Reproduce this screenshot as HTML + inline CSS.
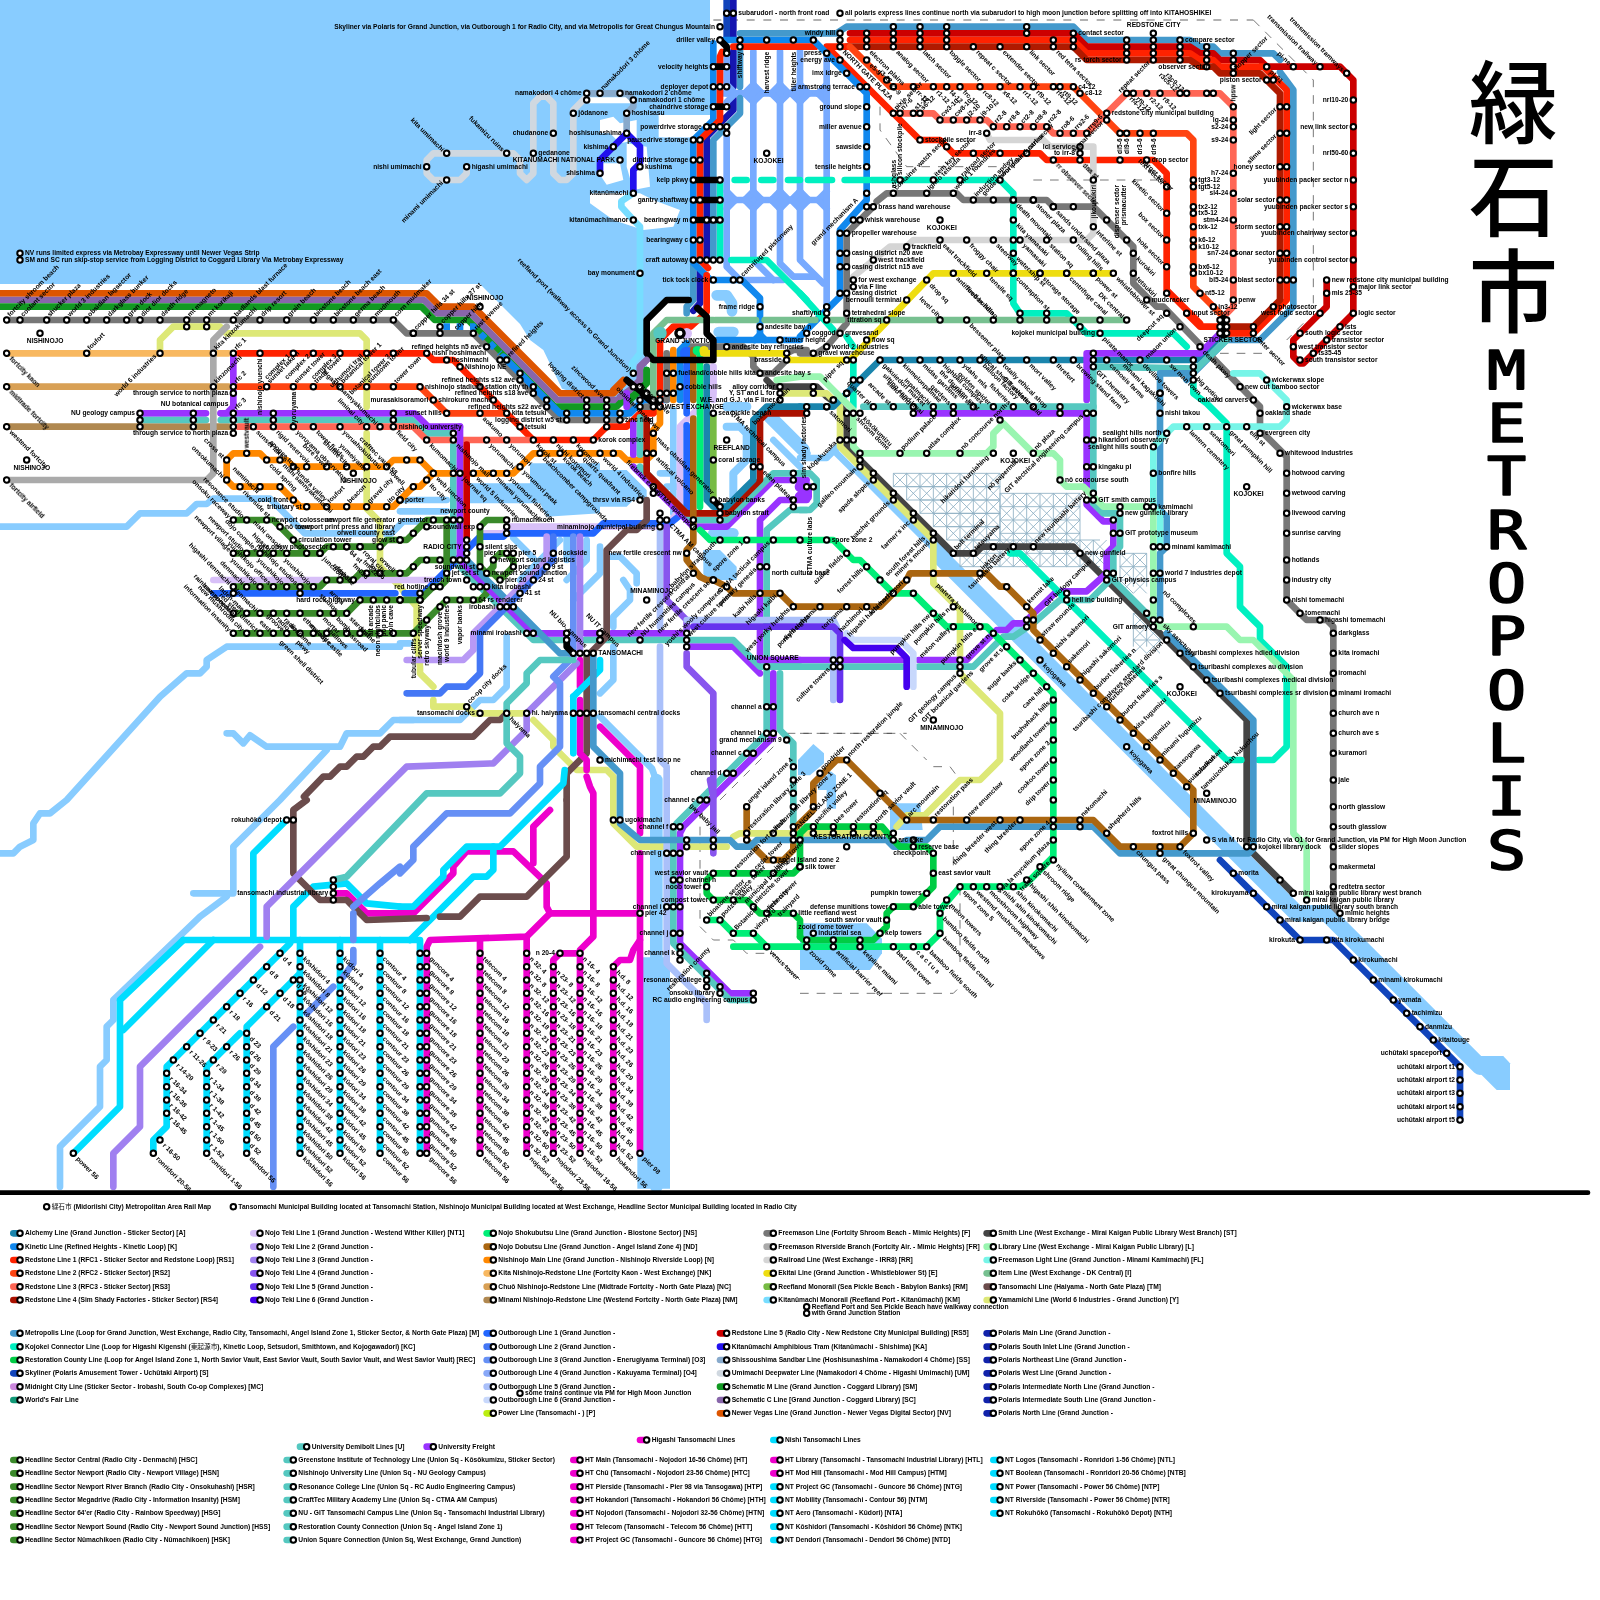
<!DOCTYPE html>
<html lang="ja"><head><meta charset="utf-8"><title>緑石市 Metropolis</title>
<style>
html,body{margin:0;padding:0;background:#fff}
svg{display:block}
.w polygon{fill:#88ccff}
.w polyline{fill:none;stroke:#88ccff;stroke-linejoin:round;stroke-linecap:round}
.l polyline{fill:none;stroke-linejoin:round;stroke-linecap:round}
.d polyline{fill:none;stroke:#999;stroke-width:.22;stroke-dasharray:1.2 1.3}
.th polyline{fill:none;stroke:#333;stroke-width:.1;stroke-dasharray:1.3 1.2}
.lat path{fill:none;stroke:#8fb0c4;stroke-width:.13}
.s circle{fill:#fff;stroke:#000;stroke-width:.3}
.t text{font-family:"Liberation Sans", "Noto Sans CJK JP", sans-serif;font-weight:bold;font-size:1px;fill:#000}
.big text{font-family:"Liberation Sans","Noto Sans CJK JP",sans-serif;font-weight:500;fill:#000}
.mono text{font-family:"DejaVu Sans Mono","Liberation Mono",monospace;font-weight:normal;fill:#000;stroke:#000;stroke-width:.25;stroke-linejoin:round}
</style></head><body>
<svg width="1600" height="1600" viewBox="0 0 240 240">
<rect x="-5" y="-5" width="250" height="250" fill="#fff"/>
<g id="all" style="filter:blur(.085px)">
<g class="w">
<polygon points="-3,-3 106.5,-3 106.5,17.25 98.8,17.25 98.8,20.6 104,20.6 104,45 100,45 97,48 97,60 93,61 84.3,58.3 81.5,52.5 79.5,51 78,48.6 72,42.6 -3,42.6"/>
<polyline stroke-width="1" points="0,79 19,79 21,77 28,77 29.5,75.6 31,75.6 32,74.8 40.5,74.8 45.7,80 58.7,80 60.5,78.2 64,78.2"/>
<polyline stroke-width="1" points="60,97 34,97 31,99 31,100 30,101 28,101 24,104.5 10,120 7.5,122 6,122 5,123.5 5,126 3,127 2,128 0,128"/>
<polyline stroke-width="1" points="34,110 35,110 36.5,111.5 37.5,110.3 40,112 51,112 52,110 57,110 59,108 62,108"/>
<polyline stroke-width="1" points="49,112.5 42,120 35,127 35,134 29,134"/>
<polyline stroke-width="1" points="34,134.5 30,137.5 17,150 17,153 16,154 16,159 15,160 15,166 9,172 9,178"/>
<polygon fill="#fff" style="fill:#fff" points="88,14.6 95.5,14.6 95.5,15.5 88,15.5"/>
<polygon fill="#fff" style="fill:#fff" points="90,18 92,17.5 93,18.5 95.5,18 95.5,21 93,21.5 91.5,20 90,20"/>
<polygon fill="#fff" style="fill:#fff" points="90.2,24.5 93,24.5 93.5,27 91,27.7 90.2,26.5"/>
<polygon fill="#fff" style="fill:#fff" points="94,21.5 97,22 97.5,28 95,28.5 94,25"/>
<polygon fill="#fff" style="fill:#fff" points="88.5,29 96,29 98,30 102,31.5 101,34 96.5,34.5 92,33 88.5,30.5"/>
<polygon fill="#fff" style="fill:#fff" points="98.8,17.25 106.5,17.25 104,20.6 99.5,20.6"/>
<polyline stroke-width="1.6" points="107.5,44.3 109,44.3 109.8,45.5 109.8,46.7"/>
<polyline stroke-width="1.6" points="107.8,49.8 110,49.8"/>
<polygon points="79.5,69.5 90,69.5 90,77 82,77.5 81,75.5 70.5,75.5 70.5,72.5 79.5,72.5"/>
<polyline stroke-width="1" points="60.5,75 67,75"/>
<polyline stroke-width="1" points="101,61.5 101,77"/>
<polyline stroke-width="1.2" points="109,64 111,64 112,65 112,69 110,71 110,75"/>
<polyline stroke-width="1.2" points="116,63 121,68"/>
<polyline stroke-width="1.6" points="107,80 110,80"/>
<polyline stroke-width="1.9" points="129,70.5 142,83.5"/>
<polyline stroke-width="2.5" points="141,83.5 194.5,137 199,137 222,160"/>
<polygon points="221,158.4 225.5,158.4 226.5,159.5 226.5,163.5 224.5,163.5 221,160"/>
<polyline stroke-width="1" points="120,68.7 124,68.7 126,66.7"/>
<polyline stroke-width="1" points="125.5,68 128,70.5"/>
<polygon points="119.7,114 122,111.6 123.6,113 123.6,114.5 121.5,116.3 119.7,116.3"/>
<polygon points="122.7,117.6 124.6,115.7 125.4,116.3 125.4,121.3 124,121.3 124,118.5 122.7,118.5"/>
<polyline stroke-width="1.9" points="98.45,117 98.45,178"/>
<polygon points="95.6,143.6 100.5,143.6 100.5,178.3 95.6,178.3"/>
<polyline stroke-width="1" points="90,107.5 97.8,115.3 98.4,117"/>
<polyline stroke-width="1" points="93.5,87 94.5,88.5 94.5,90 92,92.5 92,94"/>
<polyline stroke-width="1" points="92,97 92,102 90,104"/>
<polyline stroke-width="1" points="76,95.5 76,103 74,105 72,105 70.5,106.5 69,108 60,108"/>
<polyline stroke-width="1" points="60,96.5 61.5,96.5"/>
<polygon points="120,138.5 130,138.5 132.3,140.8 132.3,143 130.5,145.5 120,145.5"/>
<polygon points="133.5,120.5 138,120.5 138.4,124.5 133.5,124.5"/>
<polygon points="90,70.5 94,70.5 97,73.5 97,75 95,75 94,76 90,76"/>
<polyline stroke-width="1" points="99,71 101,71"/>
<polyline stroke-width="1" points="100,73 103,73"/>
<polyline stroke-width="1.4" points="109,61 112,61"/>
<polyline stroke-width="2" points="115.5,62.5 120.5,67.5"/>
<polyline stroke-width="1" points="116,66 120,70"/>
<polygon points="105.5,82.5 108,82.5 110.5,85 110.5,87 106,87 105.5,86"/>
<polyline stroke-width="1" points="91.5,83.5 93,83.5 95.5,86 95.5,87.5"/>
<polyline stroke-width="1" points="60,76.7 67,76.7"/>
<polyline stroke-width="1" points="85,80.5 85,84"/>
<polyline stroke-width="1" points="77,80.7 80,83.7"/>
<polyline stroke-width="1" points="84,81 78,87"/>
<polyline stroke-width="1" points="88,81 88,84 85,87"/>
<polyline stroke-width="1" points="90,82 90,86 86,90"/>
</g>
<g class="lat">
<path d="M134 71V73M136 71V73M138 71V73M140 71V73M142 71V73M144 71V73M146 71V73M148 71V73M150 71V73M134 71H150M134 73H150M134 71l2 2M136 71l-2 2M136 71l2 2M138 71l-2 2M138 71l2 2M140 71l-2 2M140 71l2 2M142 71l-2 2M142 71l2 2M144 71l-2 2M144 71l2 2M146 71l-2 2M146 71l2 2M148 71l-2 2M148 71l2 2M150 71l-2 2"/>
<path d="M136 73V75M138 73V75M140 73V75M142 73V75M144 73V75M146 73V75M148 73V75M150 73V75M136 73H150M136 75H150M136 73l2 2M138 73l-2 2M138 73l2 2M140 73l-2 2M140 73l2 2M142 73l-2 2M142 73l2 2M144 73l-2 2M144 73l2 2M146 73l-2 2M146 73l2 2M148 73l-2 2M148 73l2 2M150 73l-2 2"/>
<path d="M138 75V77M140 75V77M142 75V77M144 75V77M146 75V77M148 75V77M150 75V77M138 75H150M138 77H150M138 75l2 2M140 75l-2 2M140 75l2 2M142 75l-2 2M142 75l2 2M144 75l-2 2M144 75l2 2M146 75l-2 2M146 75l2 2M148 75l-2 2M148 75l2 2M150 75l-2 2"/>
<path d="M140 77V79M142 77V79M144 77V79M146 77V79M148 77V79M150 77V79M140 77H150M140 79H150M140 77l2 2M142 77l-2 2M142 77l2 2M144 77l-2 2M144 77l2 2M146 77l-2 2M146 77l2 2M148 77l-2 2M148 77l2 2M150 77l-2 2"/>
<path d="M142 79V81M144 79V81M146 79V81M148 79V81M150 79V81M142 79H150M142 81H150M142 79l2 2M144 79l-2 2M144 79l2 2M146 79l-2 2M146 79l2 2M148 79l-2 2M148 79l2 2M150 79l-2 2"/>
<path d="M150 74V81M152 74V81M154 74V81M156 74V81M158 74V81M160 74V81M162 74V81M150 74H162M150 76H162M150 78H162M150 80H162M150 74l2 2M152 74l-2 2M150 76l2 2M152 76l-2 2M150 78l2 2M152 78l-2 2M150 80l2 2M152 80l-2 2M152 74l2 2M154 74l-2 2M152 76l2 2M154 76l-2 2M152 78l2 2M154 78l-2 2M152 80l2 2M154 80l-2 2M154 74l2 2M156 74l-2 2M154 76l2 2M156 76l-2 2M154 78l2 2M156 78l-2 2M154 80l2 2M156 80l-2 2M156 74l2 2M158 74l-2 2M156 76l2 2M158 76l-2 2M156 78l2 2M158 78l-2 2M156 80l2 2M158 80l-2 2M158 74l2 2M160 74l-2 2M158 76l2 2M160 76l-2 2M158 78l2 2M160 78l-2 2M158 80l2 2M160 80l-2 2M160 74l2 2M162 74l-2 2M160 76l2 2M162 76l-2 2M160 78l2 2M162 78l-2 2M160 80l2 2M162 80l-2 2"/>
<path d="M144 81V85M146 81V85M148 81V85M150 81V85M152 81V85M154 81V85M156 81V85M158 81V85M160 81V85M162 81V85M164 81V85M144 81H165M144 83H165M144 85H165M144 81l2 2M146 81l-2 2M144 83l2 2M146 83l-2 2M146 81l2 2M148 81l-2 2M146 83l2 2M148 83l-2 2M148 81l2 2M150 81l-2 2M148 83l2 2M150 83l-2 2M150 81l2 2M152 81l-2 2M150 83l2 2M152 83l-2 2M152 81l2 2M154 81l-2 2M152 83l2 2M154 83l-2 2M154 81l2 2M156 81l-2 2M154 83l2 2M156 83l-2 2M156 81l2 2M158 81l-2 2M156 83l2 2M158 83l-2 2M158 81l2 2M160 81l-2 2M158 83l2 2M160 83l-2 2M160 81l2 2M162 81l-2 2M160 83l2 2M162 83l-2 2M162 81l2 2M164 81l-2 2M162 83l2 2M164 83l-2 2M164 81l2 2M166 81l-2 2M164 83l2 2M166 83l-2 2"/>
<path d="M168 83V88M170 83V88M172 83V88M168 83H172M168 85H172M168 87H172M168 83l2 2M170 83l-2 2M168 85l2 2M170 85l-2 2M168 87l2 2M170 87l-2 2M170 83l2 2M172 83l-2 2M170 85l2 2M172 85l-2 2M170 87l2 2M172 87l-2 2"/>
<path d="M170 92V97M172 92V97M174 92V97M170 92H174M170 94H174M170 96H174M170 92l2 2M172 92l-2 2M170 94l2 2M172 94l-2 2M170 96l2 2M172 96l-2 2M172 92l2 2M174 92l-2 2M172 94l2 2M174 94l-2 2M172 96l2 2M174 96l-2 2"/>
</g>
<g class="th">
<polyline points="188,3 197,12 197,45.5"/>
<polyline points="195.5,48.5 193,51"/>
<polyline points="183,53 191,53"/>
<polyline points="132,16 132,19.5 136,25 150,25"/>
<polyline points="155,27 175,27"/>
<polyline points="120,110 135,110 139,114"/>
<polyline points="140,115 142.5,115 144,117"/>
<polyline points="118,110 136,110"/>
<polyline points="116,112 108,120"/>
<polyline points="143,121 143,131"/>
<polyline points="144,133 144,145"/>
<polyline points="120,149 143,149 144,148"/>
<polyline points="105,121.5 105,139 107,141 110,141 112,143 116,143 120,147"/>
</g>
<g class="d">
<polyline points="107,3 188,3"/>
</g>
<g class="l">
<polyline stroke="#dd5500" stroke-width="1" points="0,44 64,44 66,46 71,46 84,59 92,59 93.5,57.5"/>
<polyline stroke="#8866aa" stroke-width="1" points="0,45 63.6,45 65.6,47 70.6,47 83.6,60 93,60 94.5,58.5 96,57 96,55 97,54"/>
<polyline stroke="#119922" stroke-width="1" points="0,46 63.2,46 65.2,48 70.2,48 83.2,61 92.5,61 94,59.5 97,57.5 97,55.5"/>
<polyline stroke="#777777" stroke-width="1" points="1,48 59,48 61,50 71,50 84,63 93,63 95,61 99,61"/>
<polyline stroke="#1188ee" stroke-width="1" stroke-dasharray="1,1" style="stroke-linecap:butt;stroke-linejoin:miter" points="66.5,49 71,49 75,53"/>
<polyline stroke="#1188ee" stroke-width="1" points="75.5,53.5 84,62 94.5,62 96.5,60 100,60 102,58"/>
<polyline stroke="#dde877" stroke-width="1" points="24,53 24,51 26,49 33,49 34,50 54,50 55,51 55,61"/>
<polyline stroke="#dde877" stroke-width="1" points="55,65 55,76.3 57,78.3 57,85 60,88 60.5,88.7 62.5,91 62.5,96 63,100 63,101 65,103"/>
<polyline stroke="#dde877" stroke-width="1" points="65,105 65,106 70,106 71,107 79,107"/>
<polyline stroke="#dde877" stroke-width="1" points="80,108 83,111 83,112 86.5,115.5 91,115.5 92,116.5 92,123.5 95.5,127 109,127"/>
<polyline stroke="#dde877" stroke-width="1" points="110,125.5 111,125 132,125"/>
<polyline stroke="#f8b860" stroke-width="1" points="1,53 34.3,53"/>
<polyline stroke="#d8a055" stroke-width="1" points="1,58 34.3,58"/>
<polyline stroke="#b08850" stroke-width="1" points="1,64 34.3,64"/>
<polyline stroke="#9933ff" stroke-width="1" points="21,62 30.9,62"/>
<polyline stroke="#9933ff" stroke-width="1" points="33.1,62 34,62 35,61 35,53"/>
<polyline stroke="#9933ff" stroke-width="1" points="33.1,62 62.2,62 64.2,64 69,64"/>
<polyline stroke="#55c8c0" stroke-width="1" points="21,63 30.9,63"/>
<polyline stroke="#55c8c0" stroke-width="1" points="33.1,63 61.8,63 63.8,65 68,65 68,84 80,96 84.5,96"/>
<polyline stroke="#aaaaaa" stroke-width="1" points="34,49 32,51 32,71 31,72 1,72"/>
<polyline stroke="#ff2200" stroke-width="1" points="35.8,53 64,53 65,54 68,54 80,66 89,66 91,64 94,64 96,62 98,62 99,61 99,59"/>
<polyline stroke="#ff4411" stroke-width="1" points="35.8,58 63,58 67,62 76,62"/>
<polyline stroke="#ff6655" stroke-width="1" points="35.8,64 62,64 64,66 79.5,66"/>
<polyline stroke="#ff8800" stroke-width="1" points="34,69 35,68 39,68 40,69 43,69 44,70 58,70 59,69 63,69 65,71 77,71 80,68 93,68 94,69 97,69 98,68 98,64.5 99,63.5 99,61"/>
<polyline stroke="#ff8800" stroke-width="1" points="34,69 34,72 35,73 42,73 45,76 59,76 62,73 63,73 65,71"/>
<polyline stroke="#d8c0f8" stroke-width="1" points="32,87 65.5,87 72.5,80 75.5,80 76.5,79 100,79 101.5,77 102,76.5 102,64 104,62 107,59 107,55"/>
<polyline stroke="#2266ff" stroke-width="1" points="32,89 59.3,89"/>
<polyline stroke="#2266ff" stroke-width="1" points="60.7,89 63.5,89 72,80.5 75.5,80.5 76,80 89,80 90.5,78.5 100.5,78.5 103,76.5 103,63.8"/>
<polyline stroke="#2266ff" stroke-width="1" points="103,62 103,55"/>
<polyline stroke="#3a8a2a" stroke-width="1" points="35,78 41,78 46,83"/>
<polyline stroke="#3a8a2a" stroke-width="1" points="35,83 48,83 49,82 57,82 58,81 61,81 64,78 69,78"/>
<polyline stroke="#3a8a2a" stroke-width="1" points="35,88 48,88 49,87 53,87 54,86 61,86 63,84 70,84"/>
<polyline stroke="#3a8a2a" stroke-width="1" points="35,92 52,92 54,90 63,90 65,88 66,88 67,87 67,78"/>
<polyline stroke="#3a8a2a" stroke-width="1" points="35,95 62,95 67,90 72,90 73,89 73,88 69,84"/>
<polyline stroke="#3a8a2a" stroke-width="1" points="76,78 73,78 72,79 72,85 73,86 74,86 75,87 77,85 77,84 76,83 75,83 74,84 74,85 73,86"/>
<polyline stroke="#d0d8e0" stroke-width="1" points="70,25 70,26 69,27 65,27 64,26 64,24 65,23 77,23 78,24 78,26 79,27 80,26 80,15.5 81,14.5 82,14.5 83,15.5 83,26 84,27 85,27 86,26 86,16.5 88,14.5"/>
<polyline stroke="#88aacc" stroke-width="1" points="88,14 94,14 95,15 95,16 94,17 94,20"/>
<polyline stroke="#2211ee" stroke-width="1" points="94,20 91,23 90,24 90,26"/>
<polyline stroke="#2211ee" stroke-width="1" points="94,20 96,22 96,24.5 95,25.5 95,29"/>
<polyline stroke="#77ddff" stroke-width="1" points="95,29 93.2,30.2 93.2,31 95,33 96,34 96,53 94.8,54.5 95,56"/>
<polyline stroke="#77aaff" stroke-width="1" points="109,8.5 109,14"/>
<polyline stroke="#77aaff" stroke-width="1" points="109,20.5 109,40 111,42 117.5,42"/>
<polyline stroke="#77aaff" stroke-width="1" points="108.5,14 124,14"/>
<polyline stroke="#77aaff" stroke-width="1" points="108.5,30 124,30"/>
<polyline stroke="#77aaff" stroke-width="1" points="113,7.7 113,39 116,42"/>
<polyline stroke="#77aaff" stroke-width="1" points="117,7.7 117,39.5 119,41.5 122,41.5"/>
<polyline stroke="#77aaff" stroke-width="1" points="120,7.7 120,39 123.5,42.5"/>
<polyline stroke="#00f0c0" stroke-width="1" stroke-dasharray="1.8,2.2" points="110.2,27 120,27"/>
<polyline stroke="#00f0c0" stroke-width="1" points="108,27.5 108,39"/>
<polyline stroke="#00f0c0" stroke-width="1" points="109.7,39 115,39 121,45"/>
<polyline stroke="#1144bb" stroke-width="1" points="109,0 109,5.5"/>
<polyline stroke="#1515b0" stroke-width="1" points="110,0 110,5.5"/>
<polyline stroke="#4499cc" stroke-width="1" points="111,13 111,7.5"/>
<polyline stroke="#4499cc" stroke-width="1" points="111,14.7 111,17 107,21 107,39"/>
<polyline stroke="#4499cc" stroke-width="1" points="104,39.7 104,45 103,46 103,47"/>
<polyline stroke="#1515b0" stroke-width="1" points="110,7.7 110,13"/>
<polyline stroke="#1515b0" stroke-width="1" points="110,14.8 110,16.5 106,20.5 106,39"/>
<polyline stroke="#1515b0" stroke-width="1" points="105,40.7 105,45.5 104,46.6"/>
<polyline stroke="#1188ee" stroke-width="1" points="108.6,6 122,6"/>
<polyline stroke="#1188ee" stroke-width="1" points="107,6.5 107,18 104,21 104,39.4 106.6,42 111.3,42 114,44.7 114,50.3"/>
<polyline stroke="#1188ee" stroke-width="1" points="107.6,51 120,51"/>
<polyline stroke="#1188ee" stroke-width="1" points="113.2,51 114,50.2 114.8,51"/>
<polyline stroke="#ff2200" stroke-width="1" points="110,7 122.3,7"/>
<polyline stroke="#ff2200" stroke-width="1" points="109,8 108.3,7.8 108,8.5 108,18 105,21 105,39 106.2,40.2"/>
<polyline stroke="#ff2200" stroke-width="1" points="106,41.3 106,46.8 103.6,49 101,49 99,51 99,60"/>
<polyline stroke="#000" stroke-width="1" points="108,6 109,7 109,8"/>
<polyline stroke="#000" stroke-width="1" points="107,10 109,10"/>
<polyline stroke="#000" stroke-width="1" points="107,16 109,16"/>
<polyline stroke="#000" stroke-width="1" points="104,27 108,27"/>
<polyline stroke="#000" stroke-width="1" points="104,30 108,30"/>
<polyline stroke="#000" stroke-width="1" points="104,33 108,33"/>
<polyline stroke="#77c090" stroke-width="1" points="98,60 98,50 100,48 107,48"/>
<polyline stroke="#77c090" stroke-width="1" points="107.3,48 113.4,48"/>
<polyline stroke="#77c090" stroke-width="1" points="114.7,48 120,48"/>
<polyline stroke="#777777" stroke-width="1" points="100,60 100,53"/>
<polyline stroke="#777777" stroke-width="1" points="103,52 111.5,52 113,53.5 113,55 114,56 116,56 118,54 118,53 119,52.5 121,52.5"/>
<polyline stroke="#ff8800" stroke-width="1" points="101,60 101,52.5"/>
<polyline stroke="#1188ee" stroke-width="1" points="102,60 102,52.5 103,51.5"/>
<polyline stroke="#2266ff" stroke-width="1" points="103,60 103,53"/>
<polyline stroke="#2266ff" stroke-width="2" points="103,53 103,53.01"/>
<polyline stroke="#55c8c0" stroke-width="2" points="99,50 99,50.01"/>
<polyline stroke="#d8c0f8" stroke-width="1.6" points="103,50 103,50.01"/>
<polyline stroke="#aa6611" stroke-width="1" points="104,60 104,52.5"/>
<polyline stroke="#00ee77" stroke-width="1" points="105,60 105,52.5"/>
<polyline stroke="#00ee77" stroke-width="1.4" points="104.6,52.6 104.6,52.61"/>
<polyline stroke="#eedd11" stroke-width="1.4" points="105.6,52.6 105.6,52.61"/>
<polyline stroke="#eedd11" stroke-width="1" points="105.5,53 117.5,53 118.5,54 126,54"/>
<polyline stroke="#1a85ad" stroke-width="1" points="106,60 106,55"/>
<polyline stroke="#d8c0f8" stroke-width="1" points="107,60 107,55"/>
<polyline stroke="#000" stroke-width="1" points="103.3,45 100,45 97,48 97,53 98,54 107,54 107,51 106,50 106,47.5 104.6,46.2"/>
<polyline stroke="#000" stroke-width="1" points="94,57 98,60.5"/>
<polyline stroke="#8866aa" stroke-width="1" points="93,59.5 94.5,58.5 96,57 96,55 97,54"/>
<polyline stroke="#119922" stroke-width="1" points="94,60.5 97,57.5 97,55.5"/>
<polyline stroke="#dd5500" stroke-width="1" points="92,58.5 93.5,57"/>
<polyline stroke="#444444" stroke-width="1" points="115,57 116,58 122.5,58 124,59.5 126,61 127,62 127,67 143,83 146.3,83 147.3,82 161,82 187,108 187,127 194,134"/>
<polyline stroke="#99f5b0" stroke-width="1" points="116.5,57 120,56.5"/>
<polyline stroke="#dde877" stroke-width="1" points="117.5,59 124,59 126,61 126,67 140,81 140,87.5 144,91.5 144,101 150,107 150,114 147,117 144,117 138.7,122.3 136,122.3 134.5,124"/>
<polyline stroke="#77aaff" stroke-width="1" points="111.7,14 113,12.7"/>
<polyline stroke="#77aaff" stroke-width="1" points="111.7,14 113,15.3"/>
<polyline stroke="#77aaff" stroke-width="1" points="114.3,14 113,12.7"/>
<polyline stroke="#77aaff" stroke-width="1" points="114.3,14 113,15.3"/>
<polyline stroke="#77aaff" stroke-width="1" points="111.7,30 113,28.7"/>
<polyline stroke="#77aaff" stroke-width="1" points="111.7,30 113,31.3"/>
<polyline stroke="#77aaff" stroke-width="1" points="114.3,30 113,28.7"/>
<polyline stroke="#77aaff" stroke-width="1" points="114.3,30 113,31.3"/>
<polyline stroke="#77aaff" stroke-width="1" points="115.7,14 117,12.7"/>
<polyline stroke="#77aaff" stroke-width="1" points="115.7,14 117,15.3"/>
<polyline stroke="#77aaff" stroke-width="1" points="118.3,14 117,12.7"/>
<polyline stroke="#77aaff" stroke-width="1" points="118.3,14 117,15.3"/>
<polyline stroke="#77aaff" stroke-width="1" points="115.7,30 117,28.7"/>
<polyline stroke="#77aaff" stroke-width="1" points="115.7,30 117,31.3"/>
<polyline stroke="#77aaff" stroke-width="1" points="118.3,30 117,28.7"/>
<polyline stroke="#77aaff" stroke-width="1" points="118.3,30 117,31.3"/>
<polyline stroke="#77aaff" stroke-width="1" points="118.7,14 120,12.7"/>
<polyline stroke="#77aaff" stroke-width="1" points="118.7,14 120,15.3"/>
<polyline stroke="#77aaff" stroke-width="1" points="121.3,14 120,12.7"/>
<polyline stroke="#77aaff" stroke-width="1" points="121.3,14 120,15.3"/>
<polyline stroke="#77aaff" stroke-width="1" points="118.7,30 120,28.7"/>
<polyline stroke="#77aaff" stroke-width="1" points="118.7,30 120,31.3"/>
<polyline stroke="#77aaff" stroke-width="1" points="121.3,30 120,28.7"/>
<polyline stroke="#77aaff" stroke-width="1" points="121.3,30 120,31.3"/>
<polyline stroke="#77aaff" stroke-width="1" points="110.3,14 109,12.7"/>
<polyline stroke="#77aaff" stroke-width="1" points="110.3,14 109,15.3"/>
<polyline stroke="#77aaff" stroke-width="1" points="122.7,14 124,12.7"/>
<polyline stroke="#77aaff" stroke-width="1" points="122.7,14 124,15.3"/>
<polyline stroke="#77aaff" stroke-width="1" points="110.3,30 109,28.7"/>
<polyline stroke="#77aaff" stroke-width="1" points="110.3,30 109,31.3"/>
<polyline stroke="#77aaff" stroke-width="1" points="122.7,30 124,28.7"/>
<polyline stroke="#77aaff" stroke-width="1" points="122.7,30 124,31.3"/>
<polyline stroke="#9933ff" stroke-width="1" points="69,64 69,84 80,95 84.5,95"/>
<polyline stroke="#9933ff" stroke-width="1" points="87.7,95 90,95"/>
<polyline stroke="#9933ff" stroke-width="1" points="91.7,95 102.5,95"/>
<polyline stroke="#9933ff" stroke-width="1" points="103,97 110,97 114,101"/>
<polyline stroke="#9933ff" stroke-width="1" points="115.5,99 120,99"/>
<polyline stroke="#9933ff" stroke-width="1" points="116,101 116,110.5 109.5,117 102.5,124 102,125 102,141.5 109.5,149 113,149"/>
<polyline stroke="#55c8c0" stroke-width="1" points="87.7,96 110,96 114,100 115,100"/>
<polyline stroke="#55c8c0" stroke-width="1" points="116,100 120,100"/>
<polyline stroke="#55c8c0" stroke-width="1" points="117,101 117,109.5 119,111.5 119,123.5"/>
<polyline stroke="#cc0000" stroke-width="1" points="70,66.7 70,80.5"/>
<polyline stroke="#4499cc" stroke-width="1" points="70,84 84,98 86,98"/>
<polyline stroke="#b899f5" stroke-width="1" points="82,80.5 82,84 71,95 71,97.5 70,98.5 69.5,99 61,99"/>
<polyline stroke="#4477f5" stroke-width="1" points="83,80.5 83,84 72,95 72,101 70,103 67,103 66,104 61,104"/>
<polyline stroke="#6690f5" stroke-width="1" points="86,80.5 86,97.5"/>
<polyline stroke="#a080f0" stroke-width="1" points="87,80.5 87,97.5"/>
<polyline stroke="#9933ff" stroke-width="1" points="94,59 94,61"/>
<polyline stroke="#9933ff" stroke-width="1" points="95,63.5 95,68.2"/>
<polyline stroke="#9933ff" stroke-width="1" points="95,70 103.5,78.5 104,79 109,79 116,72 121,72"/>
<polyline stroke="#55c8c0" stroke-width="1" points="96,62.6 96,68.2"/>
<polyline stroke="#55c8c0" stroke-width="1" points="96,70 104,78 109,78 116,71 120,71"/>
<polyline stroke="#9933ff" stroke-width="1" points="121,75 117,75 114,78 114,92.5"/>
<polyline stroke="#9933ff" stroke-width="1" points="114,94.6 114,99"/>
<polyline stroke="#55c8c0" stroke-width="1" points="121,76.5 118.5,76.5 115,79.5 115,110 108,117 101.5,123.5 101,124.5 101,141.5 109.5,150 113,150"/>
<polyline stroke="#aa1100" stroke-width="1" points="97,63 97,71 103,77 109,77 114,72 114,63 115,62 121,62"/>
<polyline stroke="#1a85ad" stroke-width="1" points="106,60 106,75 107,76 109,76 113,72 113,63 115,61 120,61"/>
<polyline stroke="#77bb44" stroke-width="1" points="107,62 107,75"/>
<polyline stroke="#000" stroke-width="1" points="107,75 108,76"/>
<polyline stroke="#aa6611" stroke-width="1" points="104,62.8 104,81.4 103,82.5 103,84 105,86.5"/>
<polyline stroke="#00ee77" stroke-width="1" points="105,60 105,76"/>
<polyline stroke="#00ee77" stroke-width="1" points="105,79.5 106.5,81 120,81"/>
<polyline stroke="#6b4c4c" stroke-width="1" points="97,75 97,78 95.5,79.5 94,79.5 91,82.5 91,95.5 89.5,97 88,98.5 88,113 85,116 85,120"/>
<polyline stroke="#aac0fa" stroke-width="1" points="99,79.5 99,94"/>
<polyline stroke="#aac0fa" stroke-width="1" points="99,97 99,114 100,115 100,144.5 106,150.5 106,153"/>
<polyline stroke="#8855ee" stroke-width="1" points="100,79 100,90 103,93 103,94.5"/>
<polyline stroke="#8855ee" stroke-width="1" points="103,98 103,100 107,104 107,128"/>
<polyline stroke="#000" stroke-width="1" points="94,57 99,61"/>
<polyline stroke="#77aaff" stroke-width="1" points="124,7.7 124,46"/>
<polyline stroke="#4499cc" stroke-width="1" points="111,5 125.5,5 127,4 161,4 163,6 178.5,6 180,7 182,7 183,8 191,8 192,9"/>
<polyline stroke="#4499cc" stroke-width="1" points="192,10.8 194,13.5 194,46 189,51 184,51 178,57"/>
<polyline stroke="#cc0000" stroke-width="1" points="127.5,5 161,5 163,7 178.5,7 180,8 182,8 183,9 189,9 190,10 201,10 203,12 203,47 195.5,54.5 195,54.5 194,53.5 194,51 199,46 199,42"/>
<polyline stroke="#ff2200" stroke-width="1" points="127.5,6 161,6 163,8 178.5,8 180,9 182,9 183,10 189.5,10 193,13.5 193,45 188,50 184,50"/>
<polyline stroke="#b01a00" stroke-width="1" points="127,7 161,7 163,9 178.5,9 180,10 182,10 183,11 189,11 192,14 192,45 188,49 184.5,49"/>
<polyline stroke="#ff2200" stroke-width="1" points="127,7 124,7 138,21 141,21 143,23 156,23 157,24 173,24 175,26 175,43.5 180,48.5"/>
<polyline stroke="#ff2200" stroke-width="1" points="178,47 180,49 183,49"/>
<polyline stroke="#ff4411" stroke-width="1" points="127.5,7 133.5,13 161,13 168,20 178,20 179,21 179,43 183,47"/>
<polyline stroke="#ff6655" stroke-width="1" points="134,17 140,17 141,18 148,18 149,19 157,19 158,20 163,20 169,14 183,14 185,16 185,46 184,47"/>
<polyline stroke="#d5d5d5" stroke-width="1" points="148,20 148.5,21 156.5,21 157.5,22 164,22 164,35 163,36 137,36 136,37 133.5,37 128,41.5 128,42"/>
<polyline stroke="#1188ee" stroke-width="1" points="122,6 129,13 130,14 130,30 126,34.5 126,44.5 120,50.5"/>
<polyline stroke="#00f0c0" stroke-width="1" stroke-dasharray="3.6,1.9" points="121.2,27 130.5,27"/>
<polyline stroke="#00f0c0" stroke-width="1" points="130.7,27 150,27 152,29 152,45.5 153,47 160,47 163,50 176,50 178,52"/>
<polyline stroke="#00f0c0" stroke-width="1" points="120,44 125,49.5"/>
<polyline stroke="#00f0c0" stroke-width="1" points="127,50.5 128,52"/>
<polyline stroke="#00f0c0" stroke-width="1" points="128,54.5 128,61"/>
<polyline stroke="#00f0c0" stroke-width="1" points="179,57.5 179,59 181,60.5 184,63.5 184,83 186,85 186,91 189,94 189,96 193,100 193,112 191,114 188.8,114"/>
<polyline stroke="#00f0c0" stroke-width="1" points="186.2,114 184,114 180,110"/>
<polyline stroke="#777777" stroke-width="1" points="131.5,30.2 133,29 143.5,29 144.5,30 157,30 158,31 164,31 170,37 170,42.5 172.5,45 173.5,46 174.5,46 188,60 189,61 189,64.5 193,68.5 193,90 195,92 196,93 199,93 200,94 200,136 201,137"/>
<polyline stroke="#777777" stroke-width="1" points="131,31 127,35 127,48.5 124,52 122.5,53 120,53"/>
<polyline stroke="#eedd11" stroke-width="1" points="126,54 127.5,54 140,41 167,41"/>
<polyline stroke="#77c090" stroke-width="1" points="120,48 122.3,48"/>
<polyline stroke="#77c090" stroke-width="1" points="124.6,48 126.3,48"/>
<polyline stroke="#77c090" stroke-width="1" points="127.8,48 169,48"/>
<polyline stroke="#1a85ad" stroke-width="1" points="120,61 123.3,61"/>
<polyline stroke="#1a85ad" stroke-width="1" points="124.2,61 125,61 132,54 162.4,54"/>
<polyline stroke="#1a85ad" stroke-width="1" points="163.6,54 179.5,54 183,50.5"/>
<polyline stroke="#9933ff" stroke-width="1" points="163,60 163,53 180,53 183,50"/>
<polyline stroke="#9933ff" stroke-width="1" points="137,62 162.5,62 163,62.5 163,73"/>
<polyline stroke="#9933ff" stroke-width="1" points="163,75 163,75.7 165.5,78.2 167,78.2 167,82 166,83 166,86 163,88.7 158.5,88.7 153.5,93.5 152,93.5 151,94.5 149.5,94.5 145,99 137.8,99"/>
<polyline stroke="#9933ff" stroke-width="1" points="135.3,99 114,99"/>
<polyline stroke="#55c8c0" stroke-width="1" points="164,75.5 164,55 179.5,55.3 184,51"/>
<polyline stroke="#55c8c0" stroke-width="1" points="129.5,61 164,61"/>
<polyline stroke="#55c8c0" stroke-width="1" points="164,75.5 165.5,77 168,77 168,82 167,83 167,86.5 163.5,90 159,90 155,93.5 153.5,94.5 152,95.5 150.5,95.5 146,100 137.8,100"/>
<polyline stroke="#55c8c0" stroke-width="1" points="135.3,100 115,100"/>
<polyline stroke="#55c8c0" stroke-width="1" points="167,87 173,93"/>
<polyline stroke="#4499cc" stroke-width="1" points="174,56.5 174,76.5 175,77.5 175,82 174,83 174,93"/>
<polyline stroke="#4499cc" stroke-width="1" points="175,95 188,108 188,127.3 187.3,128 168,128 164,124 141,124 139,126 136,126 135,127 134,127 133,126 120,126"/>
<polyline stroke="#4499cc" stroke-width="1" points="174,56 179,56"/>
<polyline stroke="#77f5e8" stroke-width="1" points="185,56 189,56 193,60 193,63 192,64 176,64 173,67 173,76 174,77 174,82"/>
<polyline stroke="#99f5b0" stroke-width="1" points="120,56.5 123,56.5 125,58.5 127,60.5 128,61.5 128,67 129,68 148,68 149,67 149,65 150.5,63.5 155,68 158,68 159,69 159,72 160,73 162.5,73 165.5,76 173,76 173,93.5 174,94 184,94 186,96 188,96 194,102 194,125 196,127 196,135"/>
<polyline stroke="#000" stroke-width="1.6" points="183.5,48 183.5,50"/>
<polyline stroke="#00ee77" stroke-width="1" points="120,81 125,81 128,84 129,84 132,87 134,89 137,89 142,94 148,94 158,104 158,128.5 154,132.5 153,133 144,133 141,136.5 141,140 139,142 110,142"/>
<polyline stroke="#aa6611" stroke-width="1" points="105,86.5 106,87 107,87 109,88 110,89 117,89 119,91 132,91 136,87 136.5,86 148,86 150,88 151,88 155,92 155,94.5 179,118.5 179,125 177,127 168,127 164,123 136,123 127,114 125.5,114 122,117.5 122,121.5 119.5,124 119,124.5 119,127.5 117.5,129 115,129 112.5,126.5 112,126 112,121"/>
<polyline stroke="#00f0c0" stroke-width="1" points="151.5,83 153,83 180,110"/>
<polyline stroke="#aac0fa" stroke-width="1" points="103,93 125,93 125.5,94 125,94.5 125,105"/>
<polyline stroke="#6633ee" stroke-width="1" points="104,94 125,94 126,95 126,105"/>
<polyline stroke="#c8d8fc" stroke-width="1" points="127,95 128,96 135,96 137,98 137,103"/>
<polyline stroke="#4400ee" stroke-width="1" points="126.7,96 128,97.2 134.5,97.2 136,98.7 136,103"/>
<polyline stroke="#55c8c0" stroke-width="1" points="120,71 121.5,71 122.5,72 122.5,75.5 121.5,76.5 120,76.5"/>
<polyline stroke="#9933ff" stroke-width="1.6" points="120,73 121,73 121,74.5 120,74.5"/>
<polyline stroke="#1144bb" stroke-width="1" points="183,129 195,141 200,141 219,160 219,168"/>
<polyline stroke="#ee00cc" stroke-width="1" points="87,99 87,103"/>
<polyline stroke="#ee00cc" stroke-width="1" points="87,105 87,113 88,114 88,115.5"/>
<polyline stroke="#ee00cc" stroke-width="1" points="90,109 96,115 96,125"/>
<polyline stroke="#ee00cc" stroke-width="1" points="96,128 96,141 95,142.5 94.5,144 93,144 92,145 92,173"/>
<polyline stroke="#ee00cc" stroke-width="1" points="96,141 96,173"/>
<polyline stroke="#ee00cc" stroke-width="1" points="82.5,137 96,137"/>
<polyline stroke="#ee00cc" stroke-width="1" points="88,116.5 88.5,118 89,119 89,140.5 87,142.5 87,173"/>
<polyline stroke="#ee00cc" stroke-width="1" points="87,143 84,143 83,144 83,173"/>
<polyline stroke="#ee00cc" stroke-width="1" points="82.5,121.5 80,124 80,129.5"/>
<polyline stroke="#ee00cc" stroke-width="1" points="60,137 62,137 68,131 68,130 70,127.7 77,127.7 82,132.5 82,136 82.5,137 79,140.5 64.5,141 64,142 64,173"/>
<polyline stroke="#ee00cc" stroke-width="1" points="72,141 72,173"/>
<polyline stroke="#ee00cc" stroke-width="1" points="79,140.5 79,173"/>
<polyline stroke="#ee00cc" stroke-width="1" points="50,134 52,134 55,137 60,137"/>
<polyline stroke="#00ddff" stroke-width="1" points="27.5,141 63,141 63,173"/>
<polyline stroke="#00ddff" stroke-width="1" points="11,173 18,166 18,150 27.5,141"/>
<polyline stroke="#00ddff" stroke-width="1" points="18.5,154.5 32,141"/>
<polyline stroke="#00ddff" stroke-width="1" points="38,141 38,128 43,123"/>
<polyline stroke="#00ddff" stroke-width="1" points="44,141 44,136 47,133 52,132.5 55,135.5 60,136"/>
<polyline stroke="#00ddff" stroke-width="1" points="57,141 57,173"/>
<polyline stroke="#00ddff" stroke-width="1" points="51,141 51,173"/>
<polyline stroke="#00ddff" stroke-width="1" points="45,141 45,173"/>
<polyline stroke="#00ddff" stroke-width="1" points="43.5,141.5 42,143 26,159 25,160 25,169 23,171 23,173"/>
<polyline stroke="#00ddff" stroke-width="1" points="45,146 44,147 38,153 37,154 37,173"/>
<polyline stroke="#00ddff" stroke-width="1" points="36,155 32,159 31,160 31,173"/>
<polyline stroke="#00ddff" stroke-width="1" points="86,104.5 86,113"/>
<polyline stroke="#00ddff" stroke-width="1" points="86,104.5 90,100.5 90,99"/>
<polyline stroke="#00ddff" stroke-width="1" points="84.7,115.5 84.5,117.5 75.5,126.5 75,127 70,127 66.5,130.5 66.5,131.5 62,136 60,136"/>
<polyline stroke="#00ddff" stroke-width="1" points="74,127 74,130.5 73,131.5 71,131.5 61.5,141"/>
<polyline stroke="#6b4c4c" stroke-width="1" points="46,120 44,121.5 44,131 48,135 52,135 55,138 64,137.7"/>
<polyline stroke="#6b4c4c" stroke-width="1" points="66,137.5 69,137.5 72,134.5 79,134.5 85,128.5 85,120"/>
<polyline stroke="#6b4c4c" stroke-width="1" points="76,107 75,108 73.5,108 71,110.5 58.5,110.5 57,112 56,112 54.5,113.5 53.5,113.5 52,115 51,115 49.5,116.5 48.5,116.5 45.6,119.5"/>
<polyline stroke="#a080f0" stroke-width="1" points="86.5,99.5 79,107 79,109.5 74,114.5 61,115 56,120 40,136 40,140.5"/>
<polyline stroke="#a080f0" stroke-width="1" points="39,142 21,160 21,169 17,173 17,178"/>
<polyline stroke="#6690f5" stroke-width="1" points="86,98.5 83,101.5 84,102.5 84,112 81,115 81,117.5 76.5,122 67,122 62,127 62,129 60,131"/>
<polyline stroke="#6690f5" stroke-width="1" points="53,137 53,141"/>
<polyline stroke="#6690f5" stroke-width="1" points="53,142.5 53,144.5 51.5,146.5"/>
<polyline stroke="#6690f5" stroke-width="1" points="50,148 46,152"/>
<polyline stroke="#6690f5" stroke-width="1" points="44,154 41,157 41,178"/>
<polyline stroke="#6690f5" stroke-width="1" points="53,136 57,132.5 60,130"/>
<polyline stroke="#55c8c0" stroke-width="1" points="86,99 81,99 79,101 79,102.5 76,105.5 76,111.5 78,113.5 78,116 75,119 64,119 52,131.5 50,132"/>
<polyline stroke="#4499cc" stroke-width="1" points="89,98.5 89,112 93,116 93,123.5 96,126 109.5,126 110.5,127 112.5,127 113.5,126 120,126"/>
<polyline stroke="#00cc44" stroke-width="1" points="120,140.5 120.5,141 131,141 133,139 133,137 134,136 137,136 140,133 140,128 139,127 135,127 134,126 132.3,124 121,124 120,125 120,130 119,131 107,131 106,132 106,134 107,135 112,135 114,137 119,137 120,138 120,140.5"/>
<polyline stroke="#00ee77" stroke-width="1" points="106,138 108,138 110,140 113,140 115,142"/>
<polyline stroke="#8855ee" stroke-width="1" points="106.5,117 107,119.5"/>
<polyline stroke="#000" stroke-width="1" points="85,96 85,97 86,98"/>
<polyline stroke="#000" stroke-width=".7" points="0,178.9 238.2,178.9"/>
<polyline stroke="#1a85ad" stroke-width="1" points="2,185 3,185"/>
<polyline stroke="#1188ee" stroke-width="1" points="2,187 3,187"/>
<polyline stroke="#ff2200" stroke-width="1" points="2,189 3,189"/>
<polyline stroke="#ff4411" stroke-width="1" points="2,191 3,191"/>
<polyline stroke="#ff6655" stroke-width="1" points="2,193 3,193"/>
<polyline stroke="#aa1100" stroke-width="1" points="2,195 3,195"/>
<polyline stroke="#d8c0f8" stroke-width="1" points="38,185 39,185"/>
<polyline stroke="#b899f5" stroke-width="1" points="38,187 39,187"/>
<polyline stroke="#a080f0" stroke-width="1" points="38,189 39,189"/>
<polyline stroke="#8855ee" stroke-width="1" points="38,191 39,191"/>
<polyline stroke="#6633ee" stroke-width="1" points="38,193 39,193"/>
<polyline stroke="#4400ee" stroke-width="1" points="38,195 39,195"/>
<polyline stroke="#00ee77" stroke-width="1" points="73,185 74,185"/>
<polyline stroke="#aa6611" stroke-width="1" points="73,187 74,187"/>
<polyline stroke="#ff8800" stroke-width="1" points="73,189 74,189"/>
<polyline stroke="#f8b860" stroke-width="1" points="73,191 74,191"/>
<polyline stroke="#d8a055" stroke-width="1" points="73,193 74,193"/>
<polyline stroke="#b08850" stroke-width="1" points="73,195 74,195"/>
<polyline stroke="#777777" stroke-width="1" points="115,185 116,185"/>
<polyline stroke="#aaaaaa" stroke-width="1" points="115,187 116,187"/>
<polyline stroke="#d5d5d5" stroke-width="1" points="115,189 116,189"/>
<polyline stroke="#eedd11" stroke-width="1" points="115,191 116,191"/>
<polyline stroke="#77bb44" stroke-width="1" points="115,193 116,193"/>
<polyline stroke="#77ddff" stroke-width="1" points="115,195 116,195"/>
<polyline stroke="#444444" stroke-width="1" points="148,185 149,185"/>
<polyline stroke="#99f5b0" stroke-width="1" points="148,187 149,187"/>
<polyline stroke="#77f5e8" stroke-width="1" points="148,189 149,189"/>
<polyline stroke="#77c090" stroke-width="1" points="148,191 149,191"/>
<polyline stroke="#6b4c4c" stroke-width="1" points="148,193 149,193"/>
<polyline stroke="#dde877" stroke-width="1" points="148,195 149,195"/>
<polyline stroke="#4499cc" stroke-width="1" points="2,200 3,200"/>
<polyline stroke="#00f0c0" stroke-width="1" points="2,202 3,202"/>
<polyline stroke="#00cc44" stroke-width="1" points="2,204 3,204"/>
<polyline stroke="#1144bb" stroke-width="1" points="2,206 3,206"/>
<polyline stroke="#cc88dd" stroke-width="1" points="2,208 3,208"/>
<polyline stroke="#119977" stroke-width="1" points="2,210 3,210"/>
<polyline stroke="#2266ff" stroke-width="1" points="73,200 74,200"/>
<polyline stroke="#4477f5" stroke-width="1" points="73,202 74,202"/>
<polyline stroke="#6690f5" stroke-width="1" points="73,204 74,204"/>
<polyline stroke="#88a8f8" stroke-width="1" points="73,206 74,206"/>
<polyline stroke="#aac0fa" stroke-width="1" points="73,208 74,208"/>
<polyline stroke="#c8d8fc" stroke-width="1" points="73,210 74,210"/>
<polyline stroke="#bbee11" stroke-width="1" points="73,212 74,212"/>
<polyline stroke="#cc0000" stroke-width="1" points="108,200 109,200"/>
<polyline stroke="#2211ee" stroke-width="1" points="108,202 109,202"/>
<polyline stroke="#88aacc" stroke-width="1" points="108,204 109,204"/>
<polyline stroke="#d0d8e0" stroke-width="1" points="108,206 109,206"/>
<polyline stroke="#119922" stroke-width="1" points="108,208 109,208"/>
<polyline stroke="#8866aa" stroke-width="1" points="108,210 109,210"/>
<polyline stroke="#dd5500" stroke-width="1" points="108,212 109,212"/>
<polyline stroke="#1122aa" stroke-width="1" points="148,200 149,200"/>
<polyline stroke="#1122aa" stroke-width="1" points="148,202 149,202"/>
<polyline stroke="#1122aa" stroke-width="1" points="148,204 149,204"/>
<polyline stroke="#1122aa" stroke-width="1" points="148,206 149,206"/>
<polyline stroke="#1122aa" stroke-width="1" points="148,208 149,208"/>
<polyline stroke="#1122aa" stroke-width="1" points="148,210 149,210"/>
<polyline stroke="#1122aa" stroke-width="1" points="148,212 149,212"/>
<polyline stroke="#55c8c0" stroke-width="1" points="45,217 46,217"/>
<polyline stroke="#9933ff" stroke-width="1" points="64,217 65,217"/>
<polyline stroke="#ee00cc" stroke-width="1" points="96,216 97,216"/>
<polyline stroke="#00ddff" stroke-width="1" points="116,216 117,216"/>
<polyline stroke="#3a8a2a" stroke-width="1" points="2,219 3,219"/>
<polyline stroke="#3a8a2a" stroke-width="1" points="2,221 3,221"/>
<polyline stroke="#3a8a2a" stroke-width="1" points="2,223 3,223"/>
<polyline stroke="#3a8a2a" stroke-width="1" points="2,225 3,225"/>
<polyline stroke="#3a8a2a" stroke-width="1" points="2,227 3,227"/>
<polyline stroke="#3a8a2a" stroke-width="1" points="2,229 3,229"/>
<polyline stroke="#3a8a2a" stroke-width="1" points="2,231 3,231"/>
<polyline stroke="#55c8c0" stroke-width="1" points="43,219 44,219"/>
<polyline stroke="#55c8c0" stroke-width="1" points="43,221 44,221"/>
<polyline stroke="#55c8c0" stroke-width="1" points="43,223 44,223"/>
<polyline stroke="#55c8c0" stroke-width="1" points="43,225 44,225"/>
<polyline stroke="#55c8c0" stroke-width="1" points="43,227 44,227"/>
<polyline stroke="#55c8c0" stroke-width="1" points="43,229 44,229"/>
<polyline stroke="#55c8c0" stroke-width="1" points="43,231 44,231"/>
<polyline stroke="#ee00cc" stroke-width="1" points="86,219 87,219"/>
<polyline stroke="#ee00cc" stroke-width="1" points="86,221 87,221"/>
<polyline stroke="#ee00cc" stroke-width="1" points="86,223 87,223"/>
<polyline stroke="#ee00cc" stroke-width="1" points="86,225 87,225"/>
<polyline stroke="#ee00cc" stroke-width="1" points="86,227 87,227"/>
<polyline stroke="#ee00cc" stroke-width="1" points="86,229 87,229"/>
<polyline stroke="#ee00cc" stroke-width="1" points="86,231 87,231"/>
<polyline stroke="#ee00cc" stroke-width="1" points="116,219 117,219"/>
<polyline stroke="#ee00cc" stroke-width="1" points="116,221 117,221"/>
<polyline stroke="#00ddff" stroke-width="1" points="116,223 117,223"/>
<polyline stroke="#00ddff" stroke-width="1" points="116,225 117,225"/>
<polyline stroke="#00ddff" stroke-width="1" points="116,227 117,227"/>
<polyline stroke="#00ddff" stroke-width="1" points="116,229 117,229"/>
<polyline stroke="#00ddff" stroke-width="1" points="116,231 117,231"/>
<polyline stroke="#00ddff" stroke-width="1" points="149,219 150,219"/>
<polyline stroke="#00ddff" stroke-width="1" points="149,221 150,221"/>
<polyline stroke="#00ddff" stroke-width="1" points="149,223 150,223"/>
<polyline stroke="#00ddff" stroke-width="1" points="149,225 150,225"/>
<polyline stroke="#00ddff" stroke-width="1" points="149,227 150,227"/>
</g>
<g class="s">
<circle cx="1" cy="48" r=".41"/>
<circle cx="3" cy="48" r=".41"/>
<circle cx="7" cy="48" r=".41"/>
<circle cx="10" cy="48" r=".41"/>
<circle cx="13" cy="48" r=".41"/>
<circle cx="16" cy="48" r=".41"/>
<circle cx="19" cy="48" r=".41"/>
<circle cx="21" cy="48" r=".41"/>
<circle cx="24" cy="48" r=".41"/>
<circle cx="28" cy="48" r=".41"/>
<circle cx="31" cy="48" r=".41"/>
<circle cx="35" cy="48" r=".41"/>
<circle cx="39" cy="48" r=".41"/>
<circle cx="43" cy="48" r=".41"/>
<circle cx="47" cy="48" r=".41"/>
<circle cx="50" cy="48" r=".41"/>
<circle cx="53" cy="48" r=".41"/>
<circle cx="56" cy="48" r=".41"/>
<circle cx="59" cy="48" r=".41"/>
<circle cx="28" cy="49" r=".41"/>
<circle cx="31" cy="49" r=".41"/>
<circle cx="3" cy="38" r=".41"/>
<circle cx="3" cy="39" r=".41"/>
<circle cx="6" cy="50" r=".41"/>
<circle cx="4" cy="69" r=".41"/>
<circle cx="53" cy="71" r=".41"/>
<circle cx="1" cy="53" r=".41"/>
<circle cx="13" cy="53" r=".41"/>
<circle cx="24" cy="53" r=".41"/>
<circle cx="32" cy="53" r=".41"/>
<circle cx="35" cy="53" r=".41"/>
<circle cx="1" cy="58" r=".41"/>
<circle cx="32" cy="58" r=".41"/>
<circle cx="35" cy="58" r=".41"/>
<circle cx="35" cy="59" r=".41"/>
<circle cx="1" cy="64" r=".41"/>
<circle cx="21" cy="62" r=".41"/>
<circle cx="21" cy="63" r=".41"/>
<circle cx="21" cy="64" r=".41"/>
<circle cx="29" cy="62" r=".41"/>
<circle cx="29" cy="63" r=".41"/>
<circle cx="29" cy="64" r=".41"/>
<circle cx="35" cy="62" r=".41"/>
<circle cx="35" cy="63" r=".41"/>
<circle cx="35" cy="64" r=".41"/>
<circle cx="35" cy="65" r=".41"/>
<circle cx="1" cy="72" r=".41"/>
<circle cx="39" cy="53" r=".41"/>
<circle cx="44" cy="53" r=".41"/>
<circle cx="47" cy="53" r=".41"/>
<circle cx="51" cy="53" r=".41"/>
<circle cx="55" cy="53" r=".41"/>
<circle cx="59" cy="53" r=".41"/>
<circle cx="40" cy="58" r=".41"/>
<circle cx="44" cy="58" r=".41"/>
<circle cx="47" cy="58" r=".41"/>
<circle cx="51" cy="58" r=".41"/>
<circle cx="55" cy="58" r=".41"/>
<circle cx="59" cy="58" r=".41"/>
<circle cx="41" cy="62" r=".41"/>
<circle cx="41" cy="63" r=".41"/>
<circle cx="59" cy="62" r=".41"/>
<circle cx="59" cy="63" r=".41"/>
<circle cx="38" cy="64" r=".41"/>
<circle cx="41" cy="64" r=".41"/>
<circle cx="44" cy="64" r=".41"/>
<circle cx="47" cy="64" r=".41"/>
<circle cx="51" cy="64" r=".41"/>
<circle cx="55" cy="64" r=".41"/>
<circle cx="57" cy="64" r=".41"/>
<circle cx="59" cy="64" r=".41"/>
<circle cx="37" cy="68" r=".41"/>
<circle cx="34" cy="69" r=".41"/>
<circle cx="40" cy="69" r=".41"/>
<circle cx="42" cy="69" r=".41"/>
<circle cx="44" cy="70" r=".41"/>
<circle cx="46" cy="70" r=".41"/>
<circle cx="49" cy="70" r=".41"/>
<circle cx="52" cy="70" r=".41"/>
<circle cx="55" cy="70" r=".41"/>
<circle cx="58" cy="70" r=".41"/>
<circle cx="34" cy="72" r=".41"/>
<circle cx="36" cy="73" r=".41"/>
<circle cx="39" cy="73" r=".41"/>
<circle cx="42" cy="73" r=".41"/>
<circle cx="44" cy="75" r=".41"/>
<circle cx="46" cy="76" r=".41"/>
<circle cx="49" cy="76" r=".41"/>
<circle cx="52" cy="76" r=".41"/>
<circle cx="55" cy="76" r=".41"/>
<circle cx="58" cy="76" r=".41"/>
<circle cx="60" cy="75" r=".41"/>
<circle cx="35" cy="78" r=".41"/>
<circle cx="37" cy="78" r=".41"/>
<circle cx="40" cy="78" r=".41"/>
<circle cx="42" cy="79" r=".41"/>
<circle cx="44" cy="81" r=".41"/>
<circle cx="35" cy="83" r=".41"/>
<circle cx="37" cy="83" r=".41"/>
<circle cx="39" cy="83" r=".41"/>
<circle cx="41" cy="83" r=".41"/>
<circle cx="43" cy="83" r=".41"/>
<circle cx="46" cy="83" r=".41"/>
<circle cx="48" cy="83" r=".41"/>
<circle cx="50" cy="82" r=".41"/>
<circle cx="52" cy="82" r=".41"/>
<circle cx="54" cy="82" r=".41"/>
<circle cx="57" cy="82" r=".41"/>
<circle cx="60" cy="81" r=".41"/>
<circle cx="48" cy="83" r=".41"/>
<circle cx="52" cy="82" r=".41"/>
<circle cx="54" cy="82" r=".41"/>
<circle cx="35" cy="88" r=".41"/>
<circle cx="37" cy="88" r=".41"/>
<circle cx="39" cy="88" r=".41"/>
<circle cx="41" cy="88" r=".41"/>
<circle cx="43" cy="88" r=".41"/>
<circle cx="45" cy="88" r=".41"/>
<circle cx="47" cy="88" r=".41"/>
<circle cx="49" cy="87" r=".41"/>
<circle cx="51" cy="87" r=".41"/>
<circle cx="53" cy="87" r=".41"/>
<circle cx="55" cy="86" r=".41"/>
<circle cx="57" cy="86" r=".41"/>
<circle cx="60" cy="86" r=".41"/>
<circle cx="35" cy="89" r=".41"/>
<circle cx="45" cy="89" r=".41"/>
<circle cx="54" cy="90" r=".41"/>
<circle cx="56" cy="90" r=".41"/>
<circle cx="58" cy="90" r=".41"/>
<circle cx="60" cy="90" r=".41"/>
<circle cx="35" cy="92" r=".41"/>
<circle cx="37" cy="92" r=".41"/>
<circle cx="39" cy="92" r=".41"/>
<circle cx="41" cy="92" r=".41"/>
<circle cx="43" cy="92" r=".41"/>
<circle cx="45" cy="92" r=".41"/>
<circle cx="48" cy="92" r=".41"/>
<circle cx="50" cy="92" r=".41"/>
<circle cx="52" cy="92" r=".41"/>
<circle cx="35" cy="95" r=".41"/>
<circle cx="37" cy="95" r=".41"/>
<circle cx="39" cy="95" r=".41"/>
<circle cx="41" cy="95" r=".41"/>
<circle cx="43" cy="95" r=".41"/>
<circle cx="45" cy="95" r=".41"/>
<circle cx="47" cy="95" r=".41"/>
<circle cx="49" cy="95" r=".41"/>
<circle cx="52" cy="95" r=".41"/>
<circle cx="54" cy="95" r=".41"/>
<circle cx="57" cy="95" r=".41"/>
<circle cx="59" cy="95" r=".41"/>
<circle cx="67" cy="23" r=".41"/>
<circle cx="64" cy="25" r=".41"/>
<circle cx="70" cy="25" r=".41"/>
<circle cx="67" cy="27" r=".41"/>
<circle cx="76" cy="23" r=".41"/>
<circle cx="80" cy="23" r=".41"/>
<circle cx="83" cy="20" r=".41"/>
<circle cx="86" cy="17" r=".41"/>
<circle cx="88" cy="14" r=".41"/>
<circle cx="88" cy="15" r=".41"/>
<circle cx="90" cy="14" r=".41"/>
<circle cx="93" cy="14" r=".41"/>
<circle cx="95" cy="15" r=".41"/>
<circle cx="94" cy="17" r=".41"/>
<circle cx="94" cy="20" r=".41"/>
<circle cx="92" cy="22" r=".41"/>
<circle cx="93" cy="24" r=".41"/>
<circle cx="90" cy="26" r=".41"/>
<circle cx="96" cy="25" r=".41"/>
<circle cx="95" cy="29" r=".41"/>
<circle cx="95" cy="33" r=".41"/>
<circle cx="96" cy="41" r=".41"/>
<circle cx="95" cy="56" r=".41"/>
<circle cx="108" cy="4" r=".41"/>
<circle cx="109" cy="2" r=".41"/>
<circle cx="110" cy="2" r=".41"/>
<circle cx="108" cy="6" r=".41"/>
<circle cx="111" cy="6" r=".41"/>
<circle cx="111" cy="7" r=".41"/>
<circle cx="115" cy="6" r=".41"/>
<circle cx="119" cy="6" r=".41"/>
<circle cx="109" cy="8" r=".41"/>
<circle cx="107" cy="10" r=".41"/>
<circle cx="109" cy="10" r=".41"/>
<circle cx="107" cy="13" r=".41"/>
<circle cx="108" cy="13" r=".41"/>
<circle cx="109" cy="13" r=".41"/>
<circle cx="107" cy="16" r=".41"/>
<circle cx="109" cy="16" r=".41"/>
<circle cx="106" cy="19" r=".41"/>
<circle cx="107" cy="19" r=".41"/>
<circle cx="108" cy="19" r=".41"/>
<circle cx="109" cy="19" r=".41"/>
<circle cx="109" cy="20" r=".41"/>
<circle cx="104" cy="21" r=".41"/>
<circle cx="105" cy="21" r=".41"/>
<circle cx="104" cy="24" r=".41"/>
<circle cx="105" cy="24" r=".41"/>
<circle cx="104" cy="27" r=".41"/>
<circle cx="108" cy="27" r=".41"/>
<circle cx="104" cy="30" r=".41"/>
<circle cx="105" cy="30" r=".41"/>
<circle cx="108" cy="30" r=".41"/>
<circle cx="104" cy="33" r=".41"/>
<circle cx="106" cy="33" r=".41"/>
<circle cx="107" cy="33" r=".41"/>
<circle cx="108" cy="33" r=".41"/>
<circle cx="104" cy="36" r=".41"/>
<circle cx="105" cy="36" r=".41"/>
<circle cx="104" cy="39" r=".41"/>
<circle cx="105" cy="39" r=".41"/>
<circle cx="106" cy="39" r=".41"/>
<circle cx="107" cy="39" r=".41"/>
<circle cx="108" cy="39" r=".41"/>
<circle cx="107" cy="42" r=".41"/>
<circle cx="110" cy="42" r=".41"/>
<circle cx="111" cy="42" r=".41"/>
<circle cx="115" cy="23" r=".41"/>
<circle cx="114" cy="46" r=".41"/>
<circle cx="114" cy="49" r=".41"/>
<circle cx="117" cy="51" r=".41"/>
<circle cx="109" cy="52" r=".41"/>
<circle cx="118" cy="53" r=".41"/>
<circle cx="118" cy="54" r=".41"/>
<circle cx="114" cy="56" r=".41"/>
<circle cx="100" cy="56" r=".41"/>
<circle cx="101" cy="56" r=".41"/>
<circle cx="102" cy="58" r=".41"/>
<circle cx="95" cy="58" r=".41"/>
<circle cx="96" cy="58" r=".41"/>
<circle cx="97" cy="59" r=".41"/>
<circle cx="99" cy="59" r=".41"/>
<circle cx="100" cy="59" r=".41"/>
<circle cx="101" cy="59" r=".41"/>
<circle cx="117" cy="58" r=".41"/>
<circle cx="117" cy="59" r=".41"/>
<circle cx="117" cy="60" r=".41"/>
<circle cx="91" cy="60" r=".41"/>
<circle cx="91" cy="61" r=".41"/>
<circle cx="91" cy="62" r=".41"/>
<circle cx="91" cy="63" r=".41"/>
<circle cx="91" cy="64" r=".41"/>
<circle cx="93" cy="62" r=".41"/>
<circle cx="96" cy="60" r=".41"/>
<circle cx="96" cy="61" r=".41"/>
<circle cx="98" cy="60" r=".41"/>
<circle cx="99" cy="60" r=".41"/>
<circle cx="98" cy="61" r=".41"/>
<circle cx="93" cy="63" r=".41"/>
<circle cx="99" cy="61" r=".41"/>
<circle cx="107" cy="62" r=".41"/>
<circle cx="107" cy="69" r=".41"/>
<circle cx="107" cy="75" r=".41"/>
<circle cx="109" cy="66" r=".41"/>
<circle cx="108" cy="76" r=".41"/>
<circle cx="108" cy="78" r=".41"/>
<circle cx="104" cy="78" r=".41"/>
<circle cx="104" cy="79" r=".41"/>
<circle cx="113" cy="70" r=".41"/>
<circle cx="114" cy="70" r=".41"/>
<circle cx="119" cy="71" r=".41"/>
<circle cx="119" cy="72" r=".41"/>
<circle cx="119" cy="75" r=".41"/>
<circle cx="119" cy="76" r=".41"/>
<circle cx="114" cy="85" r=".41"/>
<circle cx="115" cy="85" r=".41"/>
<circle cx="108" cy="77" r=".41"/>
<circle cx="97" cy="68" r=".41"/>
<circle cx="98" cy="68" r=".41"/>
<circle cx="98" cy="65" r=".41"/>
<circle cx="98" cy="73" r=".41"/>
<circle cx="98" cy="74" r=".41"/>
<circle cx="99" cy="77" r=".41"/>
<circle cx="99" cy="78" r=".41"/>
<circle cx="100" cy="78" r=".41"/>
<circle cx="96" cy="75" r=".41"/>
<circle cx="99" cy="79" r=".41"/>
<circle cx="103" cy="83" r=".41"/>
<circle cx="104" cy="86" r=".41"/>
<circle cx="107" cy="87" r=".41"/>
<circle cx="108" cy="81" r=".41"/>
<circle cx="112" cy="81" r=".41"/>
<circle cx="116" cy="81" r=".41"/>
<circle cx="120" cy="81" r=".41"/>
<circle cx="62" cy="50" r=".41"/>
<circle cx="66" cy="49" r=".41"/>
<circle cx="66" cy="50" r=".41"/>
<circle cx="62" cy="50" r=".41"/>
<circle cx="71" cy="50" r=".41"/>
<circle cx="72" cy="46" r=".41"/>
<circle cx="73" cy="52" r=".41"/>
<circle cx="75" cy="54" r=".41"/>
<circle cx="76" cy="54" r=".41"/>
<circle cx="78" cy="56" r=".41"/>
<circle cx="78" cy="57" r=".41"/>
<circle cx="80" cy="58" r=".41"/>
<circle cx="80" cy="59" r=".41"/>
<circle cx="82" cy="60" r=".41"/>
<circle cx="82" cy="61" r=".41"/>
<circle cx="85" cy="62" r=".41"/>
<circle cx="85" cy="63" r=".41"/>
<circle cx="88" cy="60" r=".41"/>
<circle cx="88" cy="61" r=".41"/>
<circle cx="88" cy="62" r=".41"/>
<circle cx="88" cy="63" r=".41"/>
<circle cx="64" cy="53" r=".41"/>
<circle cx="67" cy="54" r=".41"/>
<circle cx="69" cy="55" r=".41"/>
<circle cx="72" cy="58" r=".41"/>
<circle cx="63" cy="58" r=".41"/>
<circle cx="65" cy="60" r=".41"/>
<circle cx="74" cy="60" r=".41"/>
<circle cx="67" cy="62" r=".41"/>
<circle cx="72" cy="62" r=".41"/>
<circle cx="76" cy="62" r=".41"/>
<circle cx="78" cy="64" r=".41"/>
<circle cx="68" cy="65" r=".41"/>
<circle cx="68" cy="66" r=".41"/>
<circle cx="64" cy="66" r=".41"/>
<circle cx="73" cy="66" r=".41"/>
<circle cx="76" cy="66" r=".41"/>
<circle cx="80" cy="66" r=".41"/>
<circle cx="83" cy="66" r=".41"/>
<circle cx="86" cy="66" r=".41"/>
<circle cx="89" cy="66" r=".41"/>
<circle cx="81" cy="68" r=".41"/>
<circle cx="84" cy="68" r=".41"/>
<circle cx="87" cy="68" r=".41"/>
<circle cx="90" cy="68" r=".41"/>
<circle cx="92" cy="68" r=".41"/>
<circle cx="61" cy="69" r=".41"/>
<circle cx="63" cy="69" r=".41"/>
<circle cx="65" cy="71" r=".41"/>
<circle cx="68" cy="71" r=".41"/>
<circle cx="69" cy="71" r=".41"/>
<circle cx="71" cy="71" r=".41"/>
<circle cx="74" cy="71" r=".41"/>
<circle cx="76" cy="71" r=".41"/>
<circle cx="78" cy="70" r=".41"/>
<circle cx="64" cy="72" r=".41"/>
<circle cx="62" cy="73" r=".41"/>
<circle cx="60" cy="75" r=".41"/>
<circle cx="65" cy="78" r=".41"/>
<circle cx="67" cy="78" r=".41"/>
<circle cx="68" cy="78" r=".41"/>
<circle cx="69" cy="78" r=".41"/>
<circle cx="64" cy="79" r=".41"/>
<circle cx="62" cy="80" r=".41"/>
<circle cx="60" cy="81" r=".41"/>
<circle cx="72" cy="79" r=".41"/>
<circle cx="76" cy="78" r=".41"/>
<circle cx="76" cy="79" r=".41"/>
<circle cx="76" cy="80" r=".41"/>
<circle cx="70" cy="81" r=".41"/>
<circle cx="70" cy="83" r=".41"/>
<circle cx="70" cy="84" r=".41"/>
<circle cx="62" cy="85" r=".41"/>
<circle cx="64" cy="84" r=".41"/>
<circle cx="66" cy="84" r=".41"/>
<circle cx="68" cy="84" r=".41"/>
<circle cx="69" cy="84" r=".41"/>
<circle cx="70" cy="82" r=".41"/>
<circle cx="72" cy="82" r=".41"/>
<circle cx="76" cy="83" r=".41"/>
<circle cx="77" cy="83" r=".41"/>
<circle cx="74" cy="84" r=".41"/>
<circle cx="83" cy="83" r=".41"/>
<circle cx="72" cy="85" r=".41"/>
<circle cx="77" cy="85" r=".41"/>
<circle cx="82" cy="85" r=".41"/>
<circle cx="67" cy="86" r=".41"/>
<circle cx="73" cy="86" r=".41"/>
<circle cx="70" cy="87" r=".41"/>
<circle cx="75" cy="87" r=".41"/>
<circle cx="80" cy="87" r=".41"/>
<circle cx="65" cy="88" r=".41"/>
<circle cx="66" cy="88" r=".41"/>
<circle cx="71" cy="88" r=".41"/>
<circle cx="72" cy="88" r=".41"/>
<circle cx="73" cy="88" r=".41"/>
<circle cx="78" cy="89" r=".41"/>
<circle cx="63" cy="89" r=".41"/>
<circle cx="63" cy="90" r=".41"/>
<circle cx="60" cy="90" r=".41"/>
<circle cx="67" cy="90" r=".41"/>
<circle cx="69" cy="90" r=".41"/>
<circle cx="71" cy="90" r=".41"/>
<circle cx="75" cy="91" r=".41"/>
<circle cx="76" cy="91" r=".41"/>
<circle cx="77" cy="91" r=".41"/>
<circle cx="79" cy="95" r=".41"/>
<circle cx="80" cy="95" r=".41"/>
<circle cx="85" cy="95" r=".41"/>
<circle cx="85" cy="96" r=".41"/>
<circle cx="90" cy="95" r=".41"/>
<circle cx="90" cy="96" r=".41"/>
<circle cx="64" cy="93" r=".41"/>
<circle cx="62" cy="95" r=".41"/>
<circle cx="66" cy="91" r=".41"/>
<circle cx="63" cy="90" r=".41"/>
<circle cx="126" cy="2" r=".41"/>
<circle cx="126" cy="5" r=".41"/>
<circle cx="126" cy="6" r=".41"/>
<circle cx="130" cy="5" r=".41"/>
<circle cx="130" cy="6" r=".41"/>
<circle cx="134" cy="4" r=".41"/>
<circle cx="134" cy="5" r=".41"/>
<circle cx="134" cy="6" r=".41"/>
<circle cx="138" cy="4" r=".41"/>
<circle cx="138" cy="5" r=".41"/>
<circle cx="138" cy="6" r=".41"/>
<circle cx="142" cy="4" r=".41"/>
<circle cx="142" cy="5" r=".41"/>
<circle cx="142" cy="6" r=".41"/>
<circle cx="126" cy="7" r=".41"/>
<circle cx="130" cy="7" r=".41"/>
<circle cx="134" cy="7" r=".41"/>
<circle cx="138" cy="7" r=".41"/>
<circle cx="142" cy="7" r=".41"/>
<circle cx="146" cy="7" r=".41"/>
<circle cx="150" cy="7" r=".41"/>
<circle cx="154" cy="7" r=".41"/>
<circle cx="158" cy="7" r=".41"/>
<circle cx="154" cy="4" r=".41"/>
<circle cx="154" cy="5" r=".41"/>
<circle cx="158" cy="6" r=".41"/>
<circle cx="161" cy="6" r=".41"/>
<circle cx="161" cy="7" r=".41"/>
<circle cx="161" cy="5" r=".41"/>
<circle cx="169" cy="6" r=".41"/>
<circle cx="169" cy="7" r=".41"/>
<circle cx="169" cy="8" r=".41"/>
<circle cx="169" cy="9" r=".41"/>
<circle cx="173" cy="5" r=".41"/>
<circle cx="173" cy="6" r=".41"/>
<circle cx="173" cy="7" r=".41"/>
<circle cx="173" cy="8" r=".41"/>
<circle cx="173" cy="9" r=".41"/>
<circle cx="177" cy="6" r=".41"/>
<circle cx="177" cy="7" r=".41"/>
<circle cx="177" cy="8" r=".41"/>
<circle cx="177" cy="9" r=".41"/>
<circle cx="181" cy="7" r=".41"/>
<circle cx="181" cy="8" r=".41"/>
<circle cx="181" cy="9" r=".41"/>
<circle cx="181" cy="10" r=".41"/>
<circle cx="185" cy="8" r=".41"/>
<circle cx="185" cy="9" r=".41"/>
<circle cx="185" cy="10" r=".41"/>
<circle cx="185" cy="11" r=".41"/>
<circle cx="190" cy="10" r=".41"/>
<circle cx="190" cy="12" r=".41"/>
<circle cx="191" cy="12" r=".41"/>
<circle cx="194" cy="10" r=".41"/>
<circle cx="198" cy="10" r=".41"/>
<circle cx="202" cy="11" r=".41"/>
<circle cx="203" cy="15" r=".41"/>
<circle cx="203" cy="19" r=".41"/>
<circle cx="203" cy="23" r=".41"/>
<circle cx="203" cy="27" r=".41"/>
<circle cx="203" cy="31" r=".41"/>
<circle cx="203" cy="35" r=".41"/>
<circle cx="203" cy="39" r=".41"/>
<circle cx="203" cy="43" r=".41"/>
<circle cx="203" cy="47" r=".41"/>
<circle cx="201" cy="49" r=".41"/>
<circle cx="199" cy="51" r=".41"/>
<circle cx="197" cy="53" r=".41"/>
<circle cx="195" cy="54" r=".41"/>
<circle cx="194" cy="52" r=".41"/>
<circle cx="195" cy="50" r=".41"/>
<circle cx="198" cy="47" r=".41"/>
<circle cx="199" cy="44" r=".41"/>
<circle cx="199" cy="42" r=".41"/>
<circle cx="192" cy="16" r=".41"/>
<circle cx="193" cy="16" r=".41"/>
<circle cx="192" cy="20" r=".41"/>
<circle cx="193" cy="20" r=".41"/>
<circle cx="193" cy="25" r=".41"/>
<circle cx="193" cy="30" r=".41"/>
<circle cx="193" cy="34" r=".41"/>
<circle cx="193" cy="38" r=".41"/>
<circle cx="193" cy="42" r=".41"/>
<circle cx="194" cy="42" r=".41"/>
<circle cx="192" cy="25" r=".41"/>
<circle cx="192" cy="30" r=".41"/>
<circle cx="192" cy="34" r=".41"/>
<circle cx="192" cy="38" r=".41"/>
<circle cx="192" cy="42" r=".41"/>
<circle cx="191" cy="46" r=".41"/>
<circle cx="188" cy="49" r=".41"/>
<circle cx="188" cy="50" r=".41"/>
<circle cx="183" cy="48" r=".41"/>
<circle cx="184" cy="48" r=".41"/>
<circle cx="183" cy="49" r=".41"/>
<circle cx="184" cy="49" r=".41"/>
<circle cx="183" cy="50" r=".41"/>
<circle cx="184" cy="50" r=".41"/>
<circle cx="185" cy="16" r=".41"/>
<circle cx="185" cy="18" r=".41"/>
<circle cx="185" cy="19" r=".41"/>
<circle cx="185" cy="21" r=".41"/>
<circle cx="185" cy="26" r=".41"/>
<circle cx="185" cy="29" r=".41"/>
<circle cx="185" cy="33" r=".41"/>
<circle cx="185" cy="38" r=".41"/>
<circle cx="185" cy="42" r=".41"/>
<circle cx="185" cy="45" r=".41"/>
<circle cx="179" cy="27" r=".41"/>
<circle cx="179" cy="28" r=".41"/>
<circle cx="179" cy="31" r=".41"/>
<circle cx="179" cy="32" r=".41"/>
<circle cx="179" cy="34" r=".41"/>
<circle cx="179" cy="36" r=".41"/>
<circle cx="179" cy="37" r=".41"/>
<circle cx="179" cy="40" r=".41"/>
<circle cx="179" cy="41" r=".41"/>
<circle cx="180" cy="44" r=".41"/>
<circle cx="182" cy="46" r=".41"/>
<circle cx="178" cy="47" r=".41"/>
<circle cx="122" cy="6" r=".41"/>
<circle cx="124" cy="8" r=".41"/>
<circle cx="126" cy="9" r=".41"/>
<circle cx="127" cy="11" r=".41"/>
<circle cx="129" cy="13" r=".41"/>
<circle cx="130" cy="13" r=".41"/>
<circle cx="130" cy="16" r=".41"/>
<circle cx="130" cy="19" r=".41"/>
<circle cx="130" cy="22" r=".41"/>
<circle cx="130" cy="25" r=".41"/>
<circle cx="130" cy="29" r=".41"/>
<circle cx="130" cy="9" r=".41"/>
<circle cx="133" cy="12" r=".41"/>
<circle cx="134" cy="13" r=".41"/>
<circle cx="137" cy="13" r=".41"/>
<circle cx="140" cy="13" r=".41"/>
<circle cx="142" cy="13" r=".41"/>
<circle cx="144" cy="13" r=".41"/>
<circle cx="147" cy="13" r=".41"/>
<circle cx="150" cy="13" r=".41"/>
<circle cx="153" cy="13" r=".41"/>
<circle cx="155" cy="13" r=".41"/>
<circle cx="158" cy="13" r=".41"/>
<circle cx="159" cy="13" r=".41"/>
<circle cx="161" cy="13" r=".41"/>
<circle cx="162" cy="14" r=".41"/>
<circle cx="134" cy="17" r=".41"/>
<circle cx="135" cy="17" r=".41"/>
<circle cx="137" cy="17" r=".41"/>
<circle cx="138" cy="17" r=".41"/>
<circle cx="141" cy="18" r=".41"/>
<circle cx="143" cy="18" r=".41"/>
<circle cx="145" cy="18" r=".41"/>
<circle cx="147" cy="18" r=".41"/>
<circle cx="149" cy="19" r=".41"/>
<circle cx="151" cy="19" r=".41"/>
<circle cx="153" cy="19" r=".41"/>
<circle cx="155" cy="19" r=".41"/>
<circle cx="157" cy="19" r=".41"/>
<circle cx="159" cy="20" r=".41"/>
<circle cx="161" cy="20" r=".41"/>
<circle cx="163" cy="20" r=".41"/>
<circle cx="166" cy="17" r=".41"/>
<circle cx="166" cy="18" r=".41"/>
<circle cx="169" cy="14" r=".41"/>
<circle cx="170" cy="14" r=".41"/>
<circle cx="172" cy="14" r=".41"/>
<circle cx="174" cy="14" r=".41"/>
<circle cx="177" cy="14" r=".41"/>
<circle cx="178" cy="14" r=".41"/>
<circle cx="181" cy="14" r=".41"/>
<circle cx="182" cy="14" r=".41"/>
<circle cx="168" cy="20" r=".41"/>
<circle cx="169" cy="20" r=".41"/>
<circle cx="171" cy="20" r=".41"/>
<circle cx="173" cy="20" r=".41"/>
<circle cx="148" cy="20" r=".41"/>
<circle cx="138" cy="21" r=".41"/>
<circle cx="142" cy="22" r=".41"/>
<circle cx="146" cy="23" r=".41"/>
<circle cx="150" cy="23" r=".41"/>
<circle cx="154" cy="23" r=".41"/>
<circle cx="158" cy="24" r=".41"/>
<circle cx="162" cy="22" r=".41"/>
<circle cx="162" cy="23" r=".41"/>
<circle cx="162" cy="24" r=".41"/>
<circle cx="168" cy="24" r=".41"/>
<circle cx="172" cy="24" r=".41"/>
<circle cx="175" cy="28" r=".41"/>
<circle cx="175" cy="32" r=".41"/>
<circle cx="175" cy="36" r=".41"/>
<circle cx="175" cy="40" r=".41"/>
<circle cx="175" cy="44" r=".41"/>
<circle cx="164" cy="27" r=".41"/>
<circle cx="164" cy="34" r=".41"/>
<circle cx="135" cy="27" r=".41"/>
<circle cx="134" cy="29" r=".41"/>
<circle cx="140" cy="27" r=".41"/>
<circle cx="144" cy="27" r=".41"/>
<circle cx="150" cy="27" r=".41"/>
<circle cx="139" cy="29" r=".41"/>
<circle cx="143" cy="29" r=".41"/>
<circle cx="146" cy="30" r=".41"/>
<circle cx="149" cy="30" r=".41"/>
<circle cx="152" cy="30" r=".41"/>
<circle cx="155" cy="30" r=".41"/>
<circle cx="158" cy="31" r=".41"/>
<circle cx="161" cy="31" r=".41"/>
<circle cx="152" cy="30" r=".41"/>
<circle cx="155" cy="30" r=".41"/>
<circle cx="158" cy="31" r=".41"/>
<circle cx="152" cy="33" r=".41"/>
<circle cx="152" cy="36" r=".41"/>
<circle cx="152" cy="38" r=".41"/>
<circle cx="152" cy="41" r=".41"/>
<circle cx="153" cy="36" r=".41"/>
<circle cx="157" cy="36" r=".41"/>
<circle cx="161" cy="36" r=".41"/>
<circle cx="156" cy="41" r=".41"/>
<circle cx="160" cy="41" r=".41"/>
<circle cx="164" cy="41" r=".41"/>
<circle cx="167" cy="41" r=".41"/>
<circle cx="166" cy="33" r=".41"/>
<circle cx="169" cy="36" r=".41"/>
<circle cx="170" cy="38" r=".41"/>
<circle cx="170" cy="41" r=".41"/>
<circle cx="172" cy="45" r=".41"/>
<circle cx="175" cy="47" r=".41"/>
<circle cx="177" cy="49" r=".41"/>
<circle cx="180" cy="52" r=".41"/>
<circle cx="186" cy="58" r=".41"/>
<circle cx="188" cy="60" r=".41"/>
<circle cx="190" cy="57" r=".41"/>
<circle cx="153" cy="47" r=".41"/>
<circle cx="157" cy="47" r=".41"/>
<circle cx="162" cy="49" r=".41"/>
<circle cx="165" cy="50" r=".41"/>
<circle cx="153" cy="48" r=".41"/>
<circle cx="157" cy="48" r=".41"/>
<circle cx="161" cy="48" r=".41"/>
<circle cx="165" cy="48" r=".41"/>
<circle cx="169" cy="48" r=".41"/>
<circle cx="141" cy="33" r=".41"/>
<circle cx="130" cy="31" r=".41"/>
<circle cx="131" cy="31" r=".41"/>
<circle cx="128" cy="33" r=".41"/>
<circle cx="129" cy="33" r=".41"/>
<circle cx="126" cy="35" r=".41"/>
<circle cx="127" cy="35" r=".41"/>
<circle cx="126" cy="38" r=".41"/>
<circle cx="127" cy="38" r=".41"/>
<circle cx="126" cy="40" r=".41"/>
<circle cx="127" cy="40" r=".41"/>
<circle cx="126" cy="44" r=".41"/>
<circle cx="127" cy="44" r=".41"/>
<circle cx="128" cy="42" r=".41"/>
<circle cx="128" cy="43" r=".41"/>
<circle cx="136" cy="37" r=".41"/>
<circle cx="131" cy="39" r=".41"/>
<circle cx="136" cy="45" r=".41"/>
<circle cx="133" cy="48" r=".41"/>
<circle cx="127" cy="47" r=".41"/>
<circle cx="124" cy="46" r=".41"/>
<circle cx="124" cy="48" r=".41"/>
<circle cx="124" cy="47" r=".41"/>
<circle cx="121" cy="50" r=".41"/>
<circle cx="126" cy="50" r=".41"/>
<circle cx="130" cy="51" r=".41"/>
<circle cx="124" cy="52" r=".41"/>
<circle cx="122" cy="53" r=".41"/>
<circle cx="127" cy="54" r=".41"/>
<circle cx="128" cy="54" r=".41"/>
<circle cx="139" cy="42" r=".41"/>
<circle cx="143" cy="41" r=".41"/>
<circle cx="148" cy="41" r=".41"/>
<circle cx="152" cy="41" r=".41"/>
<circle cx="156" cy="41" r=".41"/>
<circle cx="160" cy="41" r=".41"/>
<circle cx="164" cy="41" r=".41"/>
<circle cx="141" cy="36" r=".41"/>
<circle cx="145" cy="36" r=".41"/>
<circle cx="149" cy="36" r=".41"/>
<circle cx="141" cy="48" r=".41"/>
<circle cx="149" cy="48" r=".41"/>
<circle cx="145" cy="48" r=".41"/>
<circle cx="132" cy="54" r=".41"/>
<circle cx="135" cy="54" r=".41"/>
<circle cx="138" cy="54" r=".41"/>
<circle cx="141" cy="54" r=".41"/>
<circle cx="144" cy="54" r=".41"/>
<circle cx="147" cy="54" r=".41"/>
<circle cx="150" cy="54" r=".41"/>
<circle cx="154" cy="54" r=".41"/>
<circle cx="158" cy="54" r=".41"/>
<circle cx="161" cy="54" r=".41"/>
<circle cx="164" cy="53" r=".41"/>
<circle cx="164" cy="54" r=".41"/>
<circle cx="164" cy="55" r=".41"/>
<circle cx="166" cy="54" r=".41"/>
<circle cx="171" cy="54" r=".41"/>
<circle cx="175" cy="54" r=".41"/>
<circle cx="179" cy="54" r=".41"/>
<circle cx="179" cy="55" r=".41"/>
<circle cx="179" cy="56" r=".41"/>
<circle cx="179" cy="57" r=".41"/>
<circle cx="174" cy="59" r=".41"/>
<circle cx="128" cy="57" r=".41"/>
<circle cx="129" cy="57" r=".41"/>
<circle cx="127" cy="59" r=".41"/>
<circle cx="125" cy="60" r=".41"/>
<circle cx="122" cy="58" r=".41"/>
<circle cx="122" cy="59" r=".41"/>
<circle cx="121" cy="61" r=".41"/>
<circle cx="121" cy="62" r=".41"/>
<circle cx="124" cy="61" r=".41"/>
<circle cx="125" cy="60" r=".41"/>
<circle cx="127" cy="59" r=".41"/>
<circle cx="124" cy="61" r=".41"/>
<circle cx="127" cy="62" r=".41"/>
<circle cx="128" cy="62" r=".41"/>
<circle cx="129" cy="62" r=".41"/>
<circle cx="131" cy="61" r=".41"/>
<circle cx="134" cy="61" r=".41"/>
<circle cx="137" cy="61" r=".41"/>
<circle cx="137" cy="62" r=".41"/>
<circle cx="140" cy="61" r=".41"/>
<circle cx="140" cy="62" r=".41"/>
<circle cx="143" cy="61" r=".41"/>
<circle cx="143" cy="62" r=".41"/>
<circle cx="146" cy="61" r=".41"/>
<circle cx="149" cy="61" r=".41"/>
<circle cx="152" cy="61" r=".41"/>
<circle cx="155" cy="61" r=".41"/>
<circle cx="159" cy="61" r=".41"/>
<circle cx="159" cy="62" r=".41"/>
<circle cx="163" cy="62" r=".41"/>
<circle cx="164" cy="62" r=".41"/>
<circle cx="126" cy="66" r=".41"/>
<circle cx="127" cy="66" r=".41"/>
<circle cx="128" cy="66" r=".41"/>
<circle cx="129" cy="68" r=".41"/>
<circle cx="129" cy="69" r=".41"/>
<circle cx="129" cy="70" r=".41"/>
<circle cx="131" cy="71" r=".41"/>
<circle cx="131" cy="72" r=".41"/>
<circle cx="134" cy="74" r=".41"/>
<circle cx="134" cy="75" r=".41"/>
<circle cx="137" cy="77" r=".41"/>
<circle cx="137" cy="78" r=".41"/>
<circle cx="140" cy="80" r=".41"/>
<circle cx="140" cy="81" r=".41"/>
<circle cx="135" cy="68" r=".41"/>
<circle cx="139" cy="68" r=".41"/>
<circle cx="144" cy="68" r=".41"/>
<circle cx="149" cy="68" r=".41"/>
<circle cx="150" cy="63" r=".41"/>
<circle cx="152" cy="68" r=".41"/>
<circle cx="155" cy="68" r=".41"/>
<circle cx="159" cy="72" r=".41"/>
<circle cx="163" cy="66" r=".41"/>
<circle cx="164" cy="66" r=".41"/>
<circle cx="163" cy="70" r=".41"/>
<circle cx="164" cy="70" r=".41"/>
<circle cx="164" cy="74" r=".41"/>
<circle cx="163" cy="75" r=".41"/>
<circle cx="164" cy="75" r=".41"/>
<circle cx="168" cy="76" r=".41"/>
<circle cx="168" cy="77" r=".41"/>
<circle cx="167" cy="78" r=".41"/>
<circle cx="167" cy="80" r=".41"/>
<circle cx="168" cy="80" r=".41"/>
<circle cx="143" cy="83" r=".41"/>
<circle cx="146" cy="83" r=".41"/>
<circle cx="149" cy="82" r=".41"/>
<circle cx="152" cy="82" r=".41"/>
<circle cx="155" cy="82" r=".41"/>
<circle cx="162" cy="83" r=".41"/>
<circle cx="166" cy="86" r=".41"/>
<circle cx="167" cy="86" r=".41"/>
<circle cx="166" cy="87" r=".41"/>
<circle cx="174" cy="59" r=".41"/>
<circle cx="174" cy="62" r=".41"/>
<circle cx="178" cy="64" r=".41"/>
<circle cx="175" cy="65" r=".41"/>
<circle cx="173" cy="67" r=".41"/>
<circle cx="173" cy="71" r=".41"/>
<circle cx="172" cy="76" r=".41"/>
<circle cx="173" cy="76" r=".41"/>
<circle cx="173" cy="82" r=".41"/>
<circle cx="174" cy="82" r=".41"/>
<circle cx="175" cy="82" r=".41"/>
<circle cx="173" cy="86" r=".41"/>
<circle cx="174" cy="86" r=".41"/>
<circle cx="121" cy="73" r=".41"/>
<circle cx="122" cy="73" r=".41"/>
<circle cx="124" cy="81" r=".41"/>
<circle cx="127" cy="83" r=".41"/>
<circle cx="130" cy="85" r=".41"/>
<circle cx="132" cy="87" r=".41"/>
<circle cx="136" cy="87" r=".41"/>
<circle cx="140" cy="86" r=".41"/>
<circle cx="147" cy="86" r=".41"/>
<circle cx="123" cy="91" r=".41"/>
<circle cx="127" cy="91" r=".41"/>
<circle cx="130" cy="91" r=".41"/>
<circle cx="134" cy="89" r=".41"/>
<circle cx="137" cy="89" r=".41"/>
<circle cx="140" cy="92" r=".41"/>
<circle cx="143" cy="91" r=".41"/>
<circle cx="143" cy="94" r=".41"/>
<circle cx="147" cy="94" r=".41"/>
<circle cx="149" cy="95" r=".41"/>
<circle cx="125" cy="99" r=".41"/>
<circle cx="126" cy="99" r=".41"/>
<circle cx="125" cy="100" r=".41"/>
<circle cx="126" cy="100" r=".41"/>
<circle cx="144" cy="99" r=".41"/>
<circle cx="144" cy="100" r=".41"/>
<circle cx="144" cy="101" r=".41"/>
<circle cx="140" cy="108" r=".41"/>
<circle cx="127" cy="114" r=".41"/>
<circle cx="123" cy="116" r=".41"/>
<circle cx="151" cy="88" r=".41"/>
<circle cx="154" cy="91" r=".41"/>
<circle cx="155" cy="93" r=".41"/>
<circle cx="154" cy="93" r=".41"/>
<circle cx="154" cy="94" r=".41"/>
<circle cx="156" cy="96" r=".41"/>
<circle cx="158" cy="98" r=".41"/>
<circle cx="160" cy="100" r=".41"/>
<circle cx="162" cy="102" r=".41"/>
<circle cx="164" cy="104" r=".41"/>
<circle cx="166" cy="106" r=".41"/>
<circle cx="168" cy="108" r=".41"/>
<circle cx="170" cy="110" r=".41"/>
<circle cx="172" cy="112" r=".41"/>
<circle cx="174" cy="114" r=".41"/>
<circle cx="176" cy="116" r=".41"/>
<circle cx="178" cy="118" r=".41"/>
<circle cx="160" cy="89" r=".41"/>
<circle cx="160" cy="90" r=".41"/>
<circle cx="151" cy="97" r=".41"/>
<circle cx="153" cy="99" r=".41"/>
<circle cx="155" cy="101" r=".41"/>
<circle cx="157" cy="103" r=".41"/>
<circle cx="158" cy="105" r=".41"/>
<circle cx="158" cy="108" r=".41"/>
<circle cx="158" cy="111" r=".41"/>
<circle cx="158" cy="114" r=".41"/>
<circle cx="158" cy="117" r=".41"/>
<circle cx="156" cy="99" r=".41"/>
<circle cx="169" cy="112" r=".41"/>
<circle cx="172" cy="92" r=".41"/>
<circle cx="173" cy="93" r=".41"/>
<circle cx="174" cy="93" r=".41"/>
<circle cx="173" cy="94" r=".41"/>
<circle cx="175" cy="96" r=".41"/>
<circle cx="177" cy="98" r=".41"/>
<circle cx="179" cy="100" r=".41"/>
<circle cx="173" cy="90" r=".41"/>
<circle cx="179" cy="94" r=".41"/>
<circle cx="177" cy="103" r=".41"/>
<circle cx="193" cy="61" r=".41"/>
<circle cx="189" cy="62" r=".41"/>
<circle cx="189" cy="65" r=".41"/>
<circle cx="192" cy="68" r=".41"/>
<circle cx="193" cy="71" r=".41"/>
<circle cx="193" cy="74" r=".41"/>
<circle cx="193" cy="77" r=".41"/>
<circle cx="193" cy="80" r=".41"/>
<circle cx="193" cy="84" r=".41"/>
<circle cx="193" cy="87" r=".41"/>
<circle cx="193" cy="90" r=".41"/>
<circle cx="195" cy="92" r=".41"/>
<circle cx="198" cy="93" r=".41"/>
<circle cx="200" cy="95" r=".41"/>
<circle cx="200" cy="98" r=".41"/>
<circle cx="200" cy="101" r=".41"/>
<circle cx="200" cy="104" r=".41"/>
<circle cx="200" cy="107" r=".41"/>
<circle cx="200" cy="110" r=".41"/>
<circle cx="200" cy="113" r=".41"/>
<circle cx="200" cy="117" r=".41"/>
<circle cx="200" cy="121" r=".41"/>
<circle cx="200" cy="124" r=".41"/>
<circle cx="200" cy="127" r=".41"/>
<circle cx="200" cy="130" r=".41"/>
<circle cx="200" cy="133" r=".41"/>
<circle cx="201" cy="137" r=".41"/>
<circle cx="181" cy="64" r=".41"/>
<circle cx="184" cy="64" r=".41"/>
<circle cx="187" cy="64" r=".41"/>
<circle cx="187" cy="73" r=".41"/>
<circle cx="181" cy="102" r=".41"/>
<circle cx="183" cy="104" r=".41"/>
<circle cx="181" cy="126" r=".41"/>
<circle cx="187" cy="127" r=".41"/>
<circle cx="188" cy="127" r=".41"/>
<circle cx="192" cy="132" r=".41"/>
<circle cx="194" cy="134" r=".41"/>
<circle cx="196" cy="135" r=".41"/>
<circle cx="185" cy="131" r=".41"/>
<circle cx="188" cy="134" r=".41"/>
<circle cx="190" cy="136" r=".41"/>
<circle cx="192" cy="138" r=".41"/>
<circle cx="195" cy="141" r=".41"/>
<circle cx="199" cy="141" r=".41"/>
<circle cx="203" cy="144" r=".41"/>
<circle cx="206" cy="147" r=".41"/>
<circle cx="209" cy="150" r=".41"/>
<circle cx="211" cy="152" r=".41"/>
<circle cx="213" cy="154" r=".41"/>
<circle cx="215" cy="156" r=".41"/>
<circle cx="217" cy="158" r=".41"/>
<circle cx="219" cy="160" r=".41"/>
<circle cx="219" cy="162" r=".41"/>
<circle cx="219" cy="164" r=".41"/>
<circle cx="219" cy="166" r=".41"/>
<circle cx="219" cy="168" r=".41"/>
<circle cx="181" cy="119" r=".41"/>
<circle cx="64" cy="143" r=".41"/>
<circle cx="64" cy="145" r=".41"/>
<circle cx="64" cy="147" r=".41"/>
<circle cx="64" cy="149" r=".41"/>
<circle cx="64" cy="151" r=".41"/>
<circle cx="64" cy="153" r=".41"/>
<circle cx="64" cy="155" r=".41"/>
<circle cx="64" cy="157" r=".41"/>
<circle cx="64" cy="159" r=".41"/>
<circle cx="64" cy="161" r=".41"/>
<circle cx="64" cy="163" r=".41"/>
<circle cx="64" cy="165" r=".41"/>
<circle cx="64" cy="167" r=".41"/>
<circle cx="64" cy="169" r=".41"/>
<circle cx="64" cy="171" r=".41"/>
<circle cx="64" cy="173" r=".41"/>
<circle cx="63" cy="143" r=".41"/>
<circle cx="63" cy="145" r=".41"/>
<circle cx="63" cy="147" r=".41"/>
<circle cx="63" cy="149" r=".41"/>
<circle cx="63" cy="151" r=".41"/>
<circle cx="63" cy="153" r=".41"/>
<circle cx="63" cy="155" r=".41"/>
<circle cx="63" cy="157" r=".41"/>
<circle cx="63" cy="159" r=".41"/>
<circle cx="63" cy="161" r=".41"/>
<circle cx="63" cy="163" r=".41"/>
<circle cx="63" cy="165" r=".41"/>
<circle cx="63" cy="167" r=".41"/>
<circle cx="63" cy="169" r=".41"/>
<circle cx="63" cy="171" r=".41"/>
<circle cx="63" cy="173" r=".41"/>
<circle cx="72" cy="143" r=".41"/>
<circle cx="72" cy="145" r=".41"/>
<circle cx="72" cy="147" r=".41"/>
<circle cx="72" cy="149" r=".41"/>
<circle cx="72" cy="151" r=".41"/>
<circle cx="72" cy="153" r=".41"/>
<circle cx="72" cy="155" r=".41"/>
<circle cx="72" cy="157" r=".41"/>
<circle cx="72" cy="159" r=".41"/>
<circle cx="72" cy="161" r=".41"/>
<circle cx="72" cy="163" r=".41"/>
<circle cx="72" cy="165" r=".41"/>
<circle cx="72" cy="167" r=".41"/>
<circle cx="72" cy="169" r=".41"/>
<circle cx="72" cy="171" r=".41"/>
<circle cx="72" cy="173" r=".41"/>
<circle cx="79" cy="143" r=".41"/>
<circle cx="79" cy="145" r=".41"/>
<circle cx="79" cy="147" r=".41"/>
<circle cx="79" cy="149" r=".41"/>
<circle cx="79" cy="151" r=".41"/>
<circle cx="79" cy="153" r=".41"/>
<circle cx="79" cy="155" r=".41"/>
<circle cx="79" cy="157" r=".41"/>
<circle cx="79" cy="159" r=".41"/>
<circle cx="79" cy="161" r=".41"/>
<circle cx="79" cy="163" r=".41"/>
<circle cx="79" cy="165" r=".41"/>
<circle cx="79" cy="167" r=".41"/>
<circle cx="79" cy="169" r=".41"/>
<circle cx="79" cy="171" r=".41"/>
<circle cx="79" cy="173" r=".41"/>
<circle cx="83" cy="145" r=".41"/>
<circle cx="83" cy="147" r=".41"/>
<circle cx="83" cy="149" r=".41"/>
<circle cx="83" cy="151" r=".41"/>
<circle cx="83" cy="153" r=".41"/>
<circle cx="83" cy="155" r=".41"/>
<circle cx="83" cy="157" r=".41"/>
<circle cx="83" cy="159" r=".41"/>
<circle cx="83" cy="161" r=".41"/>
<circle cx="83" cy="163" r=".41"/>
<circle cx="83" cy="165" r=".41"/>
<circle cx="83" cy="167" r=".41"/>
<circle cx="83" cy="169" r=".41"/>
<circle cx="83" cy="171" r=".41"/>
<circle cx="83" cy="173" r=".41"/>
<circle cx="87" cy="143" r=".41"/>
<circle cx="87" cy="145" r=".41"/>
<circle cx="87" cy="147" r=".41"/>
<circle cx="87" cy="149" r=".41"/>
<circle cx="87" cy="151" r=".41"/>
<circle cx="87" cy="153" r=".41"/>
<circle cx="87" cy="155" r=".41"/>
<circle cx="87" cy="157" r=".41"/>
<circle cx="87" cy="159" r=".41"/>
<circle cx="87" cy="161" r=".41"/>
<circle cx="87" cy="163" r=".41"/>
<circle cx="87" cy="165" r=".41"/>
<circle cx="87" cy="167" r=".41"/>
<circle cx="87" cy="169" r=".41"/>
<circle cx="87" cy="171" r=".41"/>
<circle cx="87" cy="173" r=".41"/>
<circle cx="92" cy="145" r=".41"/>
<circle cx="92" cy="147" r=".41"/>
<circle cx="92" cy="149" r=".41"/>
<circle cx="92" cy="151" r=".41"/>
<circle cx="92" cy="153" r=".41"/>
<circle cx="92" cy="155" r=".41"/>
<circle cx="92" cy="157" r=".41"/>
<circle cx="92" cy="159" r=".41"/>
<circle cx="92" cy="161" r=".41"/>
<circle cx="92" cy="163" r=".41"/>
<circle cx="92" cy="165" r=".41"/>
<circle cx="92" cy="167" r=".41"/>
<circle cx="92" cy="169" r=".41"/>
<circle cx="92" cy="171" r=".41"/>
<circle cx="92" cy="173" r=".41"/>
<circle cx="84" cy="143" r=".41"/>
<circle cx="96" cy="173" r=".41"/>
<circle cx="96" cy="137" r=".41"/>
<circle cx="57" cy="143" r=".41"/>
<circle cx="57" cy="145" r=".41"/>
<circle cx="57" cy="147" r=".41"/>
<circle cx="57" cy="149" r=".41"/>
<circle cx="57" cy="151" r=".41"/>
<circle cx="57" cy="153" r=".41"/>
<circle cx="57" cy="155" r=".41"/>
<circle cx="57" cy="157" r=".41"/>
<circle cx="57" cy="159" r=".41"/>
<circle cx="57" cy="161" r=".41"/>
<circle cx="57" cy="163" r=".41"/>
<circle cx="57" cy="165" r=".41"/>
<circle cx="57" cy="167" r=".41"/>
<circle cx="57" cy="169" r=".41"/>
<circle cx="57" cy="171" r=".41"/>
<circle cx="57" cy="173" r=".41"/>
<circle cx="51" cy="143" r=".41"/>
<circle cx="51" cy="145" r=".41"/>
<circle cx="51" cy="147" r=".41"/>
<circle cx="51" cy="149" r=".41"/>
<circle cx="51" cy="151" r=".41"/>
<circle cx="51" cy="153" r=".41"/>
<circle cx="51" cy="155" r=".41"/>
<circle cx="51" cy="157" r=".41"/>
<circle cx="51" cy="159" r=".41"/>
<circle cx="51" cy="161" r=".41"/>
<circle cx="51" cy="163" r=".41"/>
<circle cx="51" cy="165" r=".41"/>
<circle cx="51" cy="167" r=".41"/>
<circle cx="51" cy="169" r=".41"/>
<circle cx="51" cy="171" r=".41"/>
<circle cx="51" cy="173" r=".41"/>
<circle cx="45" cy="143" r=".41"/>
<circle cx="45" cy="145" r=".41"/>
<circle cx="45" cy="147" r=".41"/>
<circle cx="45" cy="149" r=".41"/>
<circle cx="45" cy="151" r=".41"/>
<circle cx="45" cy="153" r=".41"/>
<circle cx="45" cy="155" r=".41"/>
<circle cx="45" cy="157" r=".41"/>
<circle cx="45" cy="159" r=".41"/>
<circle cx="45" cy="161" r=".41"/>
<circle cx="45" cy="163" r=".41"/>
<circle cx="45" cy="165" r=".41"/>
<circle cx="45" cy="167" r=".41"/>
<circle cx="45" cy="169" r=".41"/>
<circle cx="45" cy="171" r=".41"/>
<circle cx="45" cy="173" r=".41"/>
<circle cx="37" cy="155" r=".41"/>
<circle cx="37" cy="157" r=".41"/>
<circle cx="37" cy="159" r=".41"/>
<circle cx="37" cy="161" r=".41"/>
<circle cx="37" cy="163" r=".41"/>
<circle cx="37" cy="165" r=".41"/>
<circle cx="37" cy="167" r=".41"/>
<circle cx="37" cy="169" r=".41"/>
<circle cx="37" cy="171" r=".41"/>
<circle cx="37" cy="173" r=".41"/>
<circle cx="44" cy="147" r=".41"/>
<circle cx="42" cy="149" r=".41"/>
<circle cx="40" cy="151" r=".41"/>
<circle cx="42" cy="143" r=".41"/>
<circle cx="40" cy="145" r=".41"/>
<circle cx="38" cy="147" r=".41"/>
<circle cx="36" cy="149" r=".41"/>
<circle cx="34" cy="151" r=".41"/>
<circle cx="32" cy="153" r=".41"/>
<circle cx="30" cy="155" r=".41"/>
<circle cx="28" cy="157" r=".41"/>
<circle cx="26" cy="159" r=".41"/>
<circle cx="34" cy="157" r=".41"/>
<circle cx="32" cy="159" r=".41"/>
<circle cx="25" cy="161" r=".41"/>
<circle cx="31" cy="161" r=".41"/>
<circle cx="25" cy="163" r=".41"/>
<circle cx="31" cy="163" r=".41"/>
<circle cx="25" cy="165" r=".41"/>
<circle cx="31" cy="165" r=".41"/>
<circle cx="25" cy="167" r=".41"/>
<circle cx="31" cy="167" r=".41"/>
<circle cx="31" cy="169" r=".41"/>
<circle cx="31" cy="171" r=".41"/>
<circle cx="31" cy="173" r=".41"/>
<circle cx="24" cy="171" r=".41"/>
<circle cx="23" cy="173" r=".41"/>
<circle cx="11" cy="173" r=".41"/>
<circle cx="43" cy="123" r=".41"/>
<circle cx="44" cy="123" r=".41"/>
<circle cx="50" cy="134" r=".41"/>
<circle cx="50" cy="132" r=".41"/>
<circle cx="50" cy="133" r=".41"/>
<circle cx="50" cy="135" r=".41"/>
<circle cx="86" cy="98" r=".41"/>
<circle cx="87" cy="98" r=".41"/>
<circle cx="88" cy="98" r=".41"/>
<circle cx="85" cy="95" r=".41"/>
<circle cx="85" cy="96" r=".41"/>
<circle cx="90" cy="95" r=".41"/>
<circle cx="90" cy="96" r=".41"/>
<circle cx="89" cy="98" r=".41"/>
<circle cx="96" cy="96" r=".41"/>
<circle cx="103" cy="95" r=".41"/>
<circle cx="103" cy="96" r=".41"/>
<circle cx="103" cy="97" r=".41"/>
<circle cx="97" cy="90" r=".41"/>
<circle cx="115" cy="100" r=".41"/>
<circle cx="107" cy="87" r=".41"/>
<circle cx="109" cy="88" r=".41"/>
<circle cx="119" cy="91" r=".41"/>
<circle cx="114" cy="89" r=".41"/>
<circle cx="117" cy="89" r=".41"/>
<circle cx="115" cy="106" r=".41"/>
<circle cx="116" cy="106" r=".41"/>
<circle cx="115" cy="110" r=".41"/>
<circle cx="116" cy="110" r=".41"/>
<circle cx="118" cy="111" r=".41"/>
<circle cx="113" cy="113" r=".41"/>
<circle cx="112" cy="113" r=".41"/>
<circle cx="110" cy="116" r=".41"/>
<circle cx="109" cy="116" r=".41"/>
<circle cx="106" cy="120" r=".41"/>
<circle cx="105" cy="120" r=".41"/>
<circle cx="102" cy="124" r=".41"/>
<circle cx="101" cy="124" r=".41"/>
<circle cx="101" cy="128" r=".41"/>
<circle cx="102" cy="128" r=".41"/>
<circle cx="100" cy="128" r=".41"/>
<circle cx="101" cy="132" r=".41"/>
<circle cx="102" cy="132" r=".41"/>
<circle cx="101" cy="136" r=".41"/>
<circle cx="102" cy="136" r=".41"/>
<circle cx="100" cy="136" r=".41"/>
<circle cx="102" cy="140" r=".41"/>
<circle cx="101" cy="140" r=".41"/>
<circle cx="102" cy="142" r=".41"/>
<circle cx="102" cy="144" r=".41"/>
<circle cx="102" cy="143" r=".41"/>
<circle cx="106" cy="146" r=".41"/>
<circle cx="106" cy="148" r=".41"/>
<circle cx="108" cy="148" r=".41"/>
<circle cx="113" cy="149" r=".41"/>
<circle cx="106" cy="147" r=".41"/>
<circle cx="108" cy="149" r=".41"/>
<circle cx="113" cy="150" r=".41"/>
<circle cx="92" cy="123" r=".41"/>
<circle cx="93" cy="123" r=".41"/>
<circle cx="103" cy="126" r=".41"/>
<circle cx="103" cy="127" r=".41"/>
<circle cx="107" cy="126" r=".41"/>
<circle cx="107" cy="127" r=".41"/>
<circle cx="107" cy="131" r=".41"/>
<circle cx="106" cy="133" r=".41"/>
<circle cx="107" cy="135" r=".41"/>
<circle cx="110" cy="131" r=".41"/>
<circle cx="113" cy="131" r=".41"/>
<circle cx="116" cy="131" r=".41"/>
<circle cx="120" cy="130" r=".41"/>
<circle cx="110" cy="135" r=".41"/>
<circle cx="113" cy="136" r=".41"/>
<circle cx="115" cy="137" r=".41"/>
<circle cx="119" cy="137" r=".41"/>
<circle cx="106" cy="138" r=".41"/>
<circle cx="108" cy="138" r=".41"/>
<circle cx="110" cy="140" r=".41"/>
<circle cx="113" cy="140" r=".41"/>
<circle cx="115" cy="142" r=".41"/>
<circle cx="112" cy="121" r=".41"/>
<circle cx="112" cy="125" r=".41"/>
<circle cx="112" cy="126" r=".41"/>
<circle cx="116" cy="125" r=".41"/>
<circle cx="119" cy="117" r=".41"/>
<circle cx="119" cy="119" r=".41"/>
<circle cx="119" cy="121" r=".41"/>
<circle cx="119" cy="124" r=".41"/>
<circle cx="119" cy="125" r=".41"/>
<circle cx="119" cy="126" r=".41"/>
<circle cx="119" cy="115" r=".41"/>
<circle cx="116" cy="129" r=".41"/>
<circle cx="70" cy="106" r=".41"/>
<circle cx="72" cy="107" r=".41"/>
<circle cx="76" cy="107" r=".41"/>
<circle cx="79" cy="107" r=".41"/>
<circle cx="86" cy="107" r=".41"/>
<circle cx="87" cy="107" r=".41"/>
<circle cx="88" cy="107" r=".41"/>
<circle cx="89" cy="107" r=".41"/>
<circle cx="90" cy="114" r=".41"/>
<circle cx="122" cy="121" r=".41"/>
<circle cx="132" cy="119" r=".41"/>
<circle cx="127" cy="127" r=".41"/>
<circle cx="120" cy="126" r=".41"/>
<circle cx="122" cy="124" r=".41"/>
<circle cx="122" cy="125" r=".41"/>
<circle cx="125" cy="124" r=".41"/>
<circle cx="125" cy="125" r=".41"/>
<circle cx="128" cy="124" r=".41"/>
<circle cx="128" cy="125" r=".41"/>
<circle cx="131" cy="124" r=".41"/>
<circle cx="131" cy="125" r=".41"/>
<circle cx="134" cy="125" r=".41"/>
<circle cx="134" cy="126" r=".41"/>
<circle cx="137" cy="126" r=".41"/>
<circle cx="137" cy="127" r=".41"/>
<circle cx="136" cy="123" r=".41"/>
<circle cx="140" cy="123" r=".41"/>
<circle cx="145" cy="123" r=".41"/>
<circle cx="150" cy="123" r=".41"/>
<circle cx="153" cy="123" r=".41"/>
<circle cx="140" cy="128" r=".41"/>
<circle cx="140" cy="131" r=".41"/>
<circle cx="139" cy="134" r=".41"/>
<circle cx="134" cy="136" r=".41"/>
<circle cx="137" cy="136" r=".41"/>
<circle cx="133" cy="138" r=".41"/>
<circle cx="132" cy="140" r=".41"/>
<circle cx="122" cy="140" r=".41"/>
<circle cx="120" cy="130" r=".41"/>
<circle cx="121" cy="141" r=".41"/>
<circle cx="125" cy="141" r=".41"/>
<circle cx="129" cy="141" r=".41"/>
<circle cx="121" cy="142" r=".41"/>
<circle cx="125" cy="142" r=".41"/>
<circle cx="129" cy="142" r=".41"/>
<circle cx="134" cy="142" r=".41"/>
<circle cx="137" cy="142" r=".41"/>
<circle cx="139" cy="142" r=".41"/>
<circle cx="141" cy="140" r=".41"/>
<circle cx="141" cy="137" r=".41"/>
<circle cx="142" cy="135" r=".41"/>
<circle cx="144" cy="133" r=".41"/>
<circle cx="146" cy="133" r=".41"/>
<circle cx="148" cy="133" r=".41"/>
<circle cx="150" cy="133" r=".41"/>
<circle cx="152" cy="133" r=".41"/>
<circle cx="154" cy="132" r=".41"/>
<circle cx="156" cy="130" r=".41"/>
<circle cx="158" cy="129" r=".41"/>
<circle cx="158" cy="120" r=".41"/>
<circle cx="158" cy="123" r=".41"/>
<circle cx="158" cy="124" r=".41"/>
<circle cx="158" cy="126" r=".41"/>
<circle cx="162" cy="124" r=".41"/>
<circle cx="162" cy="123" r=".41"/>
<circle cx="166" cy="125" r=".41"/>
<circle cx="170" cy="127" r=".41"/>
<circle cx="174" cy="127" r=".41"/>
<circle cx="174" cy="128" r=".41"/>
<circle cx="177" cy="127" r=".41"/>
<circle cx="179" cy="125" r=".41"/>
<circle cx="7" cy="181" r=".41"/>
<circle cx="35" cy="181" r=".41"/>
<circle cx="3" cy="185" r=".41"/>
<circle cx="3" cy="187" r=".41"/>
<circle cx="3" cy="189" r=".41"/>
<circle cx="3" cy="191" r=".41"/>
<circle cx="3" cy="193" r=".41"/>
<circle cx="3" cy="195" r=".41"/>
<circle cx="39" cy="185" r=".41"/>
<circle cx="39" cy="187" r=".41"/>
<circle cx="39" cy="189" r=".41"/>
<circle cx="39" cy="191" r=".41"/>
<circle cx="39" cy="193" r=".41"/>
<circle cx="39" cy="195" r=".41"/>
<circle cx="74" cy="185" r=".41"/>
<circle cx="74" cy="187" r=".41"/>
<circle cx="74" cy="189" r=".41"/>
<circle cx="74" cy="191" r=".41"/>
<circle cx="74" cy="193" r=".41"/>
<circle cx="74" cy="195" r=".41"/>
<circle cx="116" cy="185" r=".41"/>
<circle cx="116" cy="187" r=".41"/>
<circle cx="116" cy="189" r=".41"/>
<circle cx="116" cy="191" r=".41"/>
<circle cx="116" cy="193" r=".41"/>
<circle cx="116" cy="195" r=".41"/>
<circle cx="121" cy="196" r=".41"/>
<circle cx="121" cy="197" r=".41"/>
<circle cx="149" cy="185" r=".41"/>
<circle cx="149" cy="187" r=".41"/>
<circle cx="149" cy="189" r=".41"/>
<circle cx="149" cy="191" r=".41"/>
<circle cx="149" cy="193" r=".41"/>
<circle cx="149" cy="195" r=".41"/>
<circle cx="3" cy="200" r=".41"/>
<circle cx="3" cy="202" r=".41"/>
<circle cx="3" cy="204" r=".41"/>
<circle cx="3" cy="206" r=".41"/>
<circle cx="3" cy="208" r=".41"/>
<circle cx="3" cy="210" r=".41"/>
<circle cx="74" cy="200" r=".41"/>
<circle cx="74" cy="202" r=".41"/>
<circle cx="74" cy="204" r=".41"/>
<circle cx="74" cy="206" r=".41"/>
<circle cx="74" cy="208" r=".41"/>
<circle cx="78" cy="209" r=".41"/>
<circle cx="74" cy="210" r=".41"/>
<circle cx="74" cy="212" r=".41"/>
<circle cx="109" cy="200" r=".41"/>
<circle cx="109" cy="202" r=".41"/>
<circle cx="109" cy="204" r=".41"/>
<circle cx="109" cy="206" r=".41"/>
<circle cx="109" cy="208" r=".41"/>
<circle cx="109" cy="210" r=".41"/>
<circle cx="109" cy="212" r=".41"/>
<circle cx="149" cy="200" r=".41"/>
<circle cx="149" cy="202" r=".41"/>
<circle cx="149" cy="204" r=".41"/>
<circle cx="149" cy="206" r=".41"/>
<circle cx="149" cy="208" r=".41"/>
<circle cx="149" cy="210" r=".41"/>
<circle cx="149" cy="212" r=".41"/>
<circle cx="46" cy="217" r=".41"/>
<circle cx="65" cy="217" r=".41"/>
<circle cx="97" cy="216" r=".41"/>
<circle cx="117" cy="216" r=".41"/>
<circle cx="3" cy="219" r=".41"/>
<circle cx="3" cy="221" r=".41"/>
<circle cx="3" cy="223" r=".41"/>
<circle cx="3" cy="225" r=".41"/>
<circle cx="3" cy="227" r=".41"/>
<circle cx="3" cy="229" r=".41"/>
<circle cx="3" cy="231" r=".41"/>
<circle cx="44" cy="219" r=".41"/>
<circle cx="44" cy="221" r=".41"/>
<circle cx="44" cy="223" r=".41"/>
<circle cx="44" cy="225" r=".41"/>
<circle cx="44" cy="227" r=".41"/>
<circle cx="44" cy="229" r=".41"/>
<circle cx="44" cy="231" r=".41"/>
<circle cx="87" cy="219" r=".41"/>
<circle cx="87" cy="221" r=".41"/>
<circle cx="87" cy="223" r=".41"/>
<circle cx="87" cy="225" r=".41"/>
<circle cx="87" cy="227" r=".41"/>
<circle cx="87" cy="229" r=".41"/>
<circle cx="87" cy="231" r=".41"/>
<circle cx="117" cy="219" r=".41"/>
<circle cx="117" cy="221" r=".41"/>
<circle cx="117" cy="223" r=".41"/>
<circle cx="117" cy="225" r=".41"/>
<circle cx="117" cy="227" r=".41"/>
<circle cx="117" cy="229" r=".41"/>
<circle cx="117" cy="231" r=".41"/>
<circle cx="150" cy="219" r=".41"/>
<circle cx="150" cy="221" r=".41"/>
<circle cx="150" cy="223" r=".41"/>
<circle cx="150" cy="225" r=".41"/>
<circle cx="150" cy="227" r=".41"/>
</g>
<g class="t">
<text x="1.50" y="47.55" transform="rotate(-45 1.50 47.55)">fortcity shroom beach</text>
<text x="3.50" y="47.55" transform="rotate(-45 3.50 47.55)">coolant sector</text>
<text x="7.50" y="47.55" transform="rotate(-45 7.50 47.55)">shucker plaza</text>
<text x="10.50" y="47.55" transform="rotate(-45 10.50 47.55)">world 3 industries</text>
<text x="13.50" y="47.55" transform="rotate(-45 13.50 47.55)">obsidian lagsector</text>
<text x="16.50" y="47.55" transform="rotate(-45 16.50 47.55)">darkglass bunker</text>
<text x="19.50" y="47.55" transform="rotate(-45 19.50 47.55)">gran dock</text>
<text x="21.50" y="47.55" transform="rotate(-45 21.50 47.55)">dior dior docks</text>
<text x="24.50" y="47.55" transform="rotate(-45 24.50 47.55)">death ridge</text>
<text x="28.50" y="47.55" transform="rotate(-45 28.50 47.55)">mt magneto</text>
<text x="31.50" y="47.55" transform="rotate(-45 31.50 47.55)">mt korikaji</text>
<text x="35.50" y="47.55" transform="rotate(-45 35.50 47.55)">badlands blast furnace</text>
<text x="39.50" y="47.55" transform="rotate(-45 39.50 47.55)">drip resort</text>
<text x="43.50" y="47.55" transform="rotate(-45 43.50 47.55)">grain beach</text>
<text x="47.50" y="47.55" transform="rotate(-45 47.50 47.55)">biostone beach</text>
<text x="50.50" y="47.55" transform="rotate(-45 50.50 47.55)">biostone beach east</text>
<text x="53.50" y="47.55" transform="rotate(-45 53.50 47.55)">germa beach</text>
<text x="56.50" y="47.55" transform="rotate(-45 56.50 47.55)">mudmouth</text>
<text x="59.50" y="47.55" transform="rotate(-45 59.50 47.55)">corn mudmaker</text>
<text x="3.75" y="38.30">NV runs limited express via Metrobay Expressway until Newer Vegas Strip</text>
<text x="3.75" y="39.30">SM and SC run skip-stop service from Logging District to Coggard Library Via Metrobay Expressway</text>
<text x="4.03" y="51.47">NISHINOJO</text>
<text x="2.03" y="70.47">NISHINOJO</text>
<text x="51.03" y="72.47">NISHINOJO</text>
<text x="1.35" y="53.90" transform="rotate(45 1.35 53.90)">fortcity kaon</text>
<text x="13.50" y="52.55" transform="rotate(-45 13.50 52.55)">foufort</text>
<text x="23.55" y="53.50" text-anchor="end" transform="rotate(-45 23.55 53.50)">world 6 industries</text>
<text x="32.50" y="52.55" transform="rotate(-45 32.50 52.55)">kita kinzokumachi</text>
<text x="35.50" y="52.55" transform="rotate(-45 35.50 52.55)">rfc 1</text>
<text x="1.35" y="58.90" transform="rotate(45 1.35 58.90)">midtrade fortcity</text>
<text x="32.50" y="57.55" transform="rotate(-45 32.50 57.55)">kinzomachi</text>
<text x="35.50" y="57.55" transform="rotate(-45 35.50 57.55)">rfc 2</text>
<text x="34.25" y="59.30" text-anchor="end">through service to north plaza</text>
<text x="1.35" y="64.90" transform="rotate(45 1.35 64.90)">westend fortcity</text>
<text x="20.25" y="62.30" text-anchor="end">NU geology campus</text>
<text x="35.50" y="61.55" transform="rotate(-45 35.50 61.55)">rfc 3</text>
<text x="34.25" y="60.95" text-anchor="end">NU botanical campus</text>
<text x="34.25" y="65.30" text-anchor="end">through service to north plaza</text>
<text x="1.35" y="72.90" transform="rotate(45 1.35 72.90)">fortcity airfield</text>
<text x="39.36" y="53.75" text-anchor="end" transform="rotate(-90 39.36 53.75)">nishinojo yuenchi</text>
<text x="43.55" y="53.50" text-anchor="end" transform="rotate(-45 43.55 53.50)">complex 1</text>
<text x="46.55" y="53.50" text-anchor="end" transform="rotate(-45 46.55 53.50)">complex 2</text>
<text x="50.55" y="53.50" text-anchor="end" transform="rotate(-45 50.55 53.50)">complex 3</text>
<text x="54.55" y="53.50" text-anchor="end" transform="rotate(-45 54.55 53.50)">uchumori trail</text>
<text x="58.55" y="53.50" text-anchor="end" transform="rotate(-45 58.55 53.50)">botanical tower 3</text>
<text x="40.50" y="57.55" transform="rotate(-45 40.50 57.55)">sunset lake n</text>
<text x="44.50" y="57.55" transform="rotate(-45 44.50 57.55)">sunset tower</text>
<text x="44.36" y="58.75" text-anchor="end" transform="rotate(-90 44.36 58.75)">yoruyama</text>
<text x="47.50" y="57.55" transform="rotate(-45 47.50 57.55)">trade tower</text>
<text x="51.50" y="57.55" transform="rotate(-45 51.50 57.55)">botanical tower 1</text>
<text x="55.50" y="57.55" transform="rotate(-45 55.50 57.55)">sundown tower</text>
<text x="59.50" y="57.55" transform="rotate(-45 59.50 57.55)">tower town</text>
<text x="38.35" y="64.90" transform="rotate(45 38.35 64.90)">sunset lake s</text>
<text x="41.35" y="64.90" transform="rotate(45 41.35 64.90)">rigid reservoir</text>
<text x="40.35" y="66.40" transform="rotate(45 40.35 66.40)">apogee town</text>
<text x="44.35" y="64.90" transform="rotate(45 44.35 64.90)">yoruyama observatory</text>
<text x="47.35" y="64.90" transform="rotate(45 47.35 64.90)">tower fields</text>
<text x="45.35" y="66.90" transform="rotate(45 45.35 66.90)">bore town</text>
<text x="48.35" y="66.40" transform="rotate(45 48.35 66.40)">shuttle city</text>
<text x="51.35" y="64.90" transform="rotate(45 51.35 64.90)">yoruahokubutsu</text>
<text x="50.85" y="66.90" transform="rotate(45 50.85 66.90)">yumeiyama</text>
<text x="54.25" y="63.80" text-anchor="end" transform="rotate(45 54.25 63.80)">liminal city</text>
<text x="56.25" y="63.80" text-anchor="end" transform="rotate(45 56.25 63.80)">higashi sannyakumachi</text>
<text x="53.85" y="65.90" transform="rotate(45 53.85 65.90)">crafttec vault 58</text>
<text x="59.35" y="64.90" transform="rotate(45 59.35 64.90)">field city</text>
<text x="37.36" y="67.25" transform="rotate(-90 37.36 67.25)">westvault</text>
<text x="33.25" y="68.80" text-anchor="end" transform="rotate(45 33.25 68.80)">cross st</text>
<text x="40.35" y="69.90" transform="rotate(45 40.35 69.90)">cold spring</text>
<text x="42.35" y="69.90" transform="rotate(45 42.35 69.90)">nishi sannyakumachi</text>
<text x="44.35" y="70.90" transform="rotate(45 44.35 70.90)">tundra valley</text>
<text x="58.35" y="70.90" transform="rotate(45 58.35 70.90)">lowell</text>
<text x="33.25" y="71.80" text-anchor="end" transform="rotate(45 33.25 71.80)">onsokumachi</text>
<text x="36.35" y="73.90" transform="rotate(45 36.35 73.90)">riverside st</text>
<text x="34.85" y="70.40" transform="rotate(45 34.85 70.40)">namimachi</text>
<text x="43.25" y="75.30" text-anchor="end">cold front</text>
<text x="45.25" y="76.30" text-anchor="end">tributary st</text>
<text x="49.50" y="75.55" transform="rotate(-45 49.50 75.55)">foufort</text>
<text x="52.50" y="75.55" transform="rotate(-45 52.50 75.55)">beacon</text>
<text x="55.50" y="75.55" transform="rotate(-45 55.50 75.55)">gravel city</text>
<text x="58.50" y="75.55" transform="rotate(-45 58.50 75.55)">ito city</text>
<text x="34.25" y="77.80" text-anchor="end" transform="rotate(45 34.25 77.80)">onsoku raceway</text>
<text x="36.25" y="77.80" text-anchor="end" transform="rotate(45 36.25 77.80)">resonance studio</text>
<text x="40.75" y="78.30">newport colosseum</text>
<text x="42.75" y="79.30">nō tower</text>
<text x="44.75" y="81.30">circulation tower</text>
<text x="34.25" y="82.80" text-anchor="end" transform="rotate(45 34.25 82.80)">newport village</text>
<text x="36.25" y="82.80" text-anchor="end" transform="rotate(45 36.25 82.80)">newport studio</text>
<text x="38.25" y="82.80" text-anchor="end" transform="rotate(45 38.25 82.80)">dojo complex</text>
<text x="40.25" y="82.80" text-anchor="end" transform="rotate(45 40.25 82.80)">higashi</text>
<text x="42.25" y="82.80" text-anchor="end" transform="rotate(45 42.25 82.80)">nishi onsoku</text>
<text x="49.25" y="82.30" text-anchor="end">ore.opew photosector</text>
<text x="59.25" y="81.30" text-anchor="end">glow st</text>
<text x="59.25" y="80.30" text-anchor="end">orwell county east</text>
<text x="59.25" y="79.30" text-anchor="end">newport print press and library</text>
<text x="59.25" y="78.30" text-anchor="end">newport file generator</text>
<text x="48.35" y="83.90" transform="rotate(45 48.35 83.90)">junction</text>
<text x="49.85" y="84.90" transform="rotate(45 49.85 84.90)">redstone</text>
<text x="52.35" y="82.90" transform="rotate(45 52.35 82.90)">64 st</text>
<text x="50.35" y="85.40" transform="rotate(45 50.35 85.40)">fmb86</text>
<text x="52.85" y="84.90" transform="rotate(45 52.85 84.90)">fm023</text>
<text x="54.35" y="84.40" transform="rotate(45 54.35 84.40)">fm022</text>
<text x="54.35" y="82.90" transform="rotate(45 54.35 82.90)">royal city</text>
<text x="56.85" y="83.90" transform="rotate(45 56.85 83.90)">orwell</text>
<text x="55.35" y="84.90" transform="rotate(45 55.35 84.90)">fm046</text>
<text x="34.25" y="87.80" text-anchor="end" transform="rotate(45 34.25 87.80)">higashi denmachi</text>
<text x="36.25" y="87.80" text-anchor="end" transform="rotate(45 36.25 87.80)">denmachi</text>
<text x="38.25" y="87.80" text-anchor="end" transform="rotate(45 38.25 87.80)">yuushikojo</text>
<text x="40.25" y="87.80" text-anchor="end" transform="rotate(45 40.25 87.80)">yuushikojo offices</text>
<text x="42.25" y="87.80" text-anchor="end" transform="rotate(45 42.25 87.80)">yuushikojo</text>
<text x="44.25" y="87.80" text-anchor="end" transform="rotate(45 44.25 87.80)">nishinojo studios</text>
<text x="46.25" y="87.80" text-anchor="end" transform="rotate(45 46.25 87.80)">yuushikojo</text>
<text x="53.25" y="90.30" text-anchor="end">hard rock highway</text>
<text x="34.25" y="91.80" text-anchor="end" transform="rotate(45 34.25 91.80)">component</text>
<text x="36.25" y="91.80" text-anchor="end" transform="rotate(45 36.25 91.80)">laden-mae</text>
<text x="38.25" y="91.80" text-anchor="end" transform="rotate(45 38.25 91.80)">denmachi</text>
<text x="47.85" y="89.40" transform="rotate(45 47.85 89.40)">studios</text>
<text x="49.35" y="88.90" transform="rotate(45 49.35 88.90)">arena</text>
<text x="41.35" y="92.90" transform="rotate(45 41.35 92.90)">radio</text>
<text x="45.35" y="92.90" transform="rotate(45 45.35 92.90)">ether castle</text>
<text x="48.35" y="92.90" transform="rotate(45 48.35 92.90)">mortar</text>
<text x="50.35" y="92.90" transform="rotate(45 50.35 92.90)">bomb</text>
<text x="52.35" y="92.90" transform="rotate(45 52.35 92.90)">stardust</text>
<text x="34.25" y="94.80" text-anchor="end" transform="rotate(45 34.25 94.80)">information insanity</text>
<text x="36.25" y="94.80" text-anchor="end" transform="rotate(45 36.25 94.80)">new mushroom city</text>
<text x="38.25" y="94.80" text-anchor="end" transform="rotate(45 38.25 94.80)">red steel district</text>
<text x="35.25" y="92.80" text-anchor="end" transform="rotate(45 35.25 92.80)">rainbow speedway</text>
<text x="40.25" y="94.80" text-anchor="end" transform="rotate(45 40.25 94.80)">east</text>
<text x="42.25" y="94.80" text-anchor="end" transform="rotate(45 42.25 94.80)">groove</text>
<text x="44.25" y="94.80" text-anchor="end" transform="rotate(45 44.25 94.80)">radio</text>
<text x="41.85" y="96.40" transform="rotate(45 41.85 96.40)">green shell district</text>
<text x="44.35" y="96.40" transform="rotate(45 44.35 96.40)">pkwy</text>
<text x="43.35" y="93.90" transform="rotate(45 43.35 93.90)">airdrome</text>
<text x="46.35" y="93.90" transform="rotate(45 46.35 93.90)">melody castle</text>
<text x="48.85" y="94.40" transform="rotate(45 48.85 94.40)">shallows</text>
<text x="51.35" y="94.40" transform="rotate(45 51.35 94.40)">crossroad</text>
<text x="53.85" y="94.40" transform="rotate(45 53.85 94.40)">shrine</text>
<text x="55.96" y="90.75" text-anchor="end" transform="rotate(-90 55.96 90.75)">alt arcade</text>
<text x="56.96" y="90.75" text-anchor="end" transform="rotate(-90 56.96 90.75)">neon nightclubs</text>
<text x="57.96" y="90.75" text-anchor="end" transform="rotate(-90 57.96 90.75)">pop panic</text>
<text x="58.96" y="90.75" text-anchor="end" transform="rotate(-90 58.96 90.75)">coin cave</text>
<text x="66.25" y="22.80" text-anchor="end" transform="rotate(45 66.25 22.80)">kita umimachi</text>
<text x="63.25" y="25.30" text-anchor="end">nishi umimachi</text>
<text x="70.75" y="25.30">higashi umimachi</text>
<text x="66.55" y="27.50" text-anchor="end" transform="rotate(-45 66.55 27.50)">minami umimachi</text>
<text x="75.25" y="22.80" text-anchor="end" transform="rotate(45 75.25 22.80)">fukamizu ruins</text>
<text x="80.75" y="23.30">gedanone</text>
<text x="82.25" y="20.30" text-anchor="end">chudanone</text>
<text x="86.75" y="17.30">jōdanone</text>
<text x="87.25" y="14.30" text-anchor="end">namakodori 4 chōme</text>
<text x="90.50" y="13.55" transform="rotate(-45 90.50 13.55)">namakodori 3 chōme</text>
<text x="93.75" y="14.30">namakodori 2 chōme</text>
<text x="95.75" y="15.30">namakodori 1 chōme</text>
<text x="94.75" y="17.30">hoshisasu</text>
<text x="93.25" y="20.30" text-anchor="end">hoshisunashima</text>
<text x="91.25" y="22.30" text-anchor="end">kishima</text>
<text x="92.25" y="24.30" text-anchor="end">KITANUMACHI NATIONAL PARK</text>
<text x="89.25" y="26.30" text-anchor="end">shishima</text>
<text x="96.75" y="25.30">kushima</text>
<text x="94.25" y="29.30" text-anchor="end">kitanūmachi</text>
<text x="94.25" y="33.30" text-anchor="end">kitanūmachimanor</text>
<text x="95.25" y="41.30" text-anchor="end">bay monument</text>
<text x="94.25" y="55.80" text-anchor="end" transform="rotate(45 94.25 55.80)">reefland port (walkway access to Grand Junction)</text>
<text x="107.25" y="4.30" text-anchor="end">Skyliner via Polaris for Grand Junction, via Outborough 1 for Radio City, and via Metropolis for Great Chungus Mountain</text>
<text x="110.75" y="2.30">subarudori - north front road</text>
<text x="107.25" y="6.30" text-anchor="end">driller valley</text>
<text x="111.36" y="7.75" text-anchor="end" transform="rotate(-90 111.36 7.75)">shiftway</text>
<text x="115.36" y="7.75" text-anchor="end" transform="rotate(-90 115.36 7.75)">harvest ridge</text>
<text x="119.36" y="7.75" text-anchor="end" transform="rotate(-90 119.36 7.75)">tiller heights</text>
<text x="106.25" y="10.30" text-anchor="end">velocity heights</text>
<text x="106.25" y="13.30" text-anchor="end">deployer depot</text>
<text x="106.25" y="16.30" text-anchor="end">chaindrive storage</text>
<text x="105.25" y="19.30" text-anchor="end">powerdrive storage</text>
<text x="103.25" y="21.30" text-anchor="end">pausedrive storage</text>
<text x="103.25" y="24.30" text-anchor="end">digitdrive storage</text>
<text x="103.25" y="27.30" text-anchor="end">kelp pkwy</text>
<text x="103.25" y="30.30" text-anchor="end">gantry shaftway</text>
<text x="103.25" y="33.30" text-anchor="end">bearingway m</text>
<text x="103.25" y="36.30" text-anchor="end">bearingway c</text>
<text x="103.25" y="39.30" text-anchor="end">craft autoway</text>
<text x="106.25" y="42.30" text-anchor="end">tick tock clock</text>
<text x="111.50" y="41.55" transform="rotate(-45 111.50 41.55)">centrifuged pistonway</text>
<text x="113.03" y="24.47">KOJOKEI</text>
<text x="113.25" y="46.30" text-anchor="end">frame ridge</text>
<text x="114.75" y="49.30">andesite bay n</text>
<text x="117.75" y="51.30">tumer height</text>
<circle cx="102" cy="50" r=".62" fill="#fff" stroke="#000" stroke-width=".5"/>
<text x="98.28" y="51.47">GRAND JUNCTION</text>
<text x="109.75" y="52.30">andesite bay refineries</text>
<text x="117.25" y="54.30" text-anchor="end">brasside</text>
<text x="114.75" y="56.30">andesite bay s</text>
<text x="101.75" y="56.30">fuelland/cobble hills kita</text>
<text x="102.75" y="58.30">cobble hills</text>
<text x="116.25" y="58.30" text-anchor="end">alloy corridor</text>
<text x="116.25" y="59.30" text-anchor="end">Y, ST and L for</text>
<text x="116.25" y="60.30" text-anchor="end">W.E. and G.J. via F liner</text>
<text x="95.85" y="57.90" transform="rotate(45 95.85 57.90)">igneous lake</text>
<text x="92.35" y="58.40" transform="rotate(45 92.35 58.40)">obsidian meadows</text>
<text x="93.75" y="63.30">zinc field</text>
<text x="99.75" y="61.30">WEST EXCHANGE</text>
<text x="107.75" y="62.30">sea pickle beach</text>
<text x="107.75" y="69.30">coral storage</text>
<text x="107.75" y="75.30">babylon banks</text>
<text x="107.03" y="67.47">REEFLAND</text>
<text x="108.75" y="77.30">babylon strait</text>
<text x="115.75" y="86.30">north culture base</text>
<text x="95.25" y="75.30" text-anchor="end">thrsv via RS4</text>
<text x="98.25" y="79.30" text-anchor="end">minaminojo municipal building</text>
<text x="102.25" y="83.30" text-anchor="end">new fertile crescent nw</text>
<text x="98.35" y="65.90" transform="rotate(45 98.35 65.90)">mass obsidian generator</text>
<text x="98.35" y="68.90" transform="rotate(45 98.35 68.90)">artifical volcano</text>
<text x="98.35" y="73.90" transform="rotate(45 98.35 73.90)">CTMA spaceport</text>
<text x="100.35" y="78.90" transform="rotate(45 100.35 78.90)">CTMA AM campus</text>
<text x="109.35" y="61.90" transform="rotate(45 109.35 61.90)">CTMA technical campus</text>
<text x="114.35" y="70.90" transform="rotate(45 114.35 70.90)">eden plateau</text>
<text x="118.55" y="58.50" text-anchor="end" transform="rotate(-45 118.55 58.50)">boxer mountain</text>
<text x="107.55" y="81.50" text-anchor="end" transform="rotate(-45 107.55 81.50)">babylon strait south</text>
<text x="111.55" y="81.50" text-anchor="end" transform="rotate(-45 111.55 81.50)">spore zone 1</text>
<text x="115.55" y="81.50" text-anchor="end" transform="rotate(-45 115.55 81.50)">CTMA tactical campus</text>
<text x="113.55" y="85.50" text-anchor="end" transform="rotate(-45 113.55 85.50)">primary genesis</text>
<text x="62.50" y="49.55" transform="rotate(-45 62.50 49.55)">copper hills 34 st</text>
<text x="66.50" y="48.55" transform="rotate(-45 66.50 48.55)">copper hills 27 st</text>
<text x="71.50" y="49.55" transform="rotate(-45 71.50 49.55)">rust avenue</text>
<text x="68.50" y="49.55" transform="rotate(-45 68.50 49.55)">copper hills</text>
<text x="70.03" y="44.97">NISHINOJO</text>
<text x="72.25" y="52.30" text-anchor="end">refined heights n5 ave</text>
<text x="76.50" y="53.55" transform="rotate(-45 76.50 53.55)">refined heights</text>
<text x="77.25" y="57.30" text-anchor="end">refined heights s12 ave</text>
<text x="79.25" y="58.30" text-anchor="end">station city th</text>
<text x="79.25" y="59.30" text-anchor="end">refined heights s18 ave</text>
<text x="81.25" y="61.30" text-anchor="end">refined heights s22 ave</text>
<text x="84.25" y="63.30" text-anchor="end">logging district w5 st</text>
<text x="87.25" y="59.80" text-anchor="end" transform="rotate(45 87.25 59.80)">logging district</text>
<text x="90.25" y="59.80" text-anchor="end" transform="rotate(45 90.25 59.80)">zincwood ave</text>
<text x="64.75" y="53.30">nishi hoshimachi</text>
<text x="67.75" y="54.30">hoshimachi</text>
<text x="69.75" y="55.30">Nishinojo NE</text>
<text x="63.75" y="58.30">nishinojo stadium</text>
<text x="64.25" y="60.30" text-anchor="end">murasakisoramori</text>
<text x="65.75" y="60.30">shirokuro machi</text>
<text x="66.25" y="62.30" text-anchor="end">sunset hills</text>
<text x="72.35" y="62.90" transform="rotate(45 72.35 62.90)">aokumo</text>
<text x="76.75" y="62.30">kita tetsuki</text>
<text x="78.75" y="64.30">tetsuki</text>
<text x="69.25" y="64.30" text-anchor="end">nishinojo university</text>
<text x="64.35" y="66.90" transform="rotate(45 64.35 66.90)">kumomachi</text>
<text x="68.35" y="66.90" transform="rotate(45 68.35 66.90)">nishinojo mall</text>
<text x="73.35" y="66.90" transform="rotate(45 73.35 66.90)">yorumachi</text>
<text x="76.35" y="66.90" transform="rotate(45 76.35 66.90)">yorumori</text>
<text x="80.35" y="66.90" transform="rotate(45 80.35 66.90)">korok st</text>
<text x="83.35" y="66.90" transform="rotate(45 83.35 66.90)">nishi koromori</text>
<text x="86.35" y="66.90" transform="rotate(45 86.35 66.90)">koromori</text>
<text x="89.75" y="66.30">korok complex</text>
<text x="81.35" y="68.90" transform="rotate(45 81.35 68.90)">beachcomber campgrounds</text>
<text x="84.35" y="68.90" transform="rotate(45 84.35 68.90)">korok beach</text>
<text x="87.35" y="68.90" transform="rotate(45 87.35 68.90)">quartz quadrant</text>
<text x="90.35" y="68.90" transform="rotate(45 90.35 68.90)">world 4 industries</text>
<text x="93.85" y="69.40" transform="rotate(45 93.85 69.40)">firebrick expwy</text>
<text x="65.35" y="71.90" transform="rotate(45 65.35 71.90)">web junction</text>
<text x="71.35" y="71.90" transform="rotate(45 71.35 71.90)">world 5 industries</text>
<text x="74.35" y="71.90" transform="rotate(45 74.35 71.90)">minami yorumachi</text>
<text x="76.35" y="71.90" transform="rotate(45 76.35 71.90)">yorumori fisheries</text>
<text x="78.35" y="70.90" transform="rotate(45 78.35 70.90)">yorumori peak</text>
<text x="69.35" y="71.90" transform="rotate(45 69.35 71.90)">journal sq</text>
<text x="64.35" y="72.90" transform="rotate(45 64.35 72.90)">ito city</text>
<text x="60.75" y="75.30">porter</text>
<text x="66.03" y="76.97">newport county</text>
<text x="64.25" y="78.30" text-anchor="end">generator</text>
<text x="71.25" y="79.30" text-anchor="end">soundwall exp</text>
<text x="76.75" y="78.30">nūmachikoen</text>
<text x="69.25" y="82.30" text-anchor="end">RADIO CITY</text>
<text x="72.75" y="82.30">silent slps</text>
<text x="75.25" y="83.30" text-anchor="end">pier 1</text>
<text x="77.75" y="83.30">pier 5</text>
<text x="74.75" y="84.30">newport sound logistics</text>
<text x="83.75" y="83.30">dockside</text>
<text x="71.25" y="85.30" text-anchor="end">soundwall st</text>
<text x="77.75" y="85.30">pier 10</text>
<text x="82.75" y="85.30">9 st</text>
<text x="67.75" y="86.30">jet set st</text>
<text x="73.75" y="86.30">newport sound junction</text>
<text x="69.25" y="87.30" text-anchor="end">trench town</text>
<text x="75.75" y="87.30">pier 20</text>
<text x="80.75" y="87.30">24 st</text>
<text x="64.25" y="88.30" text-anchor="end">red hotline</text>
<text x="73.75" y="88.30">kita irobashi</text>
<text x="78.75" y="89.30">41 st</text>
<text x="71.75" y="90.30">64 rs renderer</text>
<text x="74.25" y="91.30" text-anchor="end">irobashi</text>
<text x="78.25" y="95.30" text-anchor="end">minami irobashi</text>
<text x="82.35" y="91.90" transform="rotate(45 82.35 91.90)">NU bio. campus</text>
<text x="87.85" y="92.40" transform="rotate(45 87.85 92.40)">NU IT campus</text>
<text x="69.36" y="90.75" text-anchor="end" transform="rotate(-90 69.36 90.75)">vapor banks</text>
<text x="67.36" y="90.75" text-anchor="end" transform="rotate(-90 67.36 90.75)">world 9 industries</text>
<text x="66.36" y="91.75" text-anchor="end" transform="rotate(-90 66.36 91.75)">macintosh grove</text>
<text x="64.36" y="93.75" text-anchor="end" transform="rotate(-90 64.36 93.75)">retro skyway</text>
<text x="63.36" y="90.75" text-anchor="end" transform="rotate(-90 63.36 90.75)">server speedway</text>
<text x="62.36" y="95.75" text-anchor="end" transform="rotate(-90 62.36 95.75)">tubular cliffs</text>
<text x="126.75" y="2.30">all polaris express lines continue north via subarudori to high moon junction before splitting off into KITAHOSHIKEI</text>
<text x="125.25" y="5.30" text-anchor="end">windy hill</text>
<text x="126.35" y="7.90" transform="rotate(45 126.35 7.90)">NORTH GATE PLAZA</text>
<text x="130.35" y="7.90" transform="rotate(45 130.35 7.90)">electron plains</text>
<text x="134.35" y="7.90" transform="rotate(45 134.35 7.90)">analog sector</text>
<text x="138.35" y="7.90" transform="rotate(45 138.35 7.90)">latch sector</text>
<text x="142.35" y="7.90" transform="rotate(45 142.35 7.90)">toggle sector</text>
<text x="146.35" y="7.90" transform="rotate(45 146.35 7.90)">repeat c sector</text>
<text x="150.35" y="7.90" transform="rotate(45 150.35 7.90)">extender sector</text>
<text x="154.35" y="7.90" transform="rotate(45 154.35 7.90)">link sector</text>
<text x="158.35" y="7.90" transform="rotate(45 158.35 7.90)">red tetra sector</text>
<text x="161.75" y="5.30">contact sector</text>
<text x="168.25" y="9.30" text-anchor="end">rs torch sector</text>
<text x="169.03" y="4.07">REDSTONE CITY</text>
<text x="177.75" y="6.30">compare sector</text>
<text x="173.75" y="10.30">observer sector</text>
<text x="172.55" y="9.50" text-anchor="end" transform="rotate(-45 172.55 9.50)">repeat sector</text>
<text x="185.50" y="10.55" transform="rotate(-45 185.50 10.55)">hopper sector</text>
<text x="190.35" y="10.90" transform="rotate(45 190.35 10.90)">pl-01</text>
<text x="189.25" y="12.30" text-anchor="end">piston sector</text>
<text x="193.25" y="9.80" text-anchor="end" transform="rotate(45 193.25 9.80)">pi-ne</text>
<text x="197.25" y="9.80" text-anchor="end" transform="rotate(45 197.25 9.80)">transmission trailway</text>
<text x="201.25" y="10.80" text-anchor="end" transform="rotate(45 201.25 10.80)">transmission tramways</text>
<text x="202.25" y="15.30" text-anchor="end">nrl10-20</text>
<text x="202.25" y="19.30" text-anchor="end">new link sector</text>
<text x="202.25" y="23.30" text-anchor="end">nrl50-60</text>
<text x="202.25" y="27.30" text-anchor="end">yuubinden packer sector n</text>
<text x="202.25" y="31.30" text-anchor="end">yuubinden packer sector s</text>
<text x="202.25" y="35.30" text-anchor="end">yuubinden chainway sector</text>
<text x="202.25" y="39.30" text-anchor="end">yuubinden control sector</text>
<text x="203.75" y="43.30">major link sector</text>
<text x="203.75" y="47.30">logic sector</text>
<text x="201.75" y="49.30">lsts</text>
<text x="199.75" y="51.30">transistor sector</text>
<text x="197.75" y="53.30">ts35-45</text>
<text x="195.75" y="54.30">south transistor sector</text>
<text x="194.75" y="52.30">west transistor sector</text>
<text x="195.75" y="50.30">south logic sector</text>
<text x="197.25" y="47.30" text-anchor="end">west logic sector</text>
<text x="199.75" y="44.30">mls 25-35</text>
<text x="199.75" y="42.30">new redstone city municipal building</text>
<text x="191.55" y="16.50" text-anchor="end" transform="rotate(-45 191.55 16.50)">light sector</text>
<text x="191.55" y="20.50" text-anchor="end" transform="rotate(-45 191.55 20.50)">slime sector</text>
<text x="191.25" y="25.30" text-anchor="end">honey sector</text>
<text x="191.25" y="30.30" text-anchor="end">solar sector</text>
<text x="191.25" y="34.30" text-anchor="end">storm sector</text>
<text x="191.25" y="38.30" text-anchor="end">sonar sector</text>
<text x="191.25" y="42.30" text-anchor="end">blast sector</text>
<text x="191.75" y="46.30">photosector</text>
<text x="188.35" y="50.90" transform="rotate(45 188.35 50.90)">enter sector</text>
<text x="180.53" y="51.37">STICKER SECTOR</text>
<text x="185.36" y="15.25" transform="rotate(-90 185.36 15.25)">hpsw</text>
<text x="184.25" y="18.30" text-anchor="end">lg-24</text>
<text x="184.25" y="19.30" text-anchor="end">s2-24</text>
<text x="184.25" y="21.30" text-anchor="end">s9-24</text>
<text x="184.25" y="26.30" text-anchor="end">h7-24</text>
<text x="184.25" y="29.30" text-anchor="end">sl4-24</text>
<text x="184.25" y="33.30" text-anchor="end">stm4-24</text>
<text x="184.25" y="38.30" text-anchor="end">sn7-24</text>
<text x="184.25" y="42.30" text-anchor="end">bl5-24</text>
<text x="185.75" y="45.30">penw</text>
<text x="179.75" y="27.30">tgt3-12</text>
<text x="179.75" y="28.30">tgt5-12</text>
<text x="179.75" y="31.30">tx2-12</text>
<text x="179.75" y="32.30">tx5-12</text>
<text x="179.75" y="34.30">txk-12</text>
<text x="179.75" y="36.30">k6-12</text>
<text x="179.75" y="37.30">k10-12</text>
<text x="179.75" y="40.30">bx6-12</text>
<text x="179.75" y="41.30">bx10-12</text>
<text x="180.75" y="44.30">nt5-12</text>
<text x="182.75" y="46.30">in3-12</text>
<text x="178.75" y="47.30">input sector</text>
<text x="123.25" y="8.30" text-anchor="end">press</text>
<text x="125.25" y="9.30" text-anchor="end">energy ave</text>
<text x="126.25" y="11.30" text-anchor="end">imx idrge</text>
<text x="128.25" y="13.30" text-anchor="end">armstrong terrace</text>
<text x="129.25" y="16.30" text-anchor="end">ground slope</text>
<text x="129.25" y="19.30" text-anchor="end">miller avenue</text>
<text x="129.25" y="22.30" text-anchor="end">sawside</text>
<text x="129.25" y="25.30" text-anchor="end">tensile heights</text>
<text x="128.75" y="30.10" text-anchor="end" transform="rotate(-45 128.75 30.10)">grand mechanism A</text>
<text x="130.35" y="9.90" transform="rotate(45 130.35 9.90)">e5-5</text>
<text x="133.35" y="12.90" transform="rotate(45 133.35 12.90)">s2-9</text>
<text x="131.85" y="10.90" transform="rotate(45 131.85 10.90)">j3-12</text>
<text x="137.35" y="13.90" transform="rotate(45 137.35 13.90)">rr-12</text>
<text x="140.35" y="13.90" transform="rotate(45 140.35 13.90)">r1-12</text>
<text x="142.35" y="13.90" transform="rotate(45 142.35 13.90)">f4-12</text>
<text x="144.35" y="13.90" transform="rotate(45 144.35 13.90)">frc-12</text>
<text x="147.35" y="13.90" transform="rotate(45 147.35 13.90)">rc8-12</text>
<text x="150.35" y="13.90" transform="rotate(45 150.35 13.90)">x6-12</text>
<text x="153.35" y="13.90" transform="rotate(45 153.35 13.90)">rr1-12</text>
<text x="155.35" y="13.90" transform="rotate(45 155.35 13.90)">rf9-12</text>
<text x="158.35" y="13.90" transform="rotate(45 158.35 13.90)">rf4-12</text>
<text x="159.35" y="13.90" transform="rotate(45 159.35 13.90)">rt9-12</text>
<text x="161.75" y="13.30">c4-12</text>
<text x="162.75" y="14.30">c8-12</text>
<text x="134.50" y="16.55" transform="rotate(-45 134.50 16.55)">pixie sector</text>
<text x="135.50" y="16.55" transform="rotate(-45 135.50 16.55)">n7-6</text>
<text x="137.50" y="16.55" transform="rotate(-45 137.50 16.55)">s1-12</text>
<text x="138.50" y="16.55" transform="rotate(-45 138.50 16.55)">s6-12</text>
<text x="141.50" y="17.55" transform="rotate(-45 141.50 17.55)">cw3-10</text>
<text x="143.50" y="17.55" transform="rotate(-45 143.50 17.55)">cw8-10</text>
<text x="145.50" y="17.55" transform="rotate(-45 145.50 17.55)">j2-10</text>
<text x="147.50" y="17.55" transform="rotate(-45 147.50 17.55)">j9-10</text>
<text x="149.50" y="18.55" transform="rotate(-45 149.50 18.55)">rr2-8</text>
<text x="151.50" y="18.55" transform="rotate(-45 151.50 18.55)">rr8-8</text>
<text x="153.50" y="18.55" transform="rotate(-45 153.50 18.55)">ct2-8</text>
<text x="155.50" y="18.55" transform="rotate(-45 155.50 18.55)">ct8-8</text>
<text x="157.50" y="18.55" transform="rotate(-45 157.50 18.55)">ro2-8</text>
<text x="159.50" y="19.55" transform="rotate(-45 159.50 19.55)">ro8-6</text>
<text x="161.50" y="19.55" transform="rotate(-45 161.50 19.55)">rrs2-6</text>
<text x="163.50" y="19.55" transform="rotate(-45 163.50 19.55)">rrs9-6</text>
<text x="166.75" y="17.30">redstone city municipal building</text>
<text x="165.55" y="18.50" text-anchor="end" transform="rotate(-45 165.55 18.50)">signal sector</text>
<text x="169.35" y="14.90" transform="rotate(45 169.35 14.90)">rf4-12</text>
<text x="170.35" y="14.90" transform="rotate(45 170.35 14.90)">rf9-12</text>
<text x="172.35" y="14.90" transform="rotate(45 172.35 14.90)">r2-12</text>
<text x="174.35" y="14.90" transform="rotate(45 174.35 14.90)">r8-12</text>
<text x="176.25" y="13.80" text-anchor="end" transform="rotate(45 176.25 13.80)">r3c5-12</text>
<text x="177.25" y="13.80" text-anchor="end" transform="rotate(45 177.25 13.80)">r3c9-12</text>
<text x="168.36" y="20.75" text-anchor="end" transform="rotate(-90 168.36 20.75)">di5-6</text>
<text x="169.36" y="20.75" text-anchor="end" transform="rotate(-90 169.36 20.75)">di9-6</text>
<text x="171.36" y="20.75" text-anchor="end" transform="rotate(-90 171.36 20.75)">dr3-6</text>
<text x="173.36" y="20.75" text-anchor="end" transform="rotate(-90 173.36 20.75)">dr9-6</text>
<text x="147.25" y="20.30" text-anchor="end">irr-8</text>
<text x="138.75" y="21.30">stockpile sector</text>
<text x="154.50" y="22.55" transform="rotate(-45 154.50 22.55)">cart sector</text>
<text x="153.55" y="23.50" text-anchor="end" transform="rotate(-45 153.55 23.50)">golden hour peak</text>
<text x="158.35" y="24.90" transform="rotate(45 158.35 24.90)">rr observer sector</text>
<text x="161.25" y="22.30" text-anchor="end">lcl service</text>
<text x="161.25" y="23.30" text-anchor="end">to irr-8</text>
<text x="162.35" y="24.90" transform="rotate(45 162.35 24.90)">daa st</text>
<text x="172.75" y="24.30">drop sector</text>
<text x="171.35" y="24.40" transform="rotate(45 171.35 24.40)">target sector</text>
<text x="174.25" y="27.80" text-anchor="end" transform="rotate(45 174.25 27.80)">text sector</text>
<text x="174.25" y="31.80" text-anchor="end" transform="rotate(45 174.25 31.80)">kinetic sector</text>
<text x="174.25" y="35.80" text-anchor="end" transform="rotate(45 174.25 35.80)">box sector</text>
<text x="174.25" y="39.80" text-anchor="end" transform="rotate(45 174.25 39.80)">hole sector</text>
<text x="164.35" y="34.90" transform="rotate(45 164.35 34.90)">interline st</text>
<text x="164.36" y="27.75" text-anchor="end" transform="rotate(-90 164.36 27.75)">jikoukukiri</text>
<text x="167.86" y="27.75" text-anchor="end" transform="rotate(-90 167.86 27.75)">dispenser sector</text>
<text x="168.86" y="27.75" text-anchor="end" transform="rotate(-90 168.86 27.75)">prismacutter</text>
<text x="135.36" y="26.25" transform="rotate(-90 135.36 26.25)">silicon stockpile</text>
<text x="134.36" y="28.25" transform="rotate(-90 134.36 28.25)">ashglass</text>
<text x="134.50" y="28.55" transform="rotate(-45 134.50 28.55)">container watch sector</text>
<text x="139.50" y="28.55" transform="rotate(-45 139.50 28.55)">igneo tetsuda</text>
<text x="140.50" y="26.55" transform="rotate(-45 140.50 26.55)">item key sector</text>
<text x="143.50" y="28.55" transform="rotate(-45 143.50 28.55)">world 1 foundries</text>
<text x="144.50" y="26.55" transform="rotate(-45 144.50 26.55)">railroad sector</text>
<text x="146.50" y="29.55" transform="rotate(-45 146.50 29.55)">induction spdwy</text>
<text x="150.50" y="26.55" transform="rotate(-45 150.50 26.55)">world 8 industries</text>
<text x="152.35" y="30.90" transform="rotate(45 152.35 30.90)">death mountain</text>
<text x="155.35" y="30.90" transform="rotate(45 155.35 30.90)">stoner plaza</text>
<text x="158.35" y="31.90" transform="rotate(45 158.35 31.90)">sands undersand plaza</text>
<text x="152.35" y="33.90" transform="rotate(45 152.35 33.90)">kita yamasaki</text>
<text x="153.35" y="36.90" transform="rotate(45 153.35 36.90)">yamasaki</text>
<text x="157.35" y="36.90" transform="rotate(45 157.35 36.90)">station sq</text>
<text x="161.35" y="36.90" transform="rotate(45 161.35 36.90)">rolling hills</text>
<text x="152.35" y="38.90" transform="rotate(45 152.35 38.90)">watership st</text>
<text x="152.35" y="41.90" transform="rotate(45 152.35 41.90)">contraption st</text>
<text x="156.35" y="41.90" transform="rotate(45 156.35 41.90)">storage storage</text>
<text x="160.35" y="41.90" transform="rotate(45 160.35 41.90)">centrifuge canal</text>
<text x="164.35" y="41.90" transform="rotate(45 164.35 41.90)">power st</text>
<text x="167.35" y="41.90" transform="rotate(45 167.35 41.90)">whistleblower st</text>
<text x="170.35" y="38.90" transform="rotate(45 170.35 38.90)">kurokiri</text>
<text x="170.35" y="41.90" transform="rotate(45 170.35 41.90)">tetsukiri</text>
<text x="172.75" y="45.30">mudcracker</text>
<text x="174.55" y="47.50" text-anchor="end" transform="rotate(-45 174.55 47.50)">deepcut sq</text>
<text x="176.55" y="49.50" text-anchor="end" transform="rotate(-45 176.55 49.50)">mason union</text>
<text x="180.35" y="52.90" transform="rotate(45 180.35 52.90)">death pkwy</text>
<text x="186.75" y="58.30">new cut bamboo sector</text>
<text x="187.25" y="60.30" text-anchor="end">oakland carvers</text>
<text x="190.75" y="57.30">wickerwax slope</text>
<text x="164.25" y="50.30" text-anchor="end">kojokei municipal building</text>
<text x="165.35" y="50.90" transform="rotate(45 165.35 50.90)">pirate manor</text>
<text x="168.25" y="47.80" text-anchor="end" transform="rotate(45 168.25 47.80)">DK central</text>
<text x="139.03" y="34.47">KOJOKEI</text>
<text x="131.75" y="31.30">brass hand warehouse</text>
<text x="129.75" y="33.30">whisk warehouse</text>
<text x="127.75" y="35.30">propeller warehouse</text>
<text x="127.75" y="38.30">casing district n20 ave</text>
<text x="127.75" y="40.30">casing district n15 ave</text>
<text x="127.75" y="44.30">casing district</text>
<text x="128.75" y="42.30">for west exchange</text>
<text x="128.75" y="43.30">via F line</text>
<text x="136.75" y="37.30">trackfield</text>
<text x="131.75" y="39.30">west trackfield</text>
<text x="135.25" y="45.30" text-anchor="end">bernoulli terminal</text>
<text x="132.25" y="48.30" text-anchor="end">titration sq</text>
<text x="127.75" y="47.30">tetrahedral slope</text>
<text x="123.25" y="47.30" text-anchor="end">shaftlynd</text>
<text x="121.75" y="50.30">coggod</text>
<text x="126.75" y="50.30">gravesand</text>
<text x="130.75" y="51.30">flow sq</text>
<text x="124.75" y="52.30">world 2 industries</text>
<text x="122.75" y="53.30">gravel warehouse</text>
<text x="126.55" y="54.50" text-anchor="end" transform="rotate(-45 126.55 54.50)">piper sq</text>
<text x="139.35" y="42.90" transform="rotate(45 139.35 42.90)">drop sq</text>
<text x="137.85" y="44.90" transform="rotate(45 137.85 44.90)">level city</text>
<text x="143.35" y="41.90" transform="rotate(45 143.35 41.90)">antiflood building</text>
<text x="144.85" y="43.40" transform="rotate(45 144.85 43.40)">firebox hills</text>
<text x="148.35" y="41.90" transform="rotate(45 148.35 41.90)">tensile sq</text>
<text x="141.35" y="36.90" transform="rotate(45 141.35 36.90)">east trackfield</text>
<text x="145.35" y="36.90" transform="rotate(45 145.35 36.90)">froggy chair</text>
<text x="149.35" y="36.90" transform="rotate(45 149.35 36.90)">steerway</text>
<text x="145.35" y="48.90" transform="rotate(45 145.35 48.90)">bessemer plaza</text>
<text x="132.35" y="54.90" transform="rotate(45 132.35 54.90)">gakuiedori market</text>
<text x="132.35" y="56.40" transform="rotate(45 132.35 56.40)">sifting sand lanai</text>
<text x="135.35" y="54.90" transform="rotate(45 135.35 54.90)">kinmelonpalmae</text>
<text x="138.35" y="54.90" transform="rotate(45 138.35 54.90)">midas gardens</text>
<text x="141.35" y="54.90" transform="rotate(45 141.35 54.90)">highball complex</text>
<text x="140.85" y="55.90" transform="rotate(45 140.85 55.90)">the drunken spot</text>
<text x="144.35" y="54.90" transform="rotate(45 144.35 54.90)">ydahs mls</text>
<text x="147.35" y="54.90" transform="rotate(45 147.35 54.90)">balloon factory</text>
<text x="150.35" y="54.90" transform="rotate(45 150.35 54.90)">totally ethical shop</text>
<text x="150.35" y="56.90" transform="rotate(45 150.35 56.90)">GIT athletic field</text>
<text x="154.35" y="54.90" transform="rotate(45 154.35 54.90)">mort valley</text>
<text x="158.35" y="54.90" transform="rotate(45 158.35 54.90)">threfort</text>
<text x="161.35" y="54.90" transform="rotate(45 161.35 54.90)">brewing stand farm</text>
<text x="164.35" y="55.90" transform="rotate(45 164.35 55.90)">GIT chemistry</text>
<text x="166.35" y="54.90" transform="rotate(45 166.35 54.90)">csmosis farms</text>
<text x="171.35" y="54.90" transform="rotate(45 171.35 54.90)">devilloe towers</text>
<text x="168.35" y="54.90" transform="rotate(45 168.35 54.90)">minami kagakushi</text>
<text x="175.35" y="54.90" transform="rotate(45 175.35 54.90)">sw man town</text>
<text x="179.35" y="56.90" transform="rotate(45 179.35 56.90)">big potion</text>
<text x="124.35" y="61.90" transform="rotate(45 124.35 61.90)">satomori</text>
<text x="128.35" y="62.90" transform="rotate(45 128.35 62.90)">shroom dome</text>
<text x="129.35" y="62.90" transform="rotate(45 129.35 62.90)">kōsōkumizu</text>
<text x="130.25" y="60.80" text-anchor="end" transform="rotate(45 130.25 60.80)">quarter pl</text>
<text x="133.25" y="60.80" text-anchor="end" transform="rotate(45 133.25 60.80)">arcade st</text>
<text x="136.25" y="60.80" text-anchor="end" transform="rotate(45 136.25 60.80)">sand land</text>
<text x="139.25" y="60.80" text-anchor="end" transform="rotate(45 139.25 60.80)">inpalmachi</text>
<text x="142.25" y="60.80" text-anchor="end" transform="rotate(45 142.25 60.80)">gardens</text>
<text x="145.25" y="60.80" text-anchor="end" transform="rotate(45 145.25 60.80)">admin st</text>
<text x="148.25" y="60.80" text-anchor="end" transform="rotate(45 148.25 60.80)">golden spider</text>
<text x="151.25" y="60.80" text-anchor="end" transform="rotate(45 151.25 60.80)">fisheries</text>
<text x="154.25" y="60.80" text-anchor="end" transform="rotate(45 154.25 60.80)">ethical shell harvester</text>
<text x="162.55" y="62.50" text-anchor="end" transform="rotate(-45 162.55 62.50)">GIT electrical engineering campus</text>
<text x="125.55" y="66.50" text-anchor="end" transform="rotate(-45 125.55 66.50)">kōgakusaka</text>
<text x="128.55" y="70.50" text-anchor="end" transform="rotate(-45 128.55 70.50)">galileo mountain</text>
<text x="130.55" y="72.50" text-anchor="end" transform="rotate(-45 130.55 72.50)">spade slopes</text>
<text x="133.55" y="75.50" text-anchor="end" transform="rotate(-45 133.55 75.50)">hatchet grounds</text>
<text x="136.55" y="78.50" text-anchor="end" transform="rotate(-45 136.55 78.50)">farmer's inc</text>
<text x="139.55" y="81.50" text-anchor="end" transform="rotate(-45 139.55 81.50)">miner's mound</text>
<text x="138.85" y="80.80" text-anchor="end" transform="rotate(-45 138.85 80.80)">south forest hills</text>
<text x="135.50" y="67.55" transform="rotate(-45 135.50 67.55)">podium palace</text>
<text x="139.50" y="67.55" transform="rotate(-45 139.50 67.55)">atlas complex</text>
<text x="144.50" y="67.55" transform="rotate(-45 144.50 67.55)">nō concourse north</text>
<text x="141.50" y="75.55" transform="rotate(-45 141.50 75.55)">hikaridori furnishing</text>
<text x="148.50" y="73.55" transform="rotate(-45 148.50 73.55)">nō papermill</text>
<text x="150.03" y="69.47">KOJOKEI</text>
<text x="155.50" y="67.55" transform="rotate(-45 155.50 67.55)">nō plaza</text>
<text x="159.75" y="72.30">nō concourse south</text>
<text x="164.75" y="66.30">hikaridori observatory</text>
<text x="164.75" y="70.30">kingaku pl</text>
<text x="164.75" y="75.30">GIT smith campus</text>
<text x="168.75" y="77.30">new gunfield library</text>
<text x="168.75" y="80.30">GIT prototype museum</text>
<text x="143.50" y="82.55" transform="rotate(-45 143.50 82.55)">bolt terminal</text>
<text x="146.50" y="82.55" transform="rotate(-45 146.50 82.55)">tetsuyama</text>
<text x="151.55" y="82.50" text-anchor="end" transform="rotate(-45 151.55 82.50)">tsuribashi battery</text>
<text x="155.50" y="81.55" transform="rotate(-45 155.50 81.55)">new tsuribashi battery</text>
<text x="162.75" y="83.30">new gunfield</text>
<text x="166.75" y="87.30">GIT physics campus</text>
<text x="174.75" y="62.30">nishi takou</text>
<text x="178.35" y="64.90" transform="rotate(45 178.35 64.90)">lantern cemetery</text>
<text x="174.25" y="65.30" text-anchor="end">sealight hills north</text>
<text x="172.25" y="67.30" text-anchor="end">sealight hills south</text>
<text x="173.75" y="71.30">bonfire hills</text>
<text x="173.75" y="76.30">kamimachi</text>
<text x="175.75" y="82.30">minami kamimachi</text>
<text x="174.75" y="86.30">world 7 industries depot</text>
<text x="120.86" y="71.75" transform="rotate(-90 120.86 71.75)">sim shady factories</text>
<text x="121.86" y="86.25" transform="rotate(-90 121.86 86.25)">CTMA culture labs</text>
<text x="124.75" y="81.30">spore zone 2</text>
<text x="126.55" y="83.50" text-anchor="end" transform="rotate(-45 126.55 83.50)">azalea fields</text>
<text x="129.55" y="85.50" text-anchor="end" transform="rotate(-45 129.55 85.50)">forest hills</text>
<text x="135.55" y="87.50" text-anchor="end" transform="rotate(-45 135.55 87.50)">kita hachimori</text>
<text x="147.50" y="85.55" transform="rotate(-45 147.50 85.55)">inkton</text>
<text x="122.55" y="91.50" text-anchor="end" transform="rotate(-45 122.55 91.50)">nishi toriyama</text>
<text x="126.55" y="91.50" text-anchor="end" transform="rotate(-45 126.55 91.50)">toriyama</text>
<text x="129.55" y="91.50" text-anchor="end" transform="rotate(-45 129.55 91.50)">hachimori</text>
<text x="133.55" y="89.50" text-anchor="end" transform="rotate(-45 133.55 89.50)">higashi hachimori</text>
<text x="139.55" y="92.50" text-anchor="end" transform="rotate(-45 139.55 92.50)">pumpkin hills nw</text>
<text x="142.55" y="91.50" text-anchor="end" transform="rotate(-45 142.55 91.50)">pumpkin hills n</text>
<text x="142.55" y="94.50" text-anchor="end" transform="rotate(-45 142.55 94.50)">melon valley</text>
<text x="146.55" y="94.50" text-anchor="end" transform="rotate(-45 146.55 94.50)">pumpkin hills e</text>
<text x="148.55" y="95.50" text-anchor="end" transform="rotate(-45 148.55 95.50)">grove st n</text>
<text x="140.35" y="87.90" transform="rotate(45 140.35 87.90)">platetra hashimori</text>
<text x="124.55" y="100.50" text-anchor="end" transform="rotate(-45 124.55 100.50)">culture towers</text>
<text x="143.55" y="101.50" text-anchor="end" transform="rotate(-45 143.55 101.50)">GIT geology campus</text>
<text x="146.05" y="101.00" text-anchor="end" transform="rotate(-45 146.05 101.00)">GIT botanical gardens</text>
<text x="138.03" y="109.47">MINAMINOJO</text>
<text x="127.50" y="113.55" transform="rotate(-45 127.50 113.55)">north restoration jungle</text>
<text x="123.50" y="115.55" transform="rotate(-45 123.50 115.55)">goodrider</text>
<text x="154.50" y="90.55" transform="rotate(-45 154.50 90.55)">kermit lake</text>
<text x="156.50" y="95.55" transform="rotate(-45 156.50 95.55)">straw mounds</text>
<text x="158.50" y="97.55" transform="rotate(-45 158.50 97.55)">nishi sakemori</text>
<text x="160.50" y="99.55" transform="rotate(-45 160.50 99.55)">sakemori</text>
<text x="162.50" y="101.55" transform="rotate(-45 162.50 101.55)">higashi sakemori</text>
<text x="164.50" y="103.55" transform="rotate(-45 164.50 103.55)">burbot fisheries n</text>
<text x="166.50" y="105.55" transform="rotate(-45 166.50 105.55)">burbot fisheries</text>
<text x="168.50" y="107.55" transform="rotate(-45 168.50 107.55)">burbot fisheries s</text>
<text x="170.50" y="109.55" transform="rotate(-45 170.50 109.55)">kita fugumizu</text>
<text x="172.50" y="111.55" transform="rotate(-45 172.50 111.55)">fugumizu</text>
<text x="174.50" y="113.55" transform="rotate(-45 174.50 113.55)">minami fugumizu</text>
<text x="176.50" y="115.55" transform="rotate(-45 176.50 115.55)">tansogawa</text>
<text x="178.50" y="117.55" transform="rotate(-45 178.50 117.55)">suizokukan</text>
<text x="160.75" y="90.30">hell inc building</text>
<text x="157.00" y="91.05" transform="rotate(-45 157.00 91.05)">GIT biology campus</text>
<text x="150.55" y="97.50" text-anchor="end" transform="rotate(-45 150.55 97.50)">grove st s</text>
<text x="152.55" y="99.50" text-anchor="end" transform="rotate(-45 152.55 99.50)">sugar banks</text>
<text x="154.55" y="101.50" text-anchor="end" transform="rotate(-45 154.55 101.50)">coke bridge</text>
<text x="156.55" y="103.50" text-anchor="end" transform="rotate(-45 156.55 103.50)">cane hill</text>
<text x="157.55" y="105.50" text-anchor="end" transform="rotate(-45 157.55 105.50)">bushwhack hills</text>
<text x="157.55" y="108.50" text-anchor="end" transform="rotate(-45 157.55 108.50)">woodland towers</text>
<text x="157.55" y="111.50" text-anchor="end" transform="rotate(-45 157.55 111.50)">spore zone 3</text>
<text x="157.55" y="114.50" text-anchor="end" transform="rotate(-45 157.55 114.50)">cookoo tower</text>
<text x="157.55" y="117.50" text-anchor="end" transform="rotate(-45 157.55 117.50)">drip tower</text>
<text x="156.35" y="99.90" transform="rotate(45 156.35 99.90)">kojogawa</text>
<text x="169.35" y="112.90" transform="rotate(45 169.35 112.90)">kojogawa</text>
<text x="172.25" y="94.30" text-anchor="end">GIT armory</text>
<text x="174.55" y="96.50" text-anchor="end" transform="rotate(-45 174.55 96.50)">tsuribashi complexes standard division</text>
<text x="177.75" y="98.30">tsuribashi complexes hdied division</text>
<text x="179.75" y="100.30">tsuribashi complexes au division</text>
<text x="174.35" y="88.90" transform="rotate(45 174.35 88.90)">nō complexes</text>
<text x="174.35" y="93.90" transform="rotate(45 174.35 93.90)">sky sanctuary</text>
<text x="175.03" y="104.47">KOJOKEI</text>
<text x="193.75" y="61.30">wickerwax base</text>
<text x="189.75" y="62.30">oakland shade</text>
<text x="189.75" y="65.30">evergreen city</text>
<text x="192.75" y="68.30">whitewood industries</text>
<text x="193.75" y="71.30">hotwood carving</text>
<text x="193.75" y="74.30">wetwood carving</text>
<text x="193.75" y="77.30">livewood carving</text>
<text x="193.75" y="80.30">sunrise carving</text>
<text x="193.75" y="84.30">hotlands</text>
<text x="193.75" y="87.30">industry city</text>
<text x="193.75" y="90.30">nishi tomemachi</text>
<text x="195.75" y="92.30">tomemachi</text>
<text x="198.75" y="93.30">higashi tomemachi</text>
<text x="200.75" y="95.30">darkglass</text>
<text x="200.75" y="98.30">kita iromachi</text>
<text x="200.75" y="101.30">iromachi</text>
<text x="200.75" y="104.30">minami iromachi</text>
<text x="200.75" y="107.30">church ave n</text>
<text x="200.75" y="110.30">church ave s</text>
<text x="200.75" y="113.30">kuramori</text>
<text x="200.75" y="117.30">jale</text>
<text x="200.75" y="121.30">north glasslow</text>
<text x="200.75" y="124.30">south glasslow</text>
<text x="200.75" y="127.30">slider slopes</text>
<text x="200.75" y="130.30">makermetal</text>
<text x="200.75" y="133.30">redtetra sector</text>
<text x="201.75" y="137.30">mimic heights</text>
<text x="181.35" y="64.90" transform="rotate(45 181.35 64.90)">senkomori</text>
<text x="184.35" y="64.90" transform="rotate(45 184.35 64.90)">great pumpkin hill</text>
<text x="187.35" y="64.90" transform="rotate(45 187.35 64.90)">elm st</text>
<text x="185.03" y="74.47">KOJOKEI</text>
<text x="181.75" y="102.30">tsuribashi complexes medical division</text>
<text x="183.75" y="104.30">tsuribashi complexes sr division</text>
<text x="179.50" y="116.55" transform="rotate(-45 179.50 116.55)">suizokukan</text>
<text x="180.50" y="118.55" transform="rotate(-45 180.50 118.55)">tansuizokukan kakuchou</text>
<text x="181.75" y="126.30">S via M for Radio City, via O1 for Grand Junction, via PM for High Moon Junction</text>
<text x="188.75" y="127.30">kojokei library dock</text>
<text x="194.75" y="134.30">mirai kaigan public library west branch</text>
<text x="196.75" y="135.30">mirai kaigan public library</text>
<text x="185.75" y="131.30">morita</text>
<text x="187.25" y="134.30" text-anchor="end">kirokuyama</text>
<text x="190.75" y="136.30">mirai kaigan public library south branch</text>
<text x="192.75" y="138.30">mirai kaigan public library bridge</text>
<text x="194.25" y="141.30" text-anchor="end">kirokuta</text>
<text x="199.75" y="141.30">kita kirokumachi</text>
<text x="203.75" y="144.30">kirokumachi</text>
<text x="206.75" y="147.30">minami kirokumachi</text>
<text x="209.75" y="150.30">yamata</text>
<text x="211.75" y="152.30">tachimizu</text>
<text x="213.75" y="154.30">danmizu</text>
<text x="215.75" y="156.30">kitaitouge</text>
<text x="216.25" y="158.30" text-anchor="end">uchūtaki spaceport</text>
<text x="218.25" y="160.30" text-anchor="end">uchūtaki airport t1</text>
<text x="218.25" y="162.30" text-anchor="end">uchūtaki airport t2</text>
<text x="218.25" y="164.30" text-anchor="end">uchūtaki airport t3</text>
<text x="218.25" y="166.30" text-anchor="end">uchūtaki airport t4</text>
<text x="218.25" y="168.30" text-anchor="end">uchūtaki airport t5</text>
<text x="179.03" y="120.47">MINAMINOJO</text>
<text x="64.35" y="143.90" transform="rotate(45 64.35 143.90)">guncore 4</text>
<text x="64.35" y="145.90" transform="rotate(45 64.35 145.90)">guncore 8</text>
<text x="64.35" y="147.90" transform="rotate(45 64.35 147.90)">guncore 12</text>
<text x="64.35" y="149.90" transform="rotate(45 64.35 149.90)">guncore 16</text>
<text x="64.35" y="151.90" transform="rotate(45 64.35 151.90)">guncore 18</text>
<text x="64.35" y="153.90" transform="rotate(45 64.35 153.90)">guncore 21</text>
<text x="64.35" y="155.90" transform="rotate(45 64.35 155.90)">guncore 23</text>
<text x="64.35" y="157.90" transform="rotate(45 64.35 157.90)">guncore 26</text>
<text x="64.35" y="159.90" transform="rotate(45 64.35 159.90)">guncore 29</text>
<text x="64.35" y="161.90" transform="rotate(45 64.35 161.90)">guncore 34</text>
<text x="64.35" y="163.90" transform="rotate(45 64.35 163.90)">guncore 38</text>
<text x="64.35" y="165.90" transform="rotate(45 64.35 165.90)">guncore 42</text>
<text x="64.35" y="167.90" transform="rotate(45 64.35 167.90)">guncore 45</text>
<text x="64.35" y="169.90" transform="rotate(45 64.35 169.90)">guncore 50</text>
<text x="64.35" y="171.90" transform="rotate(45 64.35 171.90)">guncore 52</text>
<text x="64.35" y="173.90" transform="rotate(45 64.35 173.90)">guncore 56</text>
<text x="72.35" y="143.90" transform="rotate(45 72.35 143.90)">telecom 4</text>
<text x="72.35" y="145.90" transform="rotate(45 72.35 145.90)">telecom 8</text>
<text x="72.35" y="147.90" transform="rotate(45 72.35 147.90)">telecom 12</text>
<text x="72.35" y="149.90" transform="rotate(45 72.35 149.90)">telecom 16</text>
<text x="72.35" y="151.90" transform="rotate(45 72.35 151.90)">telecom 18</text>
<text x="72.35" y="153.90" transform="rotate(45 72.35 153.90)">telecom 21</text>
<text x="72.35" y="155.90" transform="rotate(45 72.35 155.90)">telecom 23</text>
<text x="72.35" y="157.90" transform="rotate(45 72.35 157.90)">telecom 26</text>
<text x="72.35" y="159.90" transform="rotate(45 72.35 159.90)">telecom 29</text>
<text x="72.35" y="161.90" transform="rotate(45 72.35 161.90)">telecom 34</text>
<text x="72.35" y="163.90" transform="rotate(45 72.35 163.90)">telecom 38</text>
<text x="72.35" y="165.90" transform="rotate(45 72.35 165.90)">telecom 42</text>
<text x="72.35" y="167.90" transform="rotate(45 72.35 167.90)">telecom 45</text>
<text x="72.35" y="169.90" transform="rotate(45 72.35 169.90)">telecom 50</text>
<text x="72.35" y="171.90" transform="rotate(45 72.35 171.90)">telecom 52</text>
<text x="72.35" y="173.90" transform="rotate(45 72.35 173.90)">telecom 56</text>
<text x="79.35" y="143.90" transform="rotate(45 79.35 143.90)">n 32- 4</text>
<text x="79.35" y="145.90" transform="rotate(45 79.35 145.90)">n 32- 8</text>
<text x="79.35" y="147.90" transform="rotate(45 79.35 147.90)">n 32- 12</text>
<text x="79.35" y="149.90" transform="rotate(45 79.35 149.90)">n 32- 16</text>
<text x="79.35" y="151.90" transform="rotate(45 79.35 151.90)">n 32- 18</text>
<text x="79.35" y="153.90" transform="rotate(45 79.35 153.90)">n 32- 21</text>
<text x="79.35" y="155.90" transform="rotate(45 79.35 155.90)">n 32- 23</text>
<text x="79.35" y="157.90" transform="rotate(45 79.35 157.90)">n 32- 26</text>
<text x="79.35" y="159.90" transform="rotate(45 79.35 159.90)">n 32- 29</text>
<text x="79.35" y="161.90" transform="rotate(45 79.35 161.90)">n 32- 34</text>
<text x="79.35" y="163.90" transform="rotate(45 79.35 163.90)">n 32- 38</text>
<text x="79.35" y="165.90" transform="rotate(45 79.35 165.90)">n 32- 42</text>
<text x="79.35" y="167.90" transform="rotate(45 79.35 167.90)">n 32- 45</text>
<text x="79.35" y="169.90" transform="rotate(45 79.35 169.90)">n 32- 50</text>
<text x="79.35" y="171.90" transform="rotate(45 79.35 171.90)">n 32- 52</text>
<text x="79.35" y="173.90" transform="rotate(45 79.35 173.90)">nojodori 32-56</text>
<text x="83.35" y="145.90" transform="rotate(45 83.35 145.90)">n 23- 8</text>
<text x="83.35" y="147.90" transform="rotate(45 83.35 147.90)">n 23- 12</text>
<text x="83.35" y="149.90" transform="rotate(45 83.35 149.90)">n 23- 16</text>
<text x="83.35" y="151.90" transform="rotate(45 83.35 151.90)">n 23- 18</text>
<text x="83.35" y="153.90" transform="rotate(45 83.35 153.90)">n 23- 21</text>
<text x="83.35" y="155.90" transform="rotate(45 83.35 155.90)">n 23- 23</text>
<text x="83.35" y="157.90" transform="rotate(45 83.35 157.90)">n 23- 26</text>
<text x="83.35" y="159.90" transform="rotate(45 83.35 159.90)">n 23- 29</text>
<text x="83.35" y="161.90" transform="rotate(45 83.35 161.90)">n 23- 34</text>
<text x="83.35" y="163.90" transform="rotate(45 83.35 163.90)">n 23- 38</text>
<text x="83.35" y="165.90" transform="rotate(45 83.35 165.90)">n 23- 42</text>
<text x="83.35" y="167.90" transform="rotate(45 83.35 167.90)">n 23- 45</text>
<text x="83.35" y="169.90" transform="rotate(45 83.35 169.90)">n 23- 50</text>
<text x="83.35" y="171.90" transform="rotate(45 83.35 171.90)">n 23- 52</text>
<text x="83.35" y="173.90" transform="rotate(45 83.35 173.90)">nojodori 23-56</text>
<text x="87.35" y="143.90" transform="rotate(45 87.35 143.90)">n 16- 4</text>
<text x="87.35" y="145.90" transform="rotate(45 87.35 145.90)">n 16- 8</text>
<text x="87.35" y="147.90" transform="rotate(45 87.35 147.90)">n 16- 12</text>
<text x="87.35" y="149.90" transform="rotate(45 87.35 149.90)">n 16- 16</text>
<text x="87.35" y="151.90" transform="rotate(45 87.35 151.90)">n 16- 18</text>
<text x="87.35" y="153.90" transform="rotate(45 87.35 153.90)">n 16- 21</text>
<text x="87.35" y="155.90" transform="rotate(45 87.35 155.90)">n 16- 23</text>
<text x="87.35" y="157.90" transform="rotate(45 87.35 157.90)">n 16- 26</text>
<text x="87.35" y="159.90" transform="rotate(45 87.35 159.90)">n 16- 29</text>
<text x="87.35" y="161.90" transform="rotate(45 87.35 161.90)">n 16- 34</text>
<text x="87.35" y="163.90" transform="rotate(45 87.35 163.90)">n 16- 38</text>
<text x="87.35" y="165.90" transform="rotate(45 87.35 165.90)">n 16- 42</text>
<text x="87.35" y="167.90" transform="rotate(45 87.35 167.90)">n 16- 45</text>
<text x="87.35" y="169.90" transform="rotate(45 87.35 169.90)">n 16- 50</text>
<text x="87.35" y="171.90" transform="rotate(45 87.35 171.90)">n 16- 52</text>
<text x="87.35" y="173.90" transform="rotate(45 87.35 173.90)">nojodori 16-56</text>
<text x="92.35" y="145.90" transform="rotate(45 92.35 145.90)">h.d. 8</text>
<text x="92.35" y="147.90" transform="rotate(45 92.35 147.90)">h.d. 12</text>
<text x="92.35" y="149.90" transform="rotate(45 92.35 149.90)">h.d. 16</text>
<text x="92.35" y="151.90" transform="rotate(45 92.35 151.90)">h.d. 18</text>
<text x="92.35" y="153.90" transform="rotate(45 92.35 153.90)">h.d. 21</text>
<text x="92.35" y="155.90" transform="rotate(45 92.35 155.90)">h.d. 23</text>
<text x="92.35" y="157.90" transform="rotate(45 92.35 157.90)">h.d. 26</text>
<text x="92.35" y="159.90" transform="rotate(45 92.35 159.90)">h.d. 29</text>
<text x="92.35" y="161.90" transform="rotate(45 92.35 161.90)">h.d. 34</text>
<text x="92.35" y="163.90" transform="rotate(45 92.35 163.90)">h.d. 38</text>
<text x="92.35" y="165.90" transform="rotate(45 92.35 165.90)">h.d. 42</text>
<text x="92.35" y="167.90" transform="rotate(45 92.35 167.90)">h.d. 45</text>
<text x="92.35" y="169.90" transform="rotate(45 92.35 169.90)">h.d. 50</text>
<text x="92.35" y="171.90" transform="rotate(45 92.35 171.90)">h.d. 52</text>
<text x="92.35" y="173.90" transform="rotate(45 92.35 173.90)">hokandori 56</text>
<text x="83.25" y="143.30" text-anchor="end">n 20-4</text>
<text x="96.35" y="173.90" transform="rotate(45 96.35 173.90)">pier 98</text>
<text x="96.75" y="137.30">pier 42</text>
<text x="57.35" y="143.90" transform="rotate(45 57.35 143.90)">contour 4</text>
<text x="57.35" y="145.90" transform="rotate(45 57.35 145.90)">contour 8</text>
<text x="57.35" y="147.90" transform="rotate(45 57.35 147.90)">contour 12</text>
<text x="57.35" y="149.90" transform="rotate(45 57.35 149.90)">contour 16</text>
<text x="57.35" y="151.90" transform="rotate(45 57.35 151.90)">contour 18</text>
<text x="57.35" y="153.90" transform="rotate(45 57.35 153.90)">contour 21</text>
<text x="57.35" y="155.90" transform="rotate(45 57.35 155.90)">contour 23</text>
<text x="57.35" y="157.90" transform="rotate(45 57.35 157.90)">contour 26</text>
<text x="57.35" y="159.90" transform="rotate(45 57.35 159.90)">contour 29</text>
<text x="57.35" y="161.90" transform="rotate(45 57.35 161.90)">contour 34</text>
<text x="57.35" y="163.90" transform="rotate(45 57.35 163.90)">contour 38</text>
<text x="57.35" y="165.90" transform="rotate(45 57.35 165.90)">contour 42</text>
<text x="57.35" y="167.90" transform="rotate(45 57.35 167.90)">contour 45</text>
<text x="57.35" y="169.90" transform="rotate(45 57.35 169.90)">contour 50</text>
<text x="57.35" y="171.90" transform="rotate(45 57.35 171.90)">contour 52</text>
<text x="57.35" y="173.90" transform="rotate(45 57.35 173.90)">contour 56</text>
<text x="51.35" y="143.90" transform="rotate(45 51.35 143.90)">kūdori 4</text>
<text x="51.35" y="145.90" transform="rotate(45 51.35 145.90)">kūdori 8</text>
<text x="51.35" y="147.90" transform="rotate(45 51.35 147.90)">kūdori 12</text>
<text x="51.35" y="149.90" transform="rotate(45 51.35 149.90)">kūdori 16</text>
<text x="51.35" y="151.90" transform="rotate(45 51.35 151.90)">kūdori 18</text>
<text x="51.35" y="153.90" transform="rotate(45 51.35 153.90)">kūdori 21</text>
<text x="51.35" y="155.90" transform="rotate(45 51.35 155.90)">kūdori 23</text>
<text x="51.35" y="157.90" transform="rotate(45 51.35 157.90)">kūdori 26</text>
<text x="51.35" y="159.90" transform="rotate(45 51.35 159.90)">kūdori 29</text>
<text x="51.35" y="161.90" transform="rotate(45 51.35 161.90)">kūdori 34</text>
<text x="51.35" y="163.90" transform="rotate(45 51.35 163.90)">kūdori 38</text>
<text x="51.35" y="165.90" transform="rotate(45 51.35 165.90)">kūdori 42</text>
<text x="51.35" y="167.90" transform="rotate(45 51.35 167.90)">kūdori 45</text>
<text x="51.35" y="169.90" transform="rotate(45 51.35 169.90)">kūdori 50</text>
<text x="51.35" y="171.90" transform="rotate(45 51.35 171.90)">kūdori 52</text>
<text x="51.35" y="173.90" transform="rotate(45 51.35 173.90)">kūdori 56</text>
<text x="45.35" y="143.90" transform="rotate(45 45.35 143.90)">kōshidori 4</text>
<text x="45.35" y="145.90" transform="rotate(45 45.35 145.90)">kōshidori 8</text>
<text x="45.35" y="147.90" transform="rotate(45 45.35 147.90)">kōshidori 12</text>
<text x="45.35" y="149.90" transform="rotate(45 45.35 149.90)">kōshidori 16</text>
<text x="45.35" y="151.90" transform="rotate(45 45.35 151.90)">kōshidori 18</text>
<text x="45.35" y="153.90" transform="rotate(45 45.35 153.90)">kōshidori 21</text>
<text x="45.35" y="155.90" transform="rotate(45 45.35 155.90)">kōshidori 23</text>
<text x="45.35" y="157.90" transform="rotate(45 45.35 157.90)">kōshidori 26</text>
<text x="45.35" y="159.90" transform="rotate(45 45.35 159.90)">kōshidori 29</text>
<text x="45.35" y="161.90" transform="rotate(45 45.35 161.90)">kōshidori 34</text>
<text x="45.35" y="163.90" transform="rotate(45 45.35 163.90)">kōshidori 38</text>
<text x="45.35" y="165.90" transform="rotate(45 45.35 165.90)">kōshidori 42</text>
<text x="45.35" y="167.90" transform="rotate(45 45.35 167.90)">kōshidori 45</text>
<text x="45.35" y="169.90" transform="rotate(45 45.35 169.90)">kōshidori 50</text>
<text x="45.35" y="171.90" transform="rotate(45 45.35 171.90)">kōshidori 52</text>
<text x="45.35" y="173.90" transform="rotate(45 45.35 173.90)">kōshidori 56</text>
<text x="37.35" y="155.90" transform="rotate(45 37.35 155.90)">d 23</text>
<text x="37.35" y="157.90" transform="rotate(45 37.35 157.90)">d 26</text>
<text x="37.35" y="159.90" transform="rotate(45 37.35 159.90)">d 29</text>
<text x="37.35" y="161.90" transform="rotate(45 37.35 161.90)">d 34</text>
<text x="37.35" y="163.90" transform="rotate(45 37.35 163.90)">d 38</text>
<text x="37.35" y="165.90" transform="rotate(45 37.35 165.90)">d 42</text>
<text x="37.35" y="167.90" transform="rotate(45 37.35 167.90)">d 45</text>
<text x="37.35" y="169.90" transform="rotate(45 37.35 169.90)">d 50</text>
<text x="37.35" y="171.90" transform="rotate(45 37.35 171.90)">d 52</text>
<text x="37.35" y="173.90" transform="rotate(45 37.35 173.90)">dendori 56</text>
<text x="44.35" y="147.90" transform="rotate(45 44.35 147.90)">d 16</text>
<text x="42.35" y="149.90" transform="rotate(45 42.35 149.90)">d 18</text>
<text x="40.35" y="151.90" transform="rotate(45 40.35 151.90)">d 21</text>
<text x="42.35" y="143.90" transform="rotate(45 42.35 143.90)">d 4</text>
<text x="40.35" y="145.90" transform="rotate(45 40.35 145.90)">d 8</text>
<text x="38.35" y="147.90" transform="rotate(45 38.35 147.90)">d 12</text>
<text x="36.35" y="149.90" transform="rotate(45 36.35 149.90)">r 16</text>
<text x="34.35" y="151.90" transform="rotate(45 34.35 151.90)">r 18</text>
<text x="32.35" y="153.90" transform="rotate(45 32.35 153.90)">r 21</text>
<text x="30.35" y="155.90" transform="rotate(45 30.35 155.90)">r 9-23</text>
<text x="28.35" y="157.90" transform="rotate(45 28.35 157.90)">r 11-26</text>
<text x="26.35" y="159.90" transform="rotate(45 26.35 159.90)">r 14-29</text>
<text x="34.35" y="157.90" transform="rotate(45 34.35 157.90)">r 26</text>
<text x="32.35" y="159.90" transform="rotate(45 32.35 159.90)">r 29</text>
<text x="25.35" y="161.90" transform="rotate(45 25.35 161.90)">r 16-34</text>
<text x="31.35" y="161.90" transform="rotate(45 31.35 161.90)">r 1-34</text>
<text x="25.35" y="163.90" transform="rotate(45 25.35 163.90)">r 16-38</text>
<text x="31.35" y="163.90" transform="rotate(45 31.35 163.90)">r 1-38</text>
<text x="25.35" y="165.90" transform="rotate(45 25.35 165.90)">r 16-42</text>
<text x="31.35" y="165.90" transform="rotate(45 31.35 165.90)">r 1-42</text>
<text x="25.35" y="167.90" transform="rotate(45 25.35 167.90)">r 16-45</text>
<text x="31.35" y="167.90" transform="rotate(45 31.35 167.90)">r 1-45</text>
<text x="31.35" y="169.90" transform="rotate(45 31.35 169.90)">r 1-50</text>
<text x="31.35" y="171.90" transform="rotate(45 31.35 171.90)">r 1-52</text>
<text x="31.35" y="173.90" transform="rotate(45 31.35 173.90)">ronridori 1-56</text>
<text x="24.35" y="171.90" transform="rotate(45 24.35 171.90)">r 16-50</text>
<text x="23.35" y="173.90" transform="rotate(45 23.35 173.90)">ronridori 20-56</text>
<text x="11.35" y="173.90" transform="rotate(45 11.35 173.90)">power 56</text>
<text x="42.25" y="123.30" text-anchor="end">rokuhōkō depot</text>
<text x="49.25" y="134.30" text-anchor="end">tansomachi industrial library</text>
<text x="89.75" y="98.30">TANSOMACHI</text>
<text x="96.50" y="95.55" transform="rotate(-45 96.50 95.55)">NU humanities campus</text>
<text x="103.55" y="86.50" text-anchor="end" transform="rotate(-45 103.55 86.50)">new fertile crescent central</text>
<text x="108.55" y="88.50" text-anchor="end" transform="rotate(-45 108.55 88.50)">yoshi's wooly complexes</text>
<text x="106.55" y="87.50" text-anchor="end" transform="rotate(-45 106.55 87.50)">new fertile crescent se</text>
<text x="103.50" y="95.55" transform="rotate(-45 103.50 95.55)">west culture towers</text>
<text x="94.53" y="88.97">MINAMINOJO</text>
<text x="112.03" y="98.97">UNION SQUARE</text>
<text x="113.55" y="89.50" text-anchor="end" transform="rotate(-45 113.55 89.50)">kaibi hills</text>
<text x="116.55" y="89.50" text-anchor="end" transform="rotate(-45 116.55 89.50)">higashi kaibi</text>
<text x="118.55" y="91.50" text-anchor="end" transform="rotate(-45 118.55 91.50)">west porky heights</text>
<text x="121.55" y="92.50" text-anchor="end" transform="rotate(-45 121.55 92.50)">porky heights</text>
<text x="114.25" y="106.30" text-anchor="end">channel a</text>
<text x="114.25" y="110.30" text-anchor="end">channel b</text>
<text x="117.25" y="111.30" text-anchor="end">grand mechanism 9</text>
<text x="111.25" y="113.30" text-anchor="end">channel c</text>
<text x="108.25" y="116.30" text-anchor="end">channel d</text>
<text x="104.25" y="120.30" text-anchor="end">channel e</text>
<text x="100.25" y="124.30" text-anchor="end">channel f</text>
<text x="99.25" y="128.30" text-anchor="end">channel g</text>
<text x="102.75" y="132.30">channel h</text>
<text x="99.25" y="136.30" text-anchor="end">channel i</text>
<text x="100.25" y="140.30" text-anchor="end">channel j</text>
<text x="101.25" y="143.30" text-anchor="end">channel k</text>
<text x="105.25" y="147.30" text-anchor="end">resonance college</text>
<text x="107.25" y="149.30" text-anchor="end">onsoku library</text>
<text x="112.25" y="150.30" text-anchor="end">RC audio engineering campus</text>
<text x="93.75" y="123.30">ugokimachi</text>
<text x="106.25" y="131.30" text-anchor="end">west savior vault</text>
<text x="105.25" y="133.30" text-anchor="end">noob tower</text>
<text x="106.25" y="135.30" text-anchor="end">compost tower</text>
<text x="106.50" y="137.55" transform="rotate(-45 106.50 137.55)">bioatone sector</text>
<text x="108.50" y="137.55" transform="rotate(-45 108.50 137.55)">podzol valley</text>
<text x="110.50" y="139.55" transform="rotate(-45 110.50 139.55)">Botanical</text>
<text x="113.50" y="139.55" transform="rotate(-45 113.50 139.55)">vineyard</text>
<text x="115.35" y="142.90" transform="rotate(45 115.35 142.90)">venus tower</text>
<text x="110.50" y="134.55" transform="rotate(-45 110.50 134.55)">spruce tower</text>
<text x="113.50" y="135.55" transform="rotate(-45 113.50 135.55)">nietzche tower</text>
<text x="115.50" y="136.55" transform="rotate(-45 115.50 136.55)">lichen tower</text>
<text x="112.00" y="135.55" transform="rotate(-45 112.00 135.55)">municipal building</text>
<text x="115.00" y="137.05" transform="rotate(-45 115.00 137.05)">tower city</text>
<text x="117.00" y="137.55" transform="rotate(-45 117.00 137.55)">trainyard</text>
<text x="110.50" y="130.55" transform="rotate(-45 110.50 130.55)">restoration fort talltale</text>
<text x="113.50" y="130.55" transform="rotate(-45 113.50 130.55)">cedar tower</text>
<text x="116.50" y="130.55" transform="rotate(-45 116.50 130.55)">island tower</text>
<text x="116.75" y="129.30">angel island zone 2</text>
<text x="112.50" y="120.55" transform="rotate(-45 112.50 120.55)">angel island zone 4</text>
<text x="112.50" y="124.55" transform="rotate(-45 112.50 124.55)">restoration library zone 3</text>
<text x="116.50" y="124.55" transform="rotate(-45 116.50 124.55)">restoration library zone 1</text>
<text x="103.35" y="120.90" transform="rotate(45 103.35 120.90)">gay baby jail</text>
<text x="106.55" y="142.50" text-anchor="end" transform="rotate(-45 106.55 142.50)">restoration county</text>
<text x="70.50" y="105.55" transform="rotate(-45 70.50 105.55)">co-op city docks</text>
<text x="71.25" y="107.30" text-anchor="end">tansomachi docks</text>
<text x="76.35" y="107.90" transform="rotate(45 76.35 107.90)">haiyama</text>
<text x="79.75" y="107.30">hi. haiyama</text>
<text x="89.75" y="107.30">tansomachi central docks</text>
<text x="90.75" y="114.30">michimachi test loop ne</text>
<text x="122.03" y="125.87">RESTORATION COUNTY</text>
<text x="119.80" y="124.35" transform="rotate(-45 119.80 124.35)">ANGEL ISLAND ZONE 1</text>
<text x="122.50" y="123.55" transform="rotate(-45 122.50 123.55)">pacifist valley</text>
<text x="125.50" y="123.55" transform="rotate(-45 125.50 123.55)">bee tower</text>
<text x="128.50" y="123.55" transform="rotate(-45 128.50 123.55)">restoration sq</text>
<text x="131.50" y="123.55" transform="rotate(-45 131.50 123.55)">north savior vault</text>
<text x="134.75" y="126.30">arc lake</text>
<text x="137.75" y="127.30">reserve base</text>
<text x="136.50" y="122.55" transform="rotate(-45 136.50 122.55)">arc mountain</text>
<text x="140.50" y="122.55" transform="rotate(-45 140.50 122.55)">restoration pass</text>
<text x="145.50" y="122.55" transform="rotate(-45 145.50 122.55)">new enumclaw</text>
<text x="149.55" y="123.50" text-anchor="end" transform="rotate(-45 149.55 123.50)">thing breeder west</text>
<text x="152.55" y="123.50" text-anchor="end" transform="rotate(-45 152.55 123.50)">thing breeder</text>
<text x="139.25" y="128.30" text-anchor="end">checkpoint</text>
<text x="140.75" y="131.30">east savior vault</text>
<text x="138.25" y="134.30" text-anchor="end">pumpkin towers</text>
<text x="133.25" y="136.30" text-anchor="end">defense munitions tower</text>
<text x="137.75" y="136.30">able tower</text>
<text x="132.25" y="138.30" text-anchor="end">south savior vault</text>
<text x="132.75" y="140.30">kelp towers</text>
<text x="122.75" y="140.30">industrial sea</text>
<text x="119.75" y="139.30">zooid rome tower</text>
<text x="119.75" y="137.30">little reefland west</text>
<text x="120.75" y="130.30">silk tower</text>
<text x="121.35" y="142.90" transform="rotate(45 121.35 142.90)">zooid rome</text>
<text x="125.35" y="142.90" transform="rotate(45 125.35 142.90)">artificial barrier reef</text>
<text x="129.35" y="142.90" transform="rotate(45 129.35 142.90)">kelpline miami</text>
<text x="134.35" y="142.90" transform="rotate(45 134.35 142.90)">bad time tower</text>
<text x="137.35" y="142.90" transform="rotate(45 137.35 142.90)">c a c t u s</text>
<text x="139.35" y="142.90" transform="rotate(45 139.35 142.90)">bamboo fields south</text>
<text x="141.35" y="140.90" transform="rotate(45 141.35 140.90)">bamboo fields central</text>
<text x="141.35" y="137.90" transform="rotate(45 141.35 137.90)">bamboo fields north</text>
<text x="142.35" y="135.90" transform="rotate(45 142.35 135.90)">melon towers</text>
<text x="144.35" y="133.90" transform="rotate(45 144.35 133.90)">spore zone 5</text>
<text x="146.35" y="133.90" transform="rotate(45 146.35 133.90)">westend mushroom meadows</text>
<text x="148.35" y="133.90" transform="rotate(45 148.35 133.90)">mooshroom highway</text>
<text x="150.35" y="133.90" transform="rotate(45 150.35 133.90)">nishi shin kinokomachi</text>
<text x="152.35" y="133.90" transform="rotate(45 152.35 133.90)">shin kinokomachi</text>
<text x="154.35" y="132.90" transform="rotate(45 154.35 132.90)">higashi shin kinokomachi</text>
<text x="156.35" y="130.90" transform="rotate(45 156.35 130.90)">shroom ridge</text>
<text x="158.35" y="129.90" transform="rotate(45 158.35 129.90)">nylium containment zone</text>
<text x="157.55" y="126.50" text-anchor="end" transform="rotate(-45 157.55 126.50)">viva la mycelium plaza</text>
<text x="157.55" y="123.50" text-anchor="end" transform="rotate(-45 157.55 123.50)">spore zone 4</text>
<text x="157.55" y="129.50" text-anchor="end" transform="rotate(-45 157.55 129.50)">traité square</text>
<text x="162.50" y="122.55" transform="rotate(-45 162.50 122.55)">nekomachi</text>
<text x="166.50" y="124.55" transform="rotate(-45 166.50 124.55)">shepherd hills</text>
<text x="170.35" y="127.90" transform="rotate(45 170.35 127.90)">chungus pass</text>
<text x="174.35" y="128.90" transform="rotate(45 174.35 128.90)">great chungus mountain</text>
<text x="177.35" y="127.90" transform="rotate(45 177.35 127.90)">foxtrot valley</text>
<text x="178.25" y="125.30" text-anchor="end">foxtrot hills</text>
<text x="7.75" y="181.30"><tspan font-weight="normal">緑石市</tspan> (Midoriishi City) Metropolitan Area Rail Map</text>
<text x="35.75" y="181.30">Tansomachi Municipal Building located at Tansomachi Station, Nishinojo Municipal Building located at West Exchange, Headline Sector Municipal Building located in Radio City</text>
<text x="3.75" y="185.30">Alchemy Line (Grand Junction - Sticker Sector) [A]</text>
<text x="3.75" y="187.30">Kinetic Line (Refined Heights - Kinetic Loop) [K]</text>
<text x="3.75" y="189.30">Redstone Line 1 (RFC1 - Sticker Sector and Redstone Loop) [RS1]</text>
<text x="3.75" y="191.30">Redstone Line 2 (RFC2 - Sticker Sector) [RS2]</text>
<text x="3.75" y="193.30">Redstone Line 3 (RFC3 - Sticker Sector) [RS3]</text>
<text x="3.75" y="195.30">Redstone Line 4 (Sim Shady Factories - Sticker Sector) [RS4]</text>
<text x="39.75" y="185.30">Nojo Teki Line 1 (Grand Junction - Westend Wither Killer) [NT1]</text>
<text x="39.75" y="187.30">Nojo Teki Line 2 (Grand Junction -</text>
<text x="39.75" y="189.30">Nojo Teki Line 3 (Grand Junction -</text>
<text x="39.75" y="191.30">Nojo Teki Line 4 (Grand Junction -</text>
<text x="39.75" y="193.30">Nojo Teki LIne 5 (Grand Junction -</text>
<text x="39.75" y="195.30">Nojo Teki Line 6 (Grand Junction -</text>
<text x="74.75" y="185.30">Nojo Shokubutsu Line (Grand Junction - Biostone Sector) [NS]</text>
<text x="74.75" y="187.30">Nojo Dobutsu LIne (Grand Junction - Angel Island Zone 4) [ND]</text>
<text x="74.75" y="189.30">Nishinojo Main Line (Grand Junction - Nishinojo Riverside Loop) [N]</text>
<text x="74.75" y="191.30">Kita Nishinojo-Redstone LIne (Fortcity Kaon - West Exchange) [NK]</text>
<text x="74.75" y="193.30">Chuō Nishinojo-Redstone Line (Midtrade Fortcity - North Gate Plaza) [NC]</text>
<text x="74.75" y="195.30">Minami Nishinojo-Redstone Line (Westend Fortcity - North Gate Plaza) [NM]</text>
<text x="116.75" y="185.30">Freemason Line (Fortcity Shroom Beach - Mimic Heights) [F]</text>
<text x="116.75" y="187.30">Freemason Riverside Branch (Fortcity Air. - Mimic Heights) [FR]</text>
<text x="116.75" y="189.30">Railroad Line (West Exchange - IRR8) [RR]</text>
<text x="116.75" y="191.30">Ekitai Line (Grand Junction - Whistleblower St) [E]</text>
<text x="116.75" y="193.30">Reefland Monorail (Sea Pickle Beach - Babylon Banks) [RM]</text>
<text x="116.75" y="195.30">Kitanūmachi Monorail (Reefland Port - Kitanūmachi) [KM]</text>
<text x="121.75" y="196.30">Reefland Port and Sea Pickle Beach have walkway connection</text>
<text x="121.75" y="197.30">with Grand Junction Station</text>
<text x="149.75" y="185.30">Smith Line (West Exchange - Mirai Kaigan Public Library West Branch) [ST]</text>
<text x="149.75" y="187.30">Library Line (West Exchange - Mirai Kaigan Public Library) [L]</text>
<text x="149.75" y="189.30">Freemason Light Line (Grand Junction - Minami Kamimachi) [FL]</text>
<text x="149.75" y="191.30">Item Line (West Exchange - DK Central) [I]</text>
<text x="149.75" y="193.30">Tansomachi Line (Haiyama - North Gate Plaza) [TM]</text>
<text x="149.75" y="195.30">Yamamichi Line (World 6 Industries - Grand Junction) [Y]</text>
<text x="3.75" y="200.30">Metropolis Line (Loop for Grand Junction, West Exchange, Radio City, Tansomachi, Angel Island Zone 1, Sticker Sector, &amp; North Gate Plaza) [M]</text>
<text x="3.75" y="202.30">Kojokei Connector Line (Loop for Higashi Kigenshi (<tspan font-weight="normal">東起源市</tspan>), Kinetic Loop, Setsudori, Smithtown, and Kojogawadori) [KC]</text>
<text x="3.75" y="204.30">Restoration County Line (Loop for Angel Island Zone 1, North Savior Vault, East Savior Vault, South Savior Vault, and West Savior Vault) [REC]</text>
<text x="3.75" y="206.30">Skyliner (Polaris Amusement Tower - Uchūtaki Airport) [S]</text>
<text x="3.75" y="208.30">Midnight City Line (Sticker Sector - Irobashi, South Co-op Complexes) [MC]</text>
<text x="3.75" y="210.30">World's Fair Line</text>
<text x="74.75" y="200.30">Outborough Line 1 (Grand Junction -</text>
<text x="74.75" y="202.30">Outborough Line 2 (Grand Junction -</text>
<text x="74.75" y="204.30">Outborough Line 3 (Grand Junction - Enerugiyama Terminal) [O3]</text>
<text x="74.75" y="206.30">Outborough Line 4 (Grand Junction - Kakuyama Terminal) [O4]</text>
<text x="74.75" y="208.30">Outborough Line 5 (Grand Junction -</text>
<text x="78.75" y="209.30">some trains continue via PM for High Moon Junction</text>
<text x="74.75" y="210.30">Outborough Line 6 (Grand Junction -</text>
<text x="74.75" y="212.30">Power Line (Tansomachi - ) [P]</text>
<text x="109.75" y="200.30">Redstone Line 5 (Radio City - New Redstone City Municipal Building) [RS5]</text>
<text x="109.75" y="202.30">Kitanūmachi Amphibious Tram (Kitanūmachi - Shishima) [KA]</text>
<text x="109.75" y="204.30">Shissoushima Sandbar Line (Hoshisunashima - Namakodori 4 Chōme) [SS]</text>
<text x="109.75" y="206.30">Umimachi Deepwater Line (Namakodori 4 Chōme - Higashi Umimachi) [UM]</text>
<text x="109.75" y="208.30">Schematic M Line (Grand Junction - Coggard Library) [SM]</text>
<text x="109.75" y="210.30">Schematic C Line [Grand Junction - Coggard Library) [SC]</text>
<text x="109.75" y="212.30">Newer Vegas Line (Grand Junction - Newer Vegas Digital Sector) [NV]</text>
<text x="149.75" y="200.30">Polaris Main Line (Grand Junction -</text>
<text x="149.75" y="202.30">Polaris South Inlet Line (Grand Junction -</text>
<text x="149.75" y="204.30">Polaris Northeast Line (Grand Junction -</text>
<text x="149.75" y="206.30">Polaris West Line (Grand Junction -</text>
<text x="149.75" y="208.30">Polaris Intermediate North Line (Grand Junction -</text>
<text x="149.75" y="210.30">Polaris Intermediate South Line (Grand Junction -</text>
<text x="149.75" y="212.30">Polaris North Line (Grand Junction -</text>
<text x="46.75" y="217.30">University Demibolt Lines [U]</text>
<text x="65.75" y="217.30">University Freight</text>
<text x="97.75" y="216.30">Higashi Tansomachi Lines</text>
<text x="117.75" y="216.30">Nishi Tansomachi Lines</text>
<text x="3.75" y="219.30">Headline Sector Central (Radio City - Denmachi) [HSC]</text>
<text x="3.75" y="221.30">Headline Sector Newport (Radio City - Newport Village) [HSN]</text>
<text x="3.75" y="223.30">Headline Sector Newport River Branch (Radio City - Onsokuhashi) [HSR]</text>
<text x="3.75" y="225.30">Headline Sector Megadrive (Radio City - Information Insanity) [HSM]</text>
<text x="3.75" y="227.30">Headline Sector 64'er (Radio City - Rainbow Speedway) [HSG]</text>
<text x="3.75" y="229.30">Headline Sector Newport Sound (Radio City - Newport Sound Junction) [HSS]</text>
<text x="3.75" y="231.30">Headline Sector Nūmachikoen (Radio City - Nūmachikoen) [HSK]</text>
<text x="44.75" y="219.30">Greenstone Institute of Technology Line (Union Sq - Kōsōkumizu, Sticker Sector)</text>
<text x="44.75" y="221.30">Nishinojo University Line (Union Sq - NU Geology Campus)</text>
<text x="44.75" y="223.30">Resonance College Line (Union Sq - RC Audio Engineering Campus)</text>
<text x="44.75" y="225.30">CraftTec Military Academy Line (Union Sq - CTMA AM Campus)</text>
<text x="44.75" y="227.30">NU - GIT Tansomachi Campus Line (Union Sq - Tansomachi Industrial Library)</text>
<text x="44.75" y="229.30">Restoration County Connection (Union Sq - Angel Island Zone 1)</text>
<text x="44.75" y="231.30">Union Square Connection (Union Sq, West Exchange, Grand Junction)</text>
<text x="87.75" y="219.30">HT Main (Tansomachi - Nojodori 16-56 Chōme) [HT]</text>
<text x="87.75" y="221.30">HT Chū (Tansomachi - Nojodori 23-56 Chōme) [HTC]</text>
<text x="87.75" y="223.30">HT Pierside (Tansomachi - Pier 98 via Tansogawa) [HTP]</text>
<text x="87.75" y="225.30">HT Hokandori (Tansomachi - Hokandori 56 Chōme) [HTH]</text>
<text x="87.75" y="227.30">HT Nojodori (Tansomachi - Nojodori 32-56 Chōme) [HTN]</text>
<text x="87.75" y="229.30">HT Telecom (Tansomachi - Telecom 56 Chōme) [HTT]</text>
<text x="87.75" y="231.30">HT Project GC (Tansomachi - Guncore 56 Chōme) [HTG]</text>
<text x="117.75" y="219.30">HT Library (Tansomachi - Tansomachi Industrial Library) [HTL]</text>
<text x="117.75" y="221.30">HT Mod Hill (Tansomachi - Mod Hill Campus) [HTM]</text>
<text x="117.75" y="223.30">NT Project GC (Tansomachi - Guncore 56 Chōme) [NTG]</text>
<text x="117.75" y="225.30">NT Mobility (Tansomachi - Contour 56) [NTM]</text>
<text x="117.75" y="227.30">NT Aero (Tansomachi - Kūdori) [NTA]</text>
<text x="117.75" y="229.30">NT Kōshidori (Tansomachi - Kōshidori 56 Chōme) [NTK]</text>
<text x="117.75" y="231.30">NT Dendori (Tansomachi - Dendori 56 Chōme) [NTD]</text>
<text x="150.75" y="219.30">NT Logos (Tansomachi - Ronridori 1-56 Chōme) [NTL]</text>
<text x="150.75" y="221.30">NT Boolean (Tansomachi - Ronridori 20-56 Chōme) [NTB]</text>
<text x="150.75" y="223.30">NT Power (Tansomachi - Power 56 Chōme) [NTP]</text>
<text x="150.75" y="225.30">NT Riverside (Tansomachi - Power 56 Chōme) [NTR]</text>
<text x="150.75" y="227.30">NT Rokuhōkō (Tansomachi - Rokuhōkō Depot) [NTH]</text>
</g>
<g class="big">
<text x="227" y="20.4" font-size="13.4" text-anchor="middle">緑</text>
<text x="227" y="34.3" font-size="13.4" text-anchor="middle">石</text>
<text x="227" y="48.8" font-size="13.4" text-anchor="middle">市</text>
</g>
<g class="mono" transform="translate(226 0) scale(1.22 1)">
<text x="0" y="58.3" font-size="8" text-anchor="middle">M</text>
<text x="0" y="66.3" font-size="8" text-anchor="middle">E</text>
<text x="0" y="74.3" font-size="8" text-anchor="middle">T</text>
<text x="0" y="82.3" font-size="8" text-anchor="middle">R</text>
<text x="0" y="90.3" font-size="8" text-anchor="middle">O</text>
<text x="0" y="98.3" font-size="8" text-anchor="middle">P</text>
<text x="0" y="106.3" font-size="8" text-anchor="middle">O</text>
<text x="0" y="114.3" font-size="8" text-anchor="middle">L</text>
<text x="0" y="122.3" font-size="8" text-anchor="middle">I</text>
<text x="0" y="130.3" font-size="8" text-anchor="middle">S</text>
</g>

</g>
</svg>
</body></html>
